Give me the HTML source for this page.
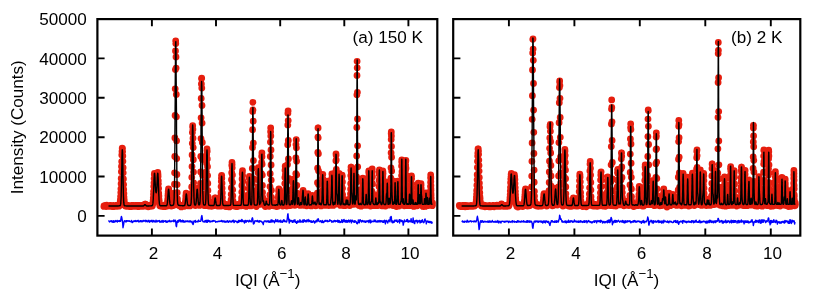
<!DOCTYPE html>
<html><head><meta charset="utf-8"><title>Diffraction</title>
<style>
html,body{margin:0;padding:0;background:#fff;}
body{width:818px;height:301px;overflow:hidden;font-family:"Liberation Sans",sans-serif;}
svg{display:block;position:absolute;left:0;top:0;will-change:transform;}
</style></head><body>
<svg width="818" height="301" viewBox="0 0 818 301">
<rect width="818" height="301" fill="#fff"/>
<g font-family="'Liberation Sans', sans-serif" font-size="17.1" fill="#000">
<path d="M103.9 206.4h0M104 205.8h0M104.2 206.4h0M104.3 205.9h0M104.5 206.4h0M104.7 205.9h0M104.8 205.6h0M105 206.1h0M105.1 205.4h0M105.3 206.2h0M105.4 206h0M105.6 206.1h0M105.7 206h0M105.9 205.7h0M106.1 206.5h0M106.2 206.4h0M106.4 206.4h0M106.5 206.2h0M106.7 205.2h0M106.8 205.8h0M107 206.1h0M107.2 206.1h0M107.3 206h0M107.5 205.9h0M107.6 205.5h0M107.8 205.8h0M107.9 205.8h0M108.1 205.8h0M108.3 205.7h0M108.4 206h0M108.6 205.8h0M108.7 205.6h0M108.9 205.9h0M109 206h0M109.2 206h0M109.3 206.3h0M109.5 205.9h0M109.7 205.8h0M109.8 205.8h0M110 206h0M110.1 205.5h0M110.3 206.2h0M110.4 206h0M110.6 205.8h0M110.8 205.4h0M110.9 206h0M111.1 206h0M111.2 206.1h0M111.4 205.7h0M111.5 206h0M111.7 206.2h0M111.8 205.7h0M112 206.5h0M112.2 205.9h0M112.3 205.6h0M112.5 206h0M112.6 206.1h0M112.8 205.8h0M112.9 205.7h0M113.1 206.1h0M113.3 205.3h0M113.4 206h0M113.6 206h0M113.7 206.2h0M113.9 205.8h0M114 205.8h0M114.2 206.5h0M114.3 206.2h0M114.5 205.8h0M114.7 205.8h0M114.8 206.1h0M115 205.9h0M115.1 206.1h0M115.3 206.4h0M115.4 205.6h0M115.6 206.1h0M115.8 205.9h0M115.9 205.3h0M116.1 206.2h0M116.2 205.5h0M116.4 206.4h0M116.5 206.4h0M116.7 205.6h0M116.8 206h0M117 206h0M117.2 205.7h0M117.3 206.2h0M117.5 205.4h0M117.6 206.3h0M117.8 205.6h0M117.9 206.1h0M118.1 206.2h0M118.3 205.5h0M118.4 205.2h0M118.6 205.8h0M118.7 205.8h0M118.9 206.2h0M119 205.2h0M119.2 205.2h0M119.3 205.6h0M119.5 205.3h0M119.7 205.4h0M119.8 204.4h0M120 203.8h0M120.1 202.5h0M120.3 200.8h0M120.4 199.5h0M120.6 196.4h0M120.8 192.6h0M120.9 188.8h0M121.1 183.7h0M121.2 178.5h0M121.4 171.7h0M121.5 166.5h0M121.7 161.6h0M121.8 155h0M122 151.4h0M122.2 148.2h0M122.3 148.8h0M122.5 148.4h0M122.6 151.6h0M122.8 155.9h0M122.9 161.3h0M123.1 167.7h0M123.2 172.8h0M123.4 178.9h0M123.6 184.6h0M123.7 189.4h0M123.9 193.4h0M124 197.1h0M124.2 199.7h0M124.3 201.2h0M124.5 202.9h0M124.7 204h0M124.8 204.1h0M125 205h0M125.1 205.3h0M125.3 205.6h0M125.4 206h0M125.6 206.1h0M125.7 205.6h0M125.9 205.3h0M126.1 205.6h0M126.2 206.3h0M126.4 206.1h0M126.5 205.5h0M126.7 205.5h0M126.8 206h0M127 206h0M127.1 206.2h0M127.3 205.7h0M127.5 205.1h0M127.6 206.4h0M127.8 206.2h0M127.9 205.8h0M128.1 205.7h0M128.2 206.4h0M128.4 206h0M128.5 205.9h0M128.7 205.9h0M128.9 206.2h0M129 205.9h0M129.2 206.5h0M129.3 205.7h0M129.5 205.6h0M129.6 205.9h0M129.8 205.9h0M129.9 206.1h0M130.1 206.2h0M130.3 205.8h0M130.4 206.1h0M130.6 205.6h0M130.7 205.8h0M130.9 205.6h0M131 206.2h0M131.2 206.4h0M131.3 206.1h0M131.5 205.6h0M131.7 206.5h0M131.8 206.3h0M132 206h0M132.1 206.3h0M132.3 205.3h0M132.4 206.1h0M132.6 205.8h0M132.7 205.7h0M132.9 206.3h0M133.1 205.9h0M133.2 205.9h0M133.4 206h0M133.5 205.9h0M133.7 206.1h0M133.8 206.3h0M134 205.6h0M134.1 205.7h0M134.3 206h0M134.5 206.4h0M134.6 206.3h0M134.8 206.2h0M134.9 205.9h0M135.1 206.3h0M135.2 205.8h0M135.4 205.9h0M135.5 206.1h0M135.7 205.8h0M135.9 206.3h0M136 205.8h0M136.2 205.9h0M136.3 206h0M136.5 206h0M136.6 205.9h0M136.8 206h0M136.9 206.4h0M137.1 205.8h0M137.3 206.3h0M137.4 205.9h0M137.6 206.6h0M137.7 206.5h0M137.9 206h0M138 206h0M138.2 206.4h0M138.3 206.2h0M138.5 205.9h0M138.6 205.5h0M138.8 205.9h0M139 205.3h0M139.1 206.6h0M139.3 206.2h0M139.4 206.4h0M139.6 206.1h0M139.7 206.2h0M139.9 205.9h0M140 206h0M140.2 206h0M140.4 206.1h0M140.5 205.6h0M140.7 206.2h0M140.8 206.3h0M141 206.3h0M141.1 205.4h0M141.3 206.1h0M141.4 206h0M141.6 205.9h0M141.7 205.5h0M141.9 206.2h0M142.1 206h0M142.2 206h0M142.4 206.2h0M142.5 205.7h0M142.7 206.3h0M142.8 205.9h0M143 206.1h0M143.1 206.2h0M143.3 206.3h0M143.5 205.4h0M143.6 206h0M143.8 205.7h0M143.9 206h0M144.1 205.5h0M144.2 205.1h0M144.4 205.2h0M144.5 204.9h0M144.7 205.2h0M144.8 204.3h0M145 204.2h0M145.2 204.6h0M145.3 205.2h0M145.5 204.2h0M145.6 204.9h0M145.8 205.1h0M145.9 205.5h0M146.1 205.3h0M146.2 206.2h0M146.4 206h0M146.5 206.1h0M146.7 206h0M146.9 206h0M147 206h0M147.2 205.7h0M147.3 206.5h0M147.5 206h0M147.6 205.2h0M147.8 205.3h0M147.9 206.3h0M148.1 205.7h0M148.2 206.8h0M148.4 206h0M148.6 205.3h0M148.7 206.1h0M148.9 206.2h0M149 205.9h0M149.2 206.1h0M149.3 206.4h0M149.5 206.2h0M149.6 206.2h0M149.8 205.9h0M149.9 205.1h0M150.1 205.9h0M150.3 205.4h0M150.4 205.8h0M150.6 206.1h0M150.7 206.1h0M150.9 206.3h0M151 205.9h0M151.2 205.8h0M151.3 205.2h0M151.5 205.7h0M151.6 205.8h0M151.8 205.9h0M152 205.8h0M152.1 205.2h0M152.3 206h0M152.4 205.6h0M152.6 204.8h0M152.7 204.4h0M152.9 203.3h0M153 201.9h0M153.2 200.1h0M153.3 197.8h0M153.5 194.3h0M153.6 191.5h0M153.8 186.4h0M154 182.8h0M154.1 178.6h0M154.3 174.5h0M154.4 173.5h0M154.6 173.8h0M154.7 174.7h0M154.9 176.6h0M155 178.8h0M155.2 182.1h0M155.3 185.9h0M155.5 188h0M155.6 190.2h0M155.8 191.5h0M156 192.6h0M156.1 192.1h0M156.3 192.3h0M156.4 192.1h0M156.6 191.1h0M156.7 188.9h0M156.9 187.1h0M157 184.5h0M157.2 181.4h0M157.3 177.6h0M157.5 175.7h0M157.6 173.9h0M157.8 172.5h0M158 174.3h0M158.1 176.2h0M158.3 180.7h0M158.4 183.8h0M158.6 188.5h0M158.7 193.2h0M158.9 195.9h0M159 199.2h0M159.2 200.7h0M159.3 202.4h0M159.5 204.1h0M159.6 204.5h0M159.8 205.7h0M160 205.6h0M160.1 205h0M160.3 206.1h0M160.4 205.8h0M160.6 205.4h0M160.7 205.5h0M160.9 205.4h0M161 205.4h0M161.2 205.3h0M161.3 206.3h0M161.5 205.7h0M161.6 206h0M161.8 205.9h0M161.9 206h0M162.1 205.7h0M162.3 206.1h0M162.4 205.5h0M162.6 205.4h0M162.7 205.8h0M162.9 205.4h0M163 206.5h0M163.2 205.6h0M163.3 205.7h0M163.5 205.8h0M163.6 206h0M163.8 205.7h0M163.9 205.5h0M164.1 206h0M164.2 205.6h0M164.4 205.9h0M164.5 205.5h0M164.7 206.7h0M164.9 206.1h0M165 204.9h0M165.2 205.7h0M165.3 206.2h0M165.5 205.9h0M165.6 205.9h0M165.8 205.3h0M165.9 206.2h0M166.1 205.9h0M166.2 205.6h0M166.4 205.8h0M166.5 205.3h0M166.7 206.2h0M166.8 205.3h0M167 204.5h0M167.1 203.6h0M167.3 203h0M167.5 201.8h0M167.6 200.5h0M167.8 198.8h0M167.9 195.6h0M168.1 193.6h0M168.2 191.6h0M168.4 189.7h0M168.5 188.9h0M168.7 189.4h0M168.8 189.2h0M169 191.5h0M169.1 193.3h0M169.3 196.6h0M169.4 198.6h0M169.6 200h0M169.7 202.9h0M169.9 203h0M170.1 203.8h0M170.2 204.8h0M170.4 205.5h0M170.5 204.2h0M170.7 205.4h0M170.8 205.7h0M171 205.9h0M171.1 205.6h0M171.3 206h0M171.4 205.5h0M171.6 205.6h0M171.7 205h0M171.9 205.5h0M172 205.4h0M172.2 205.3h0M172.3 205.7h0M172.5 205.2h0M172.6 205.1h0M172.8 205h0M172.9 205.1h0M173.1 205.2h0M173.3 204.7h0M173.4 205.4h0M173.6 204.5h0M173.7 204.2h0M173.9 203h0M174 201.6h0M174.2 197.3h0M174.3 193.1h0M174.5 184.2h0M174.6 172.8h0M174.8 156.4h0M174.9 138h0M175.1 115.4h0M175.2 88.8h0M175.4 69.6h0M175.5 51h0M175.7 40.9h0M175.8 43.6h0M176 56.9h0M176.1 68.1h0M176.3 94.4h0M176.4 116.8h0M176.6 140.8h0M176.7 158.6h0M176.9 174.5h0M177.1 184.6h0M177.2 192.7h0M177.4 198.9h0M177.5 201.7h0M177.7 202.1h0M177.8 203.8h0M178 204h0M178.1 205h0M178.3 205h0M178.4 205h0M178.6 205.3h0M178.7 205h0M178.9 204.4h0M179 205.5h0M179.2 205.7h0M179.3 205.8h0M179.5 205.4h0M179.6 205.3h0M179.8 205.2h0M179.9 205.7h0M180.1 205.8h0M180.2 205.9h0M180.4 205.6h0M180.5 205.7h0M180.7 205.1h0M180.8 206h0M181 206h0M181.1 205.6h0M181.3 206.9h0M181.4 205.2h0M181.6 206h0M181.7 206.4h0M181.9 206.1h0M182 206.4h0M182.2 205.7h0M182.4 205.8h0M182.5 205.7h0M182.7 205.7h0M182.8 205.8h0M183 205.3h0M183.1 206.1h0M183.3 205.1h0M183.4 205.9h0M183.6 205.8h0M183.7 205.6h0M183.9 204.8h0M184 206h0M184.2 206.2h0M184.3 205.4h0M184.5 206.3h0M184.6 204.8h0M184.8 204.7h0M184.9 204.7h0M185.1 204h0M185.2 203.2h0M185.4 201.4h0M185.5 200.6h0M185.7 198.7h0M185.8 195.9h0M186 195.3h0M186.1 193.2h0M186.3 193.8h0M186.4 193.8h0M186.6 194.6h0M186.7 196.2h0M186.9 198.3h0M187 199h0M187.2 201.2h0M187.3 202.4h0M187.5 203.6h0M187.6 204.5h0M187.8 204.3h0M187.9 205.3h0M188.1 205.7h0M188.2 205.6h0M188.4 205.4h0M188.5 205.6h0M188.7 205.4h0M188.8 205.9h0M189 205.9h0M189.1 205.1h0M189.3 205.4h0M189.4 204.9h0M189.6 205.5h0M189.7 204.4h0M189.9 205.9h0M190 205.5h0M190.2 205.6h0M190.3 205.3h0M190.5 204.9h0M190.6 205h0M190.8 204.8h0M190.9 203.7h0M191.1 202.9h0M191.2 201.8h0M191.4 198.6h0M191.5 193.4h0M191.7 186.9h0M191.8 177.3h0M192 166.6h0M192.1 155h0M192.3 143.3h0M192.4 132.4h0M192.6 126.8h0M192.7 125.7h0M192.9 129.2h0M193 138.2h0M193.2 147.6h0M193.3 159.7h0M193.5 172.1h0M193.6 182.8h0M193.8 190.9h0M193.9 195.6h0M194.1 199.2h0M194.2 202.5h0M194.4 203.6h0M194.5 203.5h0M194.7 205.3h0M194.8 204.9h0M195 204.9h0M195.1 204.8h0M195.3 205.5h0M195.4 205.1h0M195.6 204.2h0M195.7 204.4h0M195.9 203.6h0M196 202.7h0M196.2 201.2h0M196.3 200h0M196.5 197.4h0M196.6 195.7h0M196.8 192.3h0M196.9 191h0M197.1 188.7h0M197.2 188.5h0M197.4 189.6h0M197.5 191.2h0M197.7 191.9h0M197.8 196h0M198 198.2h0M198.1 200.7h0M198.3 203h0M198.4 203.5h0M198.6 203.5h0M198.7 204.1h0M198.9 204.9h0M199 205.2h0M199.2 204.5h0M199.3 204.5h0M199.5 205.4h0M199.6 205h0M199.8 203.8h0M199.9 202.7h0M200.1 200.9h0M200.2 197.6h0M200.4 192.4h0M200.5 183.3h0M200.7 172h0M200.8 156.4h0M201 138.6h0M201.1 117.8h0M201.2 98.4h0M201.4 84h0M201.5 78.6h0M201.7 78.2h0M201.8 88.1h0M202 105.4h0M202.1 123.1h0M202.3 142.4h0M202.4 159.4h0M202.6 175.2h0M202.7 186.5h0M202.9 194.1h0M203 198.5h0M203.2 201.7h0M203.3 203.4h0M203.5 204.3h0M203.6 204.6h0M203.8 204.9h0M203.9 204.7h0M204.1 205.1h0M204.2 205.4h0M204.4 204.8h0M204.5 205.1h0M204.7 205h0M204.8 204.4h0M205 205.7h0M205.1 204.5h0M205.3 205.1h0M205.4 204h0M205.5 203.8h0M205.7 201.3h0M205.8 198.8h0M206 194.7h0M206.1 187.8h0M206.3 180.7h0M206.4 171.8h0M206.6 163.2h0M206.7 154.5h0M206.9 150.2h0M207 149h0M207.2 151.2h0M207.3 159h0M207.5 166.7h0M207.6 175.6h0M207.8 183.4h0M207.9 190.4h0M208.1 196.8h0M208.2 200.1h0M208.4 201.9h0M208.5 203.3h0M208.7 204.5h0M208.8 204.7h0M208.9 206h0M209.1 205.6h0M209.2 204.6h0M209.4 205.8h0M209.5 205.8h0M209.7 205.5h0M209.8 205.1h0M210 205.3h0M210.1 205.1h0M210.3 205.6h0M210.4 205.2h0M210.6 205.4h0M210.7 205.6h0M210.9 204.9h0M211 205.8h0M211.2 206.2h0M211.3 206.1h0M211.5 206.3h0M211.6 205.1h0M211.7 206.1h0M211.9 205.8h0M212 205.8h0M212.2 204.7h0M212.3 205.2h0M212.5 206.1h0M212.6 205.8h0M212.8 205.5h0M212.9 205.5h0M213.1 205.7h0M213.2 205.8h0M213.4 205.3h0M213.5 204.9h0M213.7 205h0M213.8 205.2h0M214 204.6h0M214.1 204.6h0M214.2 204h0M214.4 203.1h0M214.5 202.1h0M214.7 200.9h0M214.8 199.7h0M215 198h0M215.1 198.2h0M215.3 198h0M215.4 198.1h0M215.6 199h0M215.7 200.9h0M215.9 201.9h0M216 204.1h0M216.1 203.8h0M216.3 204.8h0M216.4 205.3h0M216.6 204h0M216.7 204.7h0M216.9 205.4h0M217 205.7h0M217.2 205.3h0M217.3 205.6h0M217.5 206h0M217.6 205.8h0M217.8 205.3h0M217.9 205.6h0M218 206.1h0M218.2 205.1h0M218.3 205.7h0M218.5 205.4h0M218.6 205.4h0M218.8 205.2h0M218.9 205.7h0M219.1 205.5h0M219.2 205.7h0M219.4 205.7h0M219.5 205.4h0M219.7 205.6h0M219.8 205.2h0M219.9 204.9h0M220.1 204.8h0M220.2 206.2h0M220.4 203.4h0M220.5 202.8h0M220.7 199.8h0M220.8 195.9h0M221 192.5h0M221.1 186.6h0M221.3 181.3h0M221.4 178.2h0M221.5 175.6h0M221.7 175.4h0M221.8 178.3h0M222 183.2h0M222.1 188.2h0M222.3 193h0M222.4 197.4h0M222.6 201.5h0M222.7 202.6h0M222.9 204.7h0M223 204.4h0M223.1 204.9h0M223.3 204.8h0M223.4 205.5h0M223.6 205.3h0M223.7 205.7h0M223.9 205.8h0M224 205.9h0M224.2 205.9h0M224.3 205.7h0M224.5 205.1h0M224.6 205.1h0M224.7 205.5h0M224.9 205.5h0M225 205.6h0M225.2 205.3h0M225.3 205.8h0M225.5 204.9h0M225.6 205.8h0M225.8 206.6h0M225.9 205.2h0M226 205.8h0M226.2 204.4h0M226.3 206.6h0M226.5 205.4h0M226.6 205.6h0M226.8 205.6h0M226.9 205.1h0M227.1 205.3h0M227.2 205.2h0M227.3 205.8h0M227.5 205.7h0M227.6 206.2h0M227.8 205.1h0M227.9 206.1h0M228.1 204.8h0M228.2 205.7h0M228.4 205.7h0M228.5 205.7h0M228.6 206h0M228.8 205.6h0M228.9 205.8h0M229.1 206h0M229.2 205.2h0M229.4 206.9h0M229.5 205.4h0M229.7 205.5h0M229.8 206.2h0M229.9 204.3h0M230.1 205.7h0M230.2 204.9h0M230.4 204.4h0M230.5 204.8h0M230.7 204.4h0M230.8 203.2h0M230.9 202h0M231.1 199.6h0M231.2 194.3h0M231.4 188h0M231.5 179.7h0M231.7 172.7h0M231.8 165.2h0M232 162.5h0M232.1 164.4h0M232.2 167.8h0M232.4 174.9h0M232.5 182.4h0M232.7 189.8h0M232.8 195.8h0M233 200.8h0M233.1 203.4h0M233.2 202.7h0M233.4 204.5h0M233.5 204.5h0M233.7 205h0M233.8 205.4h0M234 205.5h0M234.1 205.6h0M234.2 206h0M234.4 205.3h0M234.5 205.6h0M234.7 205.2h0M234.8 204.8h0M235 205.6h0M235.1 204.7h0M235.2 205.5h0M235.4 205.6h0M235.5 205h0M235.7 206.2h0M235.8 205.9h0M236 206.6h0M236.1 205.9h0M236.2 205.4h0M236.4 205.6h0M236.5 205.7h0M236.7 205.7h0M236.8 205h0M237 205.5h0M237.1 205.6h0M237.2 205.8h0M237.4 206.6h0M237.5 205.6h0M237.7 205.6h0M237.8 205.7h0M238 205.1h0M238.1 205.8h0M238.2 205h0M238.4 206h0M238.5 204.6h0M238.7 205h0M238.8 206h0M238.9 205.6h0M239.1 204.5h0M239.2 204.7h0M239.4 205.9h0M239.5 205.8h0M239.7 205.7h0M239.8 204h0M239.9 204.9h0M240.1 205h0M240.2 205.9h0M240.4 204.8h0M240.5 205.9h0M240.7 205h0M240.8 205.1h0M240.9 204.8h0M241.1 204.9h0M241.2 203.9h0M241.4 203.8h0M241.5 201h0M241.6 197.9h0M241.8 192.1h0M241.9 185.4h0M242.1 178.9h0M242.2 173.7h0M242.4 171.9h0M242.5 170.7h0M242.6 175.6h0M242.8 181.2h0M242.9 188.3h0M243.1 194.8h0M243.2 198.9h0M243.3 202h0M243.5 203.5h0M243.6 205h0M243.8 204.8h0M243.9 205h0M244 204.6h0M244.2 205.8h0M244.3 204.4h0M244.5 205.4h0M244.6 204.8h0M244.8 205.4h0M244.9 205h0M245 205.1h0M245.2 205.7h0M245.3 206h0M245.5 204.8h0M245.6 205h0M245.7 204.5h0M245.9 205.6h0M246 206h0M246.2 204.7h0M246.3 206.4h0M246.4 205.7h0M246.6 205.4h0M246.7 205.7h0M246.9 205.8h0M247 205.8h0M247.1 204.4h0M247.3 204.7h0M247.4 205.8h0M247.6 205.2h0M247.7 205.5h0M247.8 205.5h0M248 205.1h0M248.1 204.4h0M248.3 204.3h0M248.4 204.5h0M248.5 202h0M248.7 198.7h0M248.8 194.7h0M249 188.6h0M249.1 183.7h0M249.2 178.1h0M249.4 176.3h0M249.5 177.9h0M249.7 181.7h0M249.8 187.3h0M249.9 191.6h0M250.1 197.5h0M250.2 201.3h0M250.4 202.9h0M250.5 203.2h0M250.6 203.9h0M250.8 205.9h0M250.9 204.9h0M251.1 204.1h0M251.2 204.9h0M251.3 204.8h0M251.5 205.1h0M251.6 203.7h0M251.8 202.4h0M251.9 199.5h0M252 194h0M252.2 182.9h0M252.3 168.4h0M252.5 147.5h0M252.6 129.7h0M252.7 111.4h0M252.9 102.3h0M253 110h0M253.2 121.2h0M253.3 143.1h0M253.4 160.6h0M253.6 178.8h0M253.7 190.9h0M253.8 198.5h0M254 202.4h0M254.1 204.2h0M254.3 203.6h0M254.4 204.3h0M254.5 204.7h0M254.7 204.7h0M254.8 205.5h0M255 205.5h0M255.1 204.8h0M255.2 205.6h0M255.4 204.6h0M255.5 205.2h0M255.7 205.2h0M255.8 205.5h0M255.9 204.2h0M256.1 205.7h0M256.2 205.8h0M256.3 206.5h0M256.5 204.6h0M256.6 205.5h0M256.8 205.1h0M256.9 205.3h0M257 204h0M257.2 205.1h0M257.3 203.8h0M257.5 201.1h0M257.6 198.7h0M257.7 193.8h0M257.9 186.7h0M258 179.7h0M258.1 172.8h0M258.3 167.7h0M258.4 168.6h0M258.6 171.6h0M258.7 179h0M258.8 187.1h0M259 193.6h0M259.1 199h0M259.2 201.8h0M259.4 203h0M259.5 204.2h0M259.7 204.4h0M259.8 204h0M259.9 203.2h0M260.1 204h0M260.2 203.2h0M260.3 203.7h0M260.5 202.9h0M260.6 201.7h0M260.8 203.1h0M260.9 201.1h0M261 198.8h0M261.2 192.3h0M261.3 185.3h0M261.4 173.6h0M261.6 162.4h0M261.7 156.2h0M261.9 153h0M262 156.7h0M262.1 164.2h0M262.3 175.1h0M262.4 185.4h0M262.5 192.4h0M262.7 197.3h0M262.8 200.2h0M262.9 201.7h0M263.1 201.7h0M263.2 201.4h0M263.4 201.1h0M263.5 201.2h0M263.6 201.8h0M263.8 203.2h0M263.9 202.7h0M264 203.8h0M264.2 205h0M264.3 203.6h0M264.5 203.9h0M264.6 204.4h0M264.7 204.6h0M264.9 205.9h0M265 205.8h0M265.1 205h0M265.3 206.5h0M265.4 204.7h0M265.5 203.7h0M265.7 203.9h0M265.8 203h0M266 203.2h0M266.1 201.8h0M266.2 201.1h0M266.4 201h0M266.5 201.5h0M266.6 202.7h0M266.8 202.2h0M266.9 203.8h0M267 204.6h0M267.2 204.5h0M267.3 204h0M267.4 204h0M267.6 204.2h0M267.7 204.3h0M267.9 204.5h0M268 204.8h0M268.1 204.9h0M268.3 204.8h0M268.4 205.2h0M268.5 205.2h0M268.7 204.9h0M268.8 204.2h0M268.9 205h0M269.1 206.3h0M269.2 205.2h0M269.3 203.2h0M269.5 204.3h0M269.6 202.6h0M269.7 200.4h0M269.9 194.9h0M270 186.6h0M270.2 173.7h0M270.3 156.5h0M270.4 142.1h0M270.6 131.7h0M270.7 127.9h0M270.8 136h0M271 150h0M271.1 165h0M271.2 180.1h0M271.4 190.3h0M271.5 197.3h0M271.6 201.1h0M271.8 203.8h0M271.9 204.5h0M272 204.4h0M272.2 205h0M272.3 205.1h0M272.4 204.5h0M272.6 205.7h0M272.7 205h0M272.8 204.9h0M273 205.1h0M273.1 205.5h0M273.2 204.6h0M273.4 204.9h0M273.5 205.5h0M273.7 204.7h0M273.8 205.8h0M273.9 204.7h0M274.1 204.5h0M274.2 204.9h0M274.3 205h0M274.5 204.7h0M274.6 204.7h0M274.7 205.1h0M274.9 205h0M275 206h0M275.1 205.5h0M275.3 204.7h0M275.4 204.8h0M275.5 205.6h0M275.7 205.9h0M275.8 205.3h0M275.9 204.4h0M276.1 205.5h0M276.2 205.3h0M276.3 204.4h0M276.5 203.7h0M276.6 204.5h0M276.7 206.5h0M276.9 205h0M277 205.1h0M277.1 205.4h0M277.3 204.7h0M277.4 204.4h0M277.5 205.5h0M277.7 206.2h0M277.8 205.3h0M277.9 203.4h0M278.1 203h0M278.2 201.4h0M278.3 197.5h0M278.5 195.5h0M278.6 191h0M278.7 189.5h0M278.9 189h0M279 190.5h0M279.1 193.5h0M279.3 197.8h0M279.4 201.5h0M279.5 202.9h0M279.6 203.8h0M279.8 204.7h0M279.9 204.3h0M280 204.1h0M280.2 203.5h0M280.3 205.2h0M280.4 205.2h0M280.6 204.9h0M280.7 204.8h0M280.8 204.9h0M281 204.1h0M281.1 204.9h0M281.2 204.6h0M281.4 202h0M281.5 200.9h0M281.6 199.5h0M281.8 200.2h0M281.9 200.3h0M282 201.4h0M282.2 202.6h0M282.3 203.3h0M282.4 203.4h0M282.6 204.4h0M282.7 206.1h0M282.8 205.4h0M282.9 205.5h0M283.1 204.7h0M283.2 205h0M283.3 205.6h0M283.5 205.3h0M283.6 205.2h0M283.7 204.6h0M283.9 205.4h0M284 205.3h0M284.1 203.9h0M284.3 202.5h0M284.4 200.4h0M284.5 197.9h0M284.7 192.8h0M284.8 183.6h0M284.9 177.4h0M285 170.3h0M285.2 166.2h0M285.3 168.3h0M285.4 174.3h0M285.6 182.7h0M285.7 189.5h0M285.8 196.8h0M286 200.3h0M286.1 202.5h0M286.2 204.6h0M286.4 204.3h0M286.5 205.4h0M286.6 204.1h0M286.7 206.1h0M286.9 204h0M287 202h0M287.1 198.1h0M287.3 191.8h0M287.4 180.7h0M287.5 164.4h0M287.7 144.7h0M287.8 124.9h0M287.9 113.3h0M288.1 111h0M288.2 120.6h0M288.3 140.4h0M288.4 159h0M288.6 178.3h0M288.7 190.4h0M288.8 197.9h0M289 200.6h0M289.1 203.3h0M289.2 204.3h0M289.3 204h0M289.5 204.9h0M289.6 203.7h0M289.7 205.5h0M289.9 205.4h0M290 204.4h0M290.1 204.5h0M290.3 205.3h0M290.4 205.6h0M290.5 204.6h0M290.6 204.7h0M290.8 204.7h0M290.9 204.4h0M291 203.7h0M291.2 202.7h0M291.3 202.2h0M291.4 200.5h0M291.5 201.5h0M291.7 200.1h0M291.8 202.5h0M291.9 202.8h0M292.1 203.8h0M292.2 204.6h0M292.3 205h0M292.5 203.7h0M292.6 204.5h0M292.7 201.3h0M292.8 196.9h0M293 192.9h0M293.1 187.9h0M293.2 183.8h0M293.4 179.2h0M293.5 179.8h0M293.6 183.9h0M293.7 189.6h0M293.9 194.8h0M294 198.8h0M294.1 201.5h0M294.2 204h0M294.4 203.9h0M294.5 204.5h0M294.6 204.9h0M294.8 204.8h0M294.9 205.3h0M295 203.9h0M295.1 203.1h0M295.3 202.6h0M295.4 199.7h0M295.5 194.4h0M295.7 186.5h0M295.8 173.7h0M295.9 157.8h0M296 144.6h0M296.2 139.7h0M296.3 139.9h0M296.4 147.8h0M296.6 161.2h0M296.7 174.8h0M296.8 185.3h0M296.9 193.1h0M297.1 199h0M297.2 201.8h0M297.3 203.2h0M297.4 204.2h0M297.6 204.4h0M297.7 203.6h0M297.8 203.1h0M298 202.5h0M298.1 200.6h0M298.2 199.8h0M298.3 199.1h0M298.5 198.5h0M298.6 197.8h0M298.7 199.3h0M298.8 200h0M299 202.8h0M299.1 204.7h0M299.2 203.6h0M299.3 204.5h0M299.5 205.1h0M299.6 204.1h0M299.7 204.9h0M299.9 204.9h0M300 204.1h0M300.1 203.8h0M300.2 205.4h0M300.4 204h0M300.5 204.7h0M300.6 204.1h0M300.7 202.4h0M300.9 201.5h0M301 202.4h0M301.1 203.5h0M301.2 203.8h0M301.4 204.2h0M301.5 204.7h0M301.6 204.5h0M301.7 204.2h0M301.9 203.9h0M302 202.5h0M302.1 200.6h0M302.2 199.7h0M302.4 196.6h0M302.5 196.2h0M302.6 194.1h0M302.8 192.5h0M302.9 191.4h0M303 190.7h0M303.1 190.5h0M303.3 192.3h0M303.4 195.1h0M303.5 198h0M303.6 200.9h0M303.8 202h0M303.9 204.3h0M304 204.6h0M304.1 205.4h0M304.3 203.5h0M304.4 203.7h0M304.5 203.9h0M304.6 202.9h0M304.8 203h0M304.9 200.4h0M305 198.8h0M305.1 197.6h0M305.3 196.6h0M305.4 197.6h0M305.5 200h0M305.6 201.2h0M305.8 202.7h0M305.9 203h0M306 203.5h0M306.1 204.5h0M306.2 205.4h0M306.4 205.8h0M306.5 204.6h0M306.6 205.3h0M306.7 204.1h0M306.9 205.8h0M307 205.2h0M307.1 205.2h0M307.2 204.3h0M307.4 204.2h0M307.5 202.2h0M307.6 201.5h0M307.7 199.3h0M307.9 198.7h0M308 195.2h0M308.1 193.6h0M308.2 194.5h0M308.4 195h0M308.5 198h0M308.6 199.5h0M308.7 201.8h0M308.9 204.7h0M309 203.9h0M309.1 203.7h0M309.2 204.4h0M309.3 204.9h0M309.5 204.4h0M309.6 204.1h0M309.7 205.4h0M309.8 205.1h0M310 204.2h0M310.1 205.4h0M310.2 204.6h0M310.3 204h0M310.5 204.7h0M310.6 205.7h0M310.7 204.3h0M310.8 205.7h0M310.9 205.2h0M311.1 204.5h0M311.2 203.8h0M311.3 204.5h0M311.4 205.9h0M311.6 205.2h0M311.7 203.9h0M311.8 201.8h0M311.9 201.2h0M312 199.3h0M312.2 197.2h0M312.3 195.9h0M312.4 195.3h0M312.5 196.3h0M312.7 197.7h0M312.8 200h0M312.9 201.6h0M313 203h0M313.1 204.5h0M313.3 203.6h0M313.4 204.5h0M313.5 203.7h0M313.6 203.4h0M313.8 202.7h0M313.9 202h0M314 203.4h0M314.1 202.9h0M314.2 204.2h0M314.4 204.4h0M314.5 203.5h0M314.6 203.3h0M314.7 202.8h0M314.9 202.8h0M315 201.7h0M315.1 201.6h0M315.2 201.3h0M315.3 203.4h0M315.5 204.4h0M315.6 203h0M315.7 205.8h0M315.8 203.6h0M315.9 205.7h0M316.1 204.4h0M316.2 205h0M316.3 204.6h0M316.4 204.8h0M316.5 204.6h0M316.7 203.7h0M316.8 202.6h0M316.9 203.4h0M317 203h0M317.2 201.4h0M317.3 199.4h0M317.4 193.1h0M317.5 182.7h0M317.6 168.2h0M317.8 152.5h0M317.9 137.1h0M318 127.9h0M318.1 128h0M318.2 137.8h0M318.4 153.7h0M318.5 170.8h0M318.6 184.6h0M318.7 194h0M318.8 199.3h0M319 202.4h0M319.1 204.1h0M319.2 204.4h0M319.3 205.1h0M319.4 204h0M319.6 203.3h0M319.7 203.3h0M319.8 204.6h0M319.9 203.3h0M320 203.1h0M320.2 203.2h0M320.3 203.4h0M320.4 204.3h0M320.5 205.3h0M320.6 204.7h0M320.7 205.2h0M320.9 204.2h0M321 205.9h0M321.1 205.5h0M321.2 204.8h0M321.3 204.8h0M321.5 203.3h0M321.6 203.6h0M321.7 203.7h0M321.8 201.8h0M321.9 201.7h0M322.1 197.5h0M322.2 195h0M322.3 190.8h0M322.4 184.1h0M322.5 178h0M322.7 174.6h0M322.8 174.3h0M322.9 178.8h0M323 185.3h0M323.1 191.1h0M323.2 198h0M323.4 201.3h0M323.5 203.8h0M323.6 204h0M323.7 203.9h0M323.8 204.4h0M324 204h0M324.1 203.9h0M324.2 204.6h0M324.3 204.9h0M324.4 204.2h0M324.5 204h0M324.7 204.6h0M324.8 205.1h0M324.9 203.8h0M325 204.7h0M325.1 205.4h0M325.2 205.3h0M325.4 204.6h0M325.5 203.5h0M325.6 204h0M325.7 205.3h0M325.8 203.9h0M326 204.1h0M326.1 204.3h0M326.2 203.5h0M326.3 204.5h0M326.4 204.3h0M326.5 203.4h0M326.7 201.8h0M326.8 198.9h0M326.9 194.4h0M327 188.5h0M327.1 183.9h0M327.2 181.6h0M327.4 181.1h0M327.5 183.2h0M327.6 187.9h0M327.7 194.8h0M327.8 198.4h0M327.9 200.2h0M328.1 203.9h0M328.2 204.5h0M328.3 205.1h0M328.4 205h0M328.5 204.1h0M328.6 205.4h0M328.8 205.5h0M328.9 204.8h0M329 203.9h0M329.1 204.4h0M329.2 205.1h0M329.3 204.3h0M329.5 204.7h0M329.6 204.9h0M329.7 204.6h0M329.8 205.3h0M329.9 204.7h0M330 205.3h0M330.1 204.8h0M330.3 205.4h0M330.4 204.6h0M330.5 203.7h0M330.6 203h0M330.7 201.3h0M330.8 201.3h0M331 198.8h0M331.1 199.3h0M331.2 198.1h0M331.3 195.1h0M331.4 191.8h0M331.5 187.5h0M331.6 182.6h0M331.8 178.1h0M331.9 173.9h0M332 174.2h0M332.1 178.8h0M332.2 184.8h0M332.3 189.9h0M332.5 195.5h0M332.6 199.8h0M332.7 201.8h0M332.8 202.8h0M332.9 203.6h0M333 204h0M333.1 204.1h0M333.3 205.4h0M333.4 205.2h0M333.5 204.6h0M333.6 203.9h0M333.7 203.4h0M333.8 202.7h0M333.9 202.8h0M334.1 202.7h0M334.2 202.7h0M334.3 202.6h0M334.4 202.8h0M334.5 202.9h0M334.6 203h0M334.7 204.6h0M334.8 202.1h0M335 203.9h0M335.1 203.3h0M335.2 202.8h0M335.3 201.5h0M335.4 197.5h0M335.5 191.4h0M335.6 182.1h0M335.8 171.4h0M335.9 160.7h0M336 153.8h0M336.1 155h0M336.2 159.9h0M336.3 169.5h0M336.4 179.7h0M336.5 187h0M336.7 191.7h0M336.8 192.6h0M336.9 194.1h0M337 193.9h0M337.1 194.8h0M337.2 197.2h0M337.3 200.3h0M337.5 201.1h0M337.6 202.8h0M337.7 203.7h0M337.8 203h0M337.9 203.9h0M338 203.6h0M338.1 202.6h0M338.2 201.4h0M338.4 199.7h0M338.5 197.3h0M338.6 193.1h0M338.7 188.1h0M338.8 184.3h0M338.9 176.9h0M339 173.3h0M339.1 173.7h0M339.2 177.2h0M339.4 183.1h0M339.5 189.3h0M339.6 195.3h0M339.7 199.4h0M339.8 202.5h0M339.9 202.9h0M340 204.2h0M340.1 204.5h0M340.3 204.9h0M340.4 204.5h0M340.5 205.4h0M340.6 205.4h0M340.7 204.7h0M340.8 205h0M340.9 205.3h0M341 204.6h0M341.1 204.4h0M341.3 203.6h0M341.4 202.6h0M341.5 199.8h0M341.6 197.5h0M341.7 191.6h0M341.8 186.3h0M341.9 181.2h0M342 176.8h0M342.1 175.1h0M342.3 176.1h0M342.4 181.9h0M342.5 188.3h0M342.6 194.6h0M342.7 198h0M342.8 201.3h0M342.9 204.3h0M343 203.3h0M343.1 205.5h0M343.2 204h0M343.4 203.7h0M343.5 205.3h0M343.6 204.4h0M343.7 203.1h0M343.8 203.6h0M343.9 203.3h0M344 202.6h0M344.1 203.8h0M344.2 203.4h0M344.3 203.6h0M344.5 204.8h0M344.6 203.5h0M344.7 204.2h0M344.8 204.9h0M344.9 204.3h0M345 205.5h0M345.1 205.7h0M345.2 203.4h0M345.3 203.7h0M345.4 204.6h0M345.5 205.5h0M345.7 204.7h0M345.8 203h0M345.9 202.4h0M346 201.3h0M346.1 200.6h0M346.2 200h0M346.3 199.9h0M346.4 200.6h0M346.5 199.8h0M346.6 202.8h0M346.7 203.5h0M346.9 204.6h0M347 205.2h0M347.1 204.4h0M347.2 202.3h0M347.3 202.5h0M347.4 200h0M347.5 199.7h0M347.6 199.7h0M347.7 200.7h0M347.8 201.4h0M347.9 201.9h0M348 202h0M348.2 205.2h0M348.3 203.5h0M348.4 205h0M348.5 204.9h0M348.6 204.9h0M348.7 203.9h0M348.8 204.5h0M348.9 204.5h0M349 205.1h0M349.1 204.7h0M349.2 205.2h0M349.3 204.7h0M349.4 205.6h0M349.6 203.8h0M349.7 203.3h0M349.8 205.5h0M349.9 205h0M350 204.4h0M350.1 203.8h0M350.2 203.3h0M350.3 201.4h0M350.4 197.7h0M350.5 193.8h0M350.6 189.1h0M350.7 183.6h0M350.8 175.6h0M350.9 170.1h0M351 167.1h0M351.2 167.2h0M351.3 172.5h0M351.4 178.5h0M351.5 185h0M351.6 189.2h0M351.7 193h0M351.8 193.5h0M351.9 194h0M352 195.3h0M352.1 196.3h0M352.2 200.3h0M352.3 202.2h0M352.4 202.4h0M352.5 203.6h0M352.6 204.4h0M352.7 204.2h0M352.9 204.4h0M353 203.8h0M353.1 203.3h0M353.2 201.8h0M353.3 201.3h0M353.4 197.9h0M353.5 194.4h0M353.6 189.5h0M353.7 181.3h0M353.8 175.5h0M353.9 173.8h0M354 171.4h0M354.1 178.1h0M354.2 183.4h0M354.3 189.9h0M354.4 196.4h0M354.5 200.5h0M354.6 202.9h0M354.7 201.9h0M354.9 202.9h0M355 204.2h0M355.1 203.4h0M355.2 203.5h0M355.3 202.7h0M355.4 202.1h0M355.5 199h0M355.6 196.9h0M355.7 196.4h0M355.8 195.9h0M355.9 195.9h0M356 198.5h0M356.1 198.7h0M356.2 200h0M356.3 200.2h0M356.4 198h0M356.5 191.1h0M356.6 177h0M356.7 156h0M356.8 127.5h0M356.9 94.8h0M357 75.4h0M357.1 61.3h0M357.2 67.8h0M357.4 92.3h0M357.5 118.9h0M357.6 145.8h0M357.7 166.8h0M357.8 181.5h0M357.9 190.1h0M358 194.9h0M358.1 198.5h0M358.2 199.7h0M358.3 202.1h0M358.4 203.5h0M358.5 204.4h0M358.6 204.3h0M358.7 203.3h0M358.8 203.1h0M358.9 204.7h0M359 205.5h0M359.1 204h0M359.2 203.1h0M359.3 204.7h0M359.4 204.8h0M359.5 205.4h0M359.6 204.6h0M359.7 204.5h0M359.8 205.2h0M359.9 203.9h0M360 203.5h0M360.1 203.3h0M360.2 204.2h0M360.3 203.9h0M360.4 203.9h0M360.5 203.7h0M360.6 204.4h0M360.7 203.5h0M360.8 204.7h0M360.9 203.4h0M361 203.8h0M361.1 206.2h0M361.2 204.1h0M361.4 204.2h0M361.5 204.2h0M361.6 203.4h0M361.7 205h0M361.8 203.4h0M361.9 203.7h0M362 204.4h0M362.1 202.5h0M362.2 201.3h0M362.3 198.9h0M362.4 194.5h0M362.5 191.9h0M362.6 187.1h0M362.7 180.5h0M362.8 178.1h0M362.9 178.7h0M363 182.4h0M363.1 186.8h0M363.2 194h0M363.3 196.1h0M363.4 199.3h0M363.5 202.4h0M363.6 202.4h0M363.7 203.1h0M363.8 203.7h0M363.9 203.7h0M364 203.9h0M364.1 204.1h0M364.2 204.2h0M364.3 204.9h0M364.4 204.4h0M364.5 205h0M364.6 204.9h0M364.7 204.5h0M364.8 205h0M364.9 204.2h0M365 204.1h0M365.1 204.4h0M365.2 204.2h0M365.3 205.2h0M365.4 204h0M365.5 205.4h0M365.6 202.7h0M365.7 202.6h0M365.8 201.7h0M365.9 198.5h0M366 196.8h0M366.1 193.8h0M366.2 194.2h0M366.3 194h0M366.4 196.3h0M366.5 197.6h0M366.6 200.7h0M366.7 202.5h0M366.8 203.4h0M366.9 204.8h0M367 205.4h0M367.1 205h0M367.2 205h0M367.2 204.4h0M367.3 204.9h0M367.4 203.4h0M367.5 203.6h0M367.6 204.4h0M367.7 203.1h0M367.8 203.2h0M367.9 205.4h0M368 204.1h0M368.1 202.5h0M368.2 200.3h0M368.3 196.8h0M368.4 190.2h0M368.5 182.2h0M368.6 177.1h0M368.7 172.1h0M368.8 170.8h0M368.9 173.3h0M369 178.9h0M369.1 184.8h0M369.2 191h0M369.3 197.5h0M369.4 201.5h0M369.5 202.1h0M369.6 203.3h0M369.7 204.3h0M369.8 204.3h0M369.9 204.9h0M370 205.1h0M370.1 205.1h0M370.2 205h0M370.3 205.6h0M370.4 204.2h0M370.5 206.1h0M370.6 205h0M370.7 204h0M370.8 204.1h0M370.9 203.2h0M371 201.7h0M371 201.1h0M371.1 200.6h0M371.2 201.8h0M371.3 200.7h0M371.4 201.9h0M371.5 200.9h0M371.6 199.4h0M371.7 196.5h0M371.8 191.2h0M371.9 182.8h0M372 177.5h0M372.1 171h0M372.2 168.9h0M372.3 171.8h0M372.4 176.7h0M372.5 184h0M372.6 193.1h0M372.7 194.7h0M372.8 197.8h0M372.9 201.3h0M373 203.5h0M373.1 203h0M373.2 204.8h0M373.2 202.7h0M373.3 204.4h0M373.4 203.4h0M373.5 204.6h0M373.6 204.6h0M373.7 205.7h0M373.8 203.4h0M373.9 205.1h0M374 204.3h0M374.1 205.3h0M374.2 205.1h0M374.3 205.2h0M374.4 204.3h0M374.5 204.4h0M374.6 205.3h0M374.7 204.6h0M374.8 205.6h0M374.9 204.7h0M375 204.7h0M375 205.2h0M375.1 205.1h0M375.2 204.8h0M375.3 202.2h0M375.4 200.4h0M375.5 200.8h0M375.6 199.5h0M375.7 198.1h0M375.8 199.4h0M375.9 197.6h0M376 198.6h0M376.1 200.4h0M376.2 200.4h0M376.3 202.1h0M376.4 202.6h0M376.4 204h0M376.5 204.7h0M376.6 203.8h0M376.7 204.3h0M376.8 204.4h0M376.9 204.9h0M377 204.6h0M377.1 205.7h0M377.2 204.4h0M377.3 205.6h0M377.4 203.8h0M377.5 203.6h0M377.6 204.6h0M377.7 202.9h0M377.7 203.2h0M377.8 202.1h0M377.9 202.4h0M378 202.4h0M378.1 201.8h0M378.2 201.7h0M378.3 204h0M378.4 203.9h0M378.5 203.5h0M378.6 203.4h0M378.7 202h0M378.8 200.5h0M378.9 198.1h0M378.9 194.4h0M379 186.4h0M379.1 180.5h0M379.2 174.2h0M379.3 171.5h0M379.4 169.8h0M379.5 173h0M379.6 178.7h0M379.7 184h0M379.8 191.8h0M379.9 196.5h0M380 200.2h0M380 202.3h0M380.1 202.7h0M380.2 202.3h0M380.3 201.5h0M380.4 201.9h0M380.5 201h0M380.6 202h0M380.7 202.6h0M380.8 202.8h0M380.9 201.8h0M381 203.1h0M381 202.9h0M381.1 204.4h0M381.2 204.4h0M381.3 204.3h0M381.4 204.5h0M381.5 205.8h0M381.6 205.2h0M381.7 204.4h0M381.8 204.1h0M381.9 205.1h0M381.9 205h0M382 204.6h0M382.1 203.2h0M382.2 201.3h0M382.3 200.5h0M382.4 198.6h0M382.5 193.6h0M382.6 188.2h0M382.7 182.1h0M382.8 175.9h0M382.8 170.8h0M382.9 171.7h0M383 173.4h0M383.1 179.5h0M383.2 186.4h0M383.3 191.6h0M383.4 196.9h0M383.5 200.4h0M383.6 202.1h0M383.6 202.5h0M383.7 204.3h0M383.8 203.9h0M383.9 204.2h0M384 203.8h0M384.1 202.7h0M384.2 204.3h0M384.3 202.9h0M384.4 203.9h0M384.4 203.5h0M384.5 203.9h0M384.6 204.1h0M384.7 203.9h0M384.8 205.9h0M384.9 204.8h0M385 204.2h0M385.1 203.6h0M385.1 205.6h0M385.2 206.1h0M385.3 204.7h0M385.4 204.2h0M385.5 204.8h0M385.6 206.1h0M385.7 204.6h0M385.8 203.6h0M385.8 203.7h0M385.9 204.6h0M386 203.2h0M386.1 202.1h0M386.2 200.1h0M386.3 197.2h0M386.4 195.5h0M386.5 195.6h0M386.5 194.9h0M386.6 194.8h0M386.7 194.4h0M386.8 195h0M386.9 193h0M387 191.6h0M387.1 188.5h0M387.1 185.7h0M387.2 183.3h0M387.3 182.2h0M387.4 183.2h0M387.5 188.3h0M387.6 193.6h0M387.7 195.1h0M387.8 198.3h0M387.8 200.7h0M387.9 203.1h0M388 204.1h0M388.1 204.2h0M388.2 204.3h0M388.3 205.1h0M388.4 203.8h0M388.4 203.6h0M388.5 203.9h0M388.6 205.2h0M388.7 203.6h0M388.8 202.7h0M388.9 201.2h0M389 200.8h0M389 198.4h0M389.1 198.6h0M389.2 199.3h0M389.3 199h0M389.4 199.4h0M389.5 201.2h0M389.6 202.2h0M389.6 202.1h0M389.7 203.6h0M389.8 202.9h0M389.9 203.7h0M390 204.6h0M390.1 203.6h0M390.1 204.2h0M390.2 201.6h0M390.3 203.5h0M390.4 201.2h0M390.5 201.5h0M390.6 198.3h0M390.7 194.7h0M390.7 195.5h0M390.8 189h0M390.9 178.1h0M391 167.8h0M391.1 152.8h0M391.2 139.5h0M391.2 133.5h0M391.3 131.9h0M391.4 135.9h0M391.5 146.5h0M391.6 157.2h0M391.7 170.9h0M391.7 180.1h0M391.8 187.6h0M391.9 192.2h0M392 194.4h0M392.1 195.7h0M392.2 196.5h0M392.2 199.2h0M392.3 199.5h0M392.4 201.6h0M392.5 205h0M392.6 204.4h0M392.7 203.7h0M392.7 204.7h0M392.8 204.3h0M392.9 204.9h0M393 205.5h0M393.1 203.8h0M393.2 204.5h0M393.2 205.2h0M393.3 204.8h0M393.4 204.6h0M393.5 203.2h0M393.6 202.8h0M393.6 201.5h0M393.7 201.7h0M393.8 201h0M393.9 201.5h0M394 202.5h0M394.1 202.5h0M394.1 202.8h0M394.2 204h0M394.3 203.4h0M394.4 204.1h0M394.5 201.9h0M394.5 202.9h0M394.6 199.8h0M394.7 195.6h0M394.8 193.3h0M394.9 187.9h0M395 184.3h0M395 183.7h0M395.1 181.3h0M395.2 183.5h0M395.3 185.6h0M395.4 189.9h0M395.4 194.3h0M395.5 197.2h0M395.6 200.7h0M395.7 202.2h0M395.8 203h0M395.8 203.7h0M395.9 203.5h0M396 204.3h0M396.1 203h0M396.2 202.7h0M396.2 204.7h0M396.3 204.5h0M396.4 203.8h0M396.5 206.5h0M396.6 205.1h0M396.6 205.1h0M396.7 205.6h0M396.8 203.8h0M396.9 202.4h0M397 200.9h0M397 202.1h0M397.1 200.1h0M397.2 197.1h0M397.3 195.7h0M397.4 193.1h0M397.4 192.1h0M397.5 190h0M397.6 185.6h0M397.7 185h0M397.8 182.4h0M397.8 181.1h0M397.9 181.4h0M398 183.2h0M398.1 186.7h0M398.2 189.3h0M398.2 195.1h0M398.3 196.7h0M398.4 200.9h0M398.5 202h0M398.5 203.9h0M398.6 204.8h0M398.7 204.3h0M398.8 204.3h0M398.9 204h0M398.9 204.5h0M399 206.1h0M399.1 203.1h0M399.2 204.8h0M399.3 204.7h0M399.3 204.3h0M399.4 204.9h0M399.5 203.2h0M399.6 205.1h0M399.6 204.5h0M399.7 203.2h0M399.8 204.5h0M399.9 203.7h0M400 204.3h0M400 204.1h0M400.1 205.5h0M400.2 202.6h0M400.3 204.8h0M400.3 203.7h0M400.4 202.5h0M400.5 201.7h0M400.6 203.2h0M400.6 202.2h0M400.7 201.8h0M400.8 202.1h0M400.9 201.3h0M401 202.1h0M401 201.2h0M401.1 201.1h0M401.2 198.5h0M401.3 197.5h0M401.3 194.8h0M401.4 188.9h0M401.5 182.3h0M401.6 175.6h0M401.6 165.9h0M401.7 161.7h0M401.8 159.8h0M401.9 160.9h0M401.9 165.9h0M402 171.7h0M402.1 180.9h0M402.2 188.2h0M402.2 193.6h0M402.3 197.4h0M402.4 200.2h0M402.5 202.4h0M402.6 202.4h0M402.6 203.3h0M402.7 204.6h0M402.8 201.8h0M402.9 202.2h0M402.9 199.8h0M403 199.8h0M403.1 197.6h0M403.2 197.7h0M403.2 198.6h0M403.3 199.8h0M403.4 201.3h0M403.5 202h0M403.5 202.3h0M403.6 202.1h0M403.7 202.2h0M403.7 203.6h0M403.8 203.1h0M403.9 203.5h0M404 204.8h0M404 203.8h0M404.1 203.5h0M404.2 204.9h0M404.3 202.9h0M404.3 205.8h0M404.4 205.1h0M404.5 204.2h0M404.6 204.4h0M404.6 203.9h0M404.7 203.3h0M404.8 204.1h0M404.9 203.6h0M404.9 202.7h0M405 203.8h0M405.1 203.2h0M405.2 202.1h0M405.2 199.8h0M405.3 195h0M405.4 190.4h0M405.4 185.1h0M405.5 177.9h0M405.6 169.9h0M405.7 164.9h0M405.7 160.6h0M405.8 161.2h0M405.9 160.5h0M406 168.2h0M406 175h0M406.1 180h0M406.2 189.5h0M406.2 194.8h0M406.3 197.7h0M406.4 200.5h0M406.5 201.7h0M406.5 203.1h0M406.6 202.9h0M406.7 205.5h0M406.8 203.9h0M406.8 203.6h0M406.9 205.3h0M407 204.4h0M407 203.1h0M407.1 203.8h0M407.2 205h0M407.3 202.7h0M407.3 203.9h0M407.4 203.4h0M407.5 204.3h0M407.5 203.5h0M407.6 204.4h0M407.7 203.1h0M407.8 203.2h0M407.8 205.5h0M407.9 202.6h0M408 204.1h0M408 204.8h0M408.1 204.1h0M408.2 203.4h0M408.3 204h0M408.3 204.1h0M408.4 204.2h0M408.5 204.6h0M408.5 204.1h0M408.6 204.5h0M408.7 203.8h0M408.7 205h0M408.8 204.1h0M408.9 205.3h0M409 204.9h0M409 202.3h0M409.1 203.1h0M409.2 201.8h0M409.2 197.8h0M409.3 197.1h0M409.4 195.2h0M409.4 194.5h0M409.5 194.3h0M409.6 194.1h0M409.7 195.1h0M409.7 195.1h0M409.8 198.2h0M409.9 200h0M409.9 201.5h0M410 202.4h0M410.1 204.3h0M410.1 203.1h0M410.2 204.3h0M410.3 204.3h0M410.3 204.2h0M410.4 205.6h0M410.5 205.6h0M410.6 205.3h0M410.6 204.2h0M410.7 204.1h0M410.8 204.4h0M410.8 203.5h0M410.9 202.1h0M411 200.5h0M411 198.9h0M411.1 195.4h0M411.2 191.8h0M411.2 187.2h0M411.3 184.6h0M411.4 178.8h0M411.4 176.4h0M411.5 175.9h0M411.6 176.3h0M411.6 178.6h0M411.7 183.8h0M411.8 187.7h0M411.8 192.3h0M411.9 196.5h0M412 198.2h0M412 201.5h0M412.1 200.6h0M412.2 203.8h0M412.3 202.8h0M412.3 205.5h0M412.4 202.4h0M412.5 203.5h0M412.5 203.6h0M412.6 202.3h0M412.7 202h0M412.7 201.7h0M412.8 200.3h0M412.9 200.2h0M412.9 200.9h0M413 198.6h0M413.1 201.2h0M413.1 200.2h0M413.2 201.3h0M413.3 202h0M413.3 201.2h0M413.4 203.5h0M413.5 203.7h0M413.5 204.1h0M413.6 205.1h0M413.6 203.7h0M413.7 205.6h0M413.8 206.4h0M413.8 204.4h0M413.9 202.9h0M414 204.9h0M414 203.8h0M414.1 203.3h0M414.2 203.7h0M414.2 204.1h0M414.3 205.2h0M414.4 205h0M414.4 204.1h0M414.5 203.5h0M414.6 204.6h0M414.6 202.7h0M414.7 204.1h0M414.8 204.7h0M414.8 204h0M414.9 204.2h0M415 205.6h0M415 204.6h0M415.1 202.8h0M415.1 203h0M415.2 202.7h0M415.3 201.2h0M415.3 201.3h0M415.4 202.7h0M415.5 203.7h0M415.5 201.8h0M415.6 203.9h0M415.7 202.9h0M415.7 205h0M415.8 204.7h0M415.9 204.1h0M415.9 204.8h0M416 205.3h0M416 205.8h0M416.1 203.7h0M416.2 204h0M416.2 204.4h0M416.3 204.2h0M416.4 202.7h0M416.4 203.6h0M416.5 203.3h0M416.5 203.3h0M416.6 203.3h0M416.7 203.6h0M416.7 202.1h0M416.8 202.8h0M416.9 203.1h0M416.9 203.6h0M417 202.8h0M417.1 203h0M417.1 205.5h0M417.2 203.9h0M417.2 205.8h0M417.3 203.2h0M417.4 204.7h0M417.4 203.5h0M417.5 203.8h0M417.6 204.3h0M417.6 203.1h0M417.7 202.1h0M417.7 202.1h0M417.8 200.4h0M417.9 196.2h0M417.9 193.7h0M418 191h0M418 187.9h0M418.1 186.5h0M418.2 184.5h0M418.2 183.1h0M418.3 185.9h0M418.4 188.4h0M418.4 190.5h0M418.5 193.2h0M418.5 196.1h0M418.6 201.3h0M418.7 200.6h0M418.7 202.2h0M418.8 203.2h0M418.8 203.8h0M418.9 203.5h0M419 204.4h0M419 203.8h0M419.1 202.1h0M419.1 201.3h0M419.2 202h0M419.3 201.3h0M419.3 199.4h0M419.4 197h0M419.4 197h0M419.5 196.5h0M419.6 193.6h0M419.6 194.8h0M419.7 195.3h0M419.7 197.4h0M419.8 197h0M419.9 199.7h0M419.9 199.9h0M420 199.7h0M420 201.7h0M420.1 202.7h0M420.2 202.6h0M420.2 203.6h0M420.3 204.1h0M420.3 203.4h0M420.4 203.1h0M420.5 202.4h0M420.5 201.9h0M420.6 199.9h0M420.6 196.5h0M420.7 197h0M420.8 192.5h0M420.8 190.7h0M420.9 187h0M420.9 183.8h0M421 184h0M421 183.7h0M421.1 185.1h0M421.2 188.2h0M421.2 188.3h0M421.3 191.1h0M421.3 193.1h0M421.4 195.1h0M421.5 194.6h0M421.5 196.1h0M421.6 195.6h0M421.6 196h0M421.7 196.6h0M421.7 198.1h0M421.8 198.9h0M421.9 199.9h0M421.9 200.3h0M422 201.7h0M422 202.3h0M422.1 203.2h0M422.1 202.9h0M422.2 205.1h0M422.3 203.8h0M422.3 204.3h0M422.4 204.2h0M422.4 203.5h0M422.5 205.1h0M422.5 205.5h0M422.6 205.2h0M422.7 203.8h0M422.7 204.2h0M422.8 204.6h0M422.8 205.6h0M422.9 203.2h0M422.9 205.3h0M423 206.4h0M423 205.5h0M423.1 204.9h0M423.2 203.9h0M423.2 205.5h0M423.3 204.3h0M423.3 204.8h0M423.4 203.5h0M423.4 206.4h0M423.5 204.1h0M423.6 204.8h0M423.6 204.6h0M423.7 205.1h0M423.7 206.6h0M423.8 204.9h0M423.8 203.8h0M423.9 205.2h0M423.9 205.1h0M424 204.7h0M424.1 203.2h0M424.1 203.9h0M424.2 204.9h0M424.2 201.8h0M424.3 203.3h0M424.3 200.7h0M424.4 200.7h0M424.4 200.7h0M424.5 198.8h0M424.5 198.7h0M424.6 199.3h0M424.7 199.8h0M424.7 200.8h0M424.8 200.4h0M424.8 200.6h0M424.9 201.4h0M424.9 202h0M425 204.5h0M425 202.4h0M425.1 204.4h0M425.1 204h0M425.2 205.5h0M425.2 206.4h0M425.3 203.9h0M425.4 204.8h0M425.4 202.7h0M425.5 202.9h0M425.5 203.6h0M425.6 202.6h0M425.6 202h0M425.7 201.8h0M425.7 198.3h0M425.8 198.2h0M425.8 195.9h0M425.9 194.9h0M425.9 193.6h0M426 192.8h0M426 193h0M426.1 193.1h0M426.1 196h0M426.2 197.2h0M426.3 198.6h0M426.3 199.9h0M426.4 200.9h0M426.4 201.7h0M426.5 202.1h0M426.5 203.8h0M426.6 204.6h0M426.6 205h0M426.7 205.2h0M426.7 204.4h0M426.8 203.6h0M426.8 204.1h0M426.9 202.7h0M426.9 203.3h0M427 201.8h0M427 202.5h0M427.1 200.2h0M427.1 199.6h0M427.2 199.2h0M427.2 196.6h0M427.3 198.5h0M427.3 197.1h0M427.4 196.5h0M427.4 197.2h0M427.5 199.8h0M427.5 201.4h0M427.6 200.3h0M427.6 201.1h0M427.7 202h0M427.7 203.8h0M427.8 204.1h0M427.8 204.8h0M427.9 203.7h0M427.9 205.2h0M428 204.4h0M428 203.8h0M428.1 203.8h0M428.1 205.1h0M428.2 203.9h0M428.2 204.7h0M428.3 204.7h0M428.3 204.8h0M428.4 205.6h0M428.4 203.2h0M428.5 203.7h0M428.5 204.8h0M428.6 203.4h0M428.6 204.1h0M428.7 205.2h0M428.7 203.7h0M428.8 203.3h0M428.8 205h0M428.9 204.1h0M428.9 202h0M429 202.3h0M429 202h0M429.1 201.9h0M429.1 201.2h0M429.2 200.4h0M429.2 198.9h0M429.3 198.5h0M429.3 198.2h0M429.4 199.3h0M429.4 198.9h0M429.5 199.6h0M429.5 200.5h0M429.6 201.3h0M429.6 202.9h0M429.7 204.4h0M429.7 203.2h0M429.8 203.1h0M429.8 204h0M429.9 205h0M429.9 203.8h0M430 205h0M430 203.9h0M430 203.1h0M430.1 204.2h0M430.1 203.2h0M430.2 202.8h0M430.2 202.3h0M430.3 200.6h0M430.3 199h0M430.4 196.8h0M430.4 192.8h0M430.5 190.8h0M430.5 186.3h0M430.6 182.3h0M430.6 177.7h0M430.7 176.8h0M430.7 175h0M430.8 177.1h0M430.8 178.3h0M430.8 181.5h0M430.9 185.4h0M430.9 188.5h0M431 190.3h0M431 193.4h0M431.1 195.1h0M431.1 198.4h0M431.2 197.9h0M431.2 200.7h0M431.3 201.5h0M431.3 202.2h0M431.4 201.5h0M431.4 201.6h0M431.4 201.7h0M431.5 203.8h0M431.5 204.5h0M431.6 204.1h0M431.6 203.9h0M431.7 202.6h0M431.7 204.5h0M431.8 204.8h0M431.8 204.9h0M431.8 205.5h0M431.9 203.9h0M431.9 205.3h0M432 203.7h0M432 203.1h0M432.1 205h0M432.1 203.3h0M432.2 205.7h0M432.2 205.1h0M432.3 204.7h0M432.3 204.4h0M432.3 204.6h0M432.4 204.6h0M432.4 204.3h0M432.5 205.1h0M432.5 203h0" fill="none" stroke="#e61e0e" stroke-width="6.8" stroke-linecap="round"/>
<polyline points="108.5,206 108.6,206 108.7,206 108.7,206 108.8,206 108.9,206 109,206 109,206 109.1,206 109.2,206 109.3,206 109.4,206 109.4,206 109.5,206 109.6,206 109.7,206 109.7,206 109.8,206 109.9,206 110,206 110.1,206 110.1,206 110.2,206 110.3,206 110.4,206 110.5,206 110.5,206 110.6,206 110.7,206 110.8,206 110.8,206 110.9,206 111,206 111.1,206 111.2,206 111.2,206 111.3,206 111.4,206 111.5,206 111.5,206 111.6,206 111.7,206 111.8,206 111.9,206 111.9,206 112,206 112.1,206 112.2,206 112.2,206 112.3,206 112.4,206 112.5,206 112.6,206 112.6,206 112.7,206 112.8,206 112.9,206 113,206 113,206 113.1,206 113.2,206 113.3,206 113.3,206 113.4,206 113.5,206 113.6,206 113.7,206 113.7,206 113.8,206 113.9,206 114,206 114,206 114.1,206 114.2,206 114.3,206 114.4,206 114.4,206 114.5,206 114.6,206 114.7,206 114.7,206 114.8,206 114.9,206 115,206 115.1,206 115.1,206 115.2,206 115.3,206 115.4,206 115.5,206 115.5,206 115.6,206 115.7,206 115.8,206 115.8,206 115.9,206 116,206 116.1,206 116.2,206 116.2,206 116.3,206 116.4,206 116.5,206 116.5,206 116.6,206 116.7,206 116.8,206 116.9,206 116.9,206 117,206 117.1,206 117.2,206 117.2,206 117.3,206 117.4,206 117.5,206 117.6,206 117.6,206 117.7,206 117.8,206 117.9,206 118,206 118,206 118.1,206 118.2,206 118.3,205.9 118.3,205.9 118.4,205.9 118.5,205.9 118.6,205.9 118.7,205.9 118.7,205.9 118.8,205.9 118.9,205.9 119,205.9 119,205.9 119.1,205.9 119.2,205.9 119.3,205.9 119.4,205.9 119.4,205.8 119.5,205.8 119.6,205.8 119.7,205.8 119.7,205.8 119.8,205.8 119.9,205.7 120,205.7 120.1,205.7 120.1,205.6 120.2,205.5 120.3,205.4 120.4,205.2 120.4,205 120.5,204.7 120.6,204.3 120.7,203.8 120.8,203.1 120.8,202.2 120.9,201.1 121,199.7 121.1,197.9 121.2,195.9 121.2,193.4 121.3,190.5 121.4,187.3 121.5,183.6 121.5,179.7 121.6,175.6 121.7,171.3 121.8,167.1 121.9,163 121.9,159.2 122,155.8 122.1,153.1 122.2,151.1 122.2,150 122.3,149.8 122.4,150.5 122.5,152.1 122.6,154.5 122.6,157.6 122.7,161.2 122.8,165.2 122.9,169.4 122.9,173.6 123,177.9 123.1,181.9 123.2,185.6 123.3,189.1 123.3,192.1 123.4,194.8 123.5,197 123.6,198.9 123.6,200.5 123.7,201.7 123.8,202.7 123.9,203.5 124,204.1 124,204.6 124.1,204.9 124.2,205.2 124.3,205.3 124.3,205.5 124.4,205.6 124.5,205.6 124.6,205.7 124.7,205.7 124.7,205.8 124.8,205.8 124.9,205.8 125,205.8 125,205.8 125.1,205.8 125.2,205.9 125.3,205.9 125.4,205.9 125.4,205.9 125.5,205.9 125.6,205.9 125.7,205.9 125.8,205.9 125.8,205.9 125.9,205.9 126,205.9 126.1,205.9 126.1,205.9 126.2,205.9 126.3,205.9 126.4,205.9 126.5,205.9 126.5,206 126.6,206 126.7,206 126.8,206 126.8,206 126.9,206 127,206 127.1,206 127.2,206 127.2,206 127.3,206 127.4,206 127.5,206 127.5,206 127.6,206 127.7,206 127.8,206 127.9,206 127.9,206 128,206 128.1,206 128.2,206 128.2,206 128.3,206 128.4,206 128.5,206 128.6,206 128.6,206 128.7,206 128.8,206 128.9,206 128.9,206 129,206 129.1,206 129.2,206 129.3,206 129.3,206 129.4,206 129.5,206 129.6,206 129.6,206 129.7,206 129.8,206 129.9,206 130,206 130,206 130.1,206 130.2,206 130.3,206 130.3,206 130.4,206 130.5,206 130.6,206 130.7,206 130.7,206 130.8,206 130.9,206 131,206 131,206 131.1,206 131.2,206 131.3,206 131.4,206 131.4,206 131.5,206 131.6,206 131.7,206 131.7,206 131.8,206 131.9,206 132,206 132.1,206 132.1,206 132.2,206 132.3,206 132.4,206 132.4,206 132.5,206 132.6,206 132.7,206 132.8,206 132.8,206 132.9,206 133,206 133.1,206 133.1,206 133.2,206 133.3,206 133.4,206 133.5,206 133.5,206 133.6,206 133.7,206 133.8,206 133.8,206 133.9,206 134,206 134.1,206 134.2,206 134.2,206 134.3,206 134.4,206 134.5,206 134.5,206 134.6,206 134.7,206 134.8,206 134.9,206 134.9,206 135,206 135.1,206 135.2,206 135.2,206 135.3,206 135.4,206 135.5,206 135.6,206 135.6,206 135.7,206 135.8,206 135.9,206 135.9,206 136,206 136.1,206 136.2,206 136.3,206 136.3,206 136.4,206 136.5,206 136.6,206 136.6,206 136.7,206 136.8,206 136.9,206 136.9,206 137,206 137.1,206 137.2,206 137.3,206 137.3,206 137.4,206 137.5,206 137.6,206 137.6,206 137.7,206 137.8,206 137.9,206 138,206 138,206 138.1,206 138.2,206 138.3,206 138.3,206 138.4,206 138.5,206 138.6,206 138.7,206 138.7,206 138.8,206 138.9,206 139,206 139,206 139.1,206 139.2,206 139.3,206 139.4,206 139.4,206 139.5,206 139.6,206 139.7,206 139.7,206 139.8,206 139.9,206 140,206 140.1,206 140.1,206 140.2,206 140.3,206 140.4,206 140.4,206 140.5,206 140.6,206 140.7,206 140.8,206 140.8,206 140.9,206 141,206 141.1,206 141.1,206 141.2,206 141.3,206 141.4,206 141.4,206 141.5,206 141.6,206 141.7,206 141.8,206 141.8,206 141.9,206 142,206 142.1,206 142.1,206 142.2,206 142.3,206 142.4,206 142.5,206 142.5,206 142.6,206 142.7,206 142.8,206 142.8,206 142.9,206 143,206 143.1,206 143.2,206 143.2,206 143.3,206 143.4,205.9 143.5,205.9 143.5,205.9 143.6,205.8 143.7,205.8 143.8,205.7 143.8,205.7 143.9,205.6 144,205.6 144.1,205.5 144.2,205.4 144.2,205.3 144.3,205.2 144.4,205.1 144.5,205 144.5,204.9 144.6,204.9 144.7,204.8 144.8,204.8 144.9,204.7 144.9,204.7 145,204.7 145.1,204.7 145.2,204.7 145.2,204.8 145.3,204.8 145.4,204.9 145.5,205 145.5,205 145.6,205.1 145.7,205.2 145.8,205.3 145.9,205.4 145.9,205.5 146,205.6 146.1,205.6 146.2,205.7 146.2,205.7 146.3,205.8 146.4,205.8 146.5,205.9 146.6,205.9 146.6,205.9 146.7,205.9 146.8,205.9 146.9,206 146.9,206 147,206 147.1,206 147.2,206 147.3,206 147.3,206 147.4,206 147.5,206 147.6,206 147.6,206 147.7,206 147.8,206 147.9,206 147.9,206 148,206 148.1,206 148.2,206 148.3,206 148.3,206 148.4,206 148.5,206 148.6,206 148.6,206 148.7,206 148.8,206 148.9,206 148.9,206 149,206 149.1,205.9 149.2,205.9 149.3,205.9 149.3,205.9 149.4,205.9 149.5,205.9 149.6,205.9 149.6,205.9 149.7,205.9 149.8,205.9 149.9,205.9 150,205.9 150,205.9 150.1,205.9 150.2,205.9 150.3,205.9 150.3,205.9 150.4,205.9 150.5,205.9 150.6,205.9 150.6,205.9 150.7,205.9 150.8,205.9 150.9,205.9 151,205.9 151,205.9 151.1,205.9 151.2,205.8 151.3,205.8 151.3,205.8 151.4,205.8 151.5,205.8 151.6,205.8 151.7,205.8 151.7,205.8 151.8,205.8 151.9,205.7 152,205.7 152,205.7 152.1,205.6 152.2,205.6 152.3,205.5 152.3,205.4 152.4,205.3 152.5,205.1 152.6,204.9 152.7,204.6 152.7,204.3 152.8,203.9 152.9,203.4 153,202.7 153,202 153.1,201.1 153.2,200 153.3,198.8 153.3,197.4 153.4,195.8 153.5,194.1 153.6,192.3 153.7,190.3 153.7,188.3 153.8,186.2 153.9,184.1 154,182 154,180 154.1,178.2 154.2,176.7 154.3,175.3 154.3,174.3 154.4,173.6 154.5,173.3 154.6,173.3 154.7,173.7 154.7,174.4 154.8,175.4 154.9,176.6 155,178 155,179.5 155.1,181.1 155.2,182.7 155.3,184.2 155.3,185.7 155.4,187 155.5,188.2 155.6,189.3 155.7,190.2 155.7,190.9 155.8,191.5 155.9,192 156,192.3 156,192.5 156.1,192.7 156.2,192.7 156.3,192.6 156.3,192.4 156.4,192.1 156.5,191.6 156.6,191 156.7,190.3 156.7,189.4 156.8,188.3 156.9,187.1 157,185.7 157,184.3 157.1,182.7 157.2,181.1 157.3,179.5 157.3,178 157.4,176.6 157.5,175.3 157.6,174.4 157.7,173.7 157.7,173.3 157.8,173.3 157.9,173.7 158,174.4 158,175.5 158.1,176.9 158.2,178.5 158.3,180.4 158.3,182.4 158.4,184.5 158.5,186.6 158.6,188.7 158.7,190.8 158.7,192.7 158.8,194.6 158.9,196.2 159,197.8 159,199.1 159.1,200.3 159.2,201.3 159.3,202.2 159.3,202.9 159.4,203.5 159.5,204 159.6,204.4 159.7,204.7 159.7,204.9 159.8,205.1 159.9,205.3 160,205.4 160,205.5 160.1,205.5 160.2,205.6 160.3,205.6 160.3,205.7 160.4,205.7 160.5,205.7 160.6,205.7 160.6,205.7 160.7,205.7 160.8,205.7 160.9,205.7 161,205.8 161,205.8 161.1,205.8 161.2,205.8 161.3,205.8 161.3,205.8 161.4,205.8 161.5,205.8 161.6,205.8 161.6,205.8 161.7,205.8 161.8,205.8 161.9,205.8 162,205.8 162,205.8 162.1,205.8 162.2,205.8 162.3,205.8 162.3,205.8 162.4,205.8 162.5,205.8 162.6,205.8 162.6,205.8 162.7,205.8 162.8,205.8 162.9,205.8 162.9,205.8 163,205.8 163.1,205.8 163.2,205.8 163.3,205.8 163.3,205.8 163.4,205.8 163.5,205.8 163.6,205.8 163.6,205.8 163.7,205.8 163.8,205.8 163.9,205.8 163.9,205.8 164,205.8 164.1,205.8 164.2,205.8 164.3,205.8 164.3,205.8 164.4,205.8 164.5,205.8 164.6,205.8 164.6,205.8 164.7,205.8 164.8,205.8 164.9,205.8 164.9,205.8 165,205.8 165.1,205.8 165.2,205.8 165.2,205.8 165.3,205.8 165.4,205.8 165.5,205.8 165.6,205.8 165.6,205.8 165.7,205.8 165.8,205.8 165.9,205.8 165.9,205.8 166,205.8 166.1,205.7 166.2,205.7 166.2,205.7 166.3,205.7 166.4,205.7 166.5,205.6 166.5,205.6 166.6,205.5 166.7,205.5 166.8,205.4 166.9,205.2 166.9,205.1 167,204.9 167.1,204.6 167.2,204.3 167.2,203.8 167.3,203.4 167.4,202.8 167.5,202.1 167.5,201.3 167.6,200.5 167.7,199.5 167.8,198.5 167.8,197.4 167.9,196.2 168,195.1 168.1,193.9 168.2,192.8 168.2,191.8 168.3,190.9 168.4,190.2 168.5,189.7 168.5,189.4 168.6,189.3 168.7,189.4 168.8,189.8 168.8,190.4 168.9,191.1 169,192 169.1,193 169.1,194.1 169.2,195.3 169.3,196.4 169.4,197.6 169.4,198.7 169.5,199.7 169.6,200.6 169.7,201.4 169.8,202.2 169.8,202.8 169.9,203.4 170,203.9 170.1,204.2 170.1,204.5 170.2,204.8 170.3,205 170.4,205.1 170.4,205.3 170.5,205.3 170.6,205.4 170.7,205.5 170.7,205.5 170.8,205.5 170.9,205.5 171,205.5 171.1,205.5 171.1,205.5 171.2,205.5 171.3,205.5 171.4,205.5 171.4,205.5 171.5,205.5 171.6,205.5 171.7,205.5 171.7,205.5 171.8,205.5 171.9,205.5 172,205.5 172,205.5 172.1,205.4 172.2,205.4 172.3,205.4 172.3,205.4 172.4,205.4 172.5,205.4 172.6,205.3 172.6,205.3 172.7,205.3 172.8,205.3 172.9,205.2 173,205.2 173,205.2 173.1,205.1 173.2,205.1 173.3,205 173.3,204.9 173.4,204.8 173.5,204.7 173.6,204.5 173.6,204.2 173.7,203.9 173.8,203.5 173.9,202.9 173.9,202 174,201 174.1,199.5 174.2,197.7 174.2,195.3 174.3,192.3 174.4,188.5 174.5,183.9 174.6,178.4 174.6,171.9 174.7,164.4 174.8,155.8 174.9,146.2 174.9,135.7 175,124.5 175.1,112.7 175.2,100.8 175.2,89 175.3,77.6 175.4,67.2 175.5,58.1 175.5,50.7 175.6,45.3 175.7,42.2 175.8,41.6 175.8,43.4 175.9,47.6 176,53.9 176.1,62.2 176.1,72 176.2,82.8 176.3,94.4 176.4,106.4 176.5,118.2 176.5,129.7 176.6,140.6 176.7,150.7 176.8,159.9 176.8,168 176.9,175 177,181.1 177.1,186.1 177.1,190.3 177.2,193.7 177.3,196.4 177.4,198.5 177.4,200.2 177.5,201.5 177.6,202.4 177.7,203.1 177.7,203.7 177.8,204.1 177.9,204.3 178,204.6 178,204.7 178.1,204.8 178.2,204.9 178.3,205 178.3,205.1 178.4,205.1 178.5,205.2 178.6,205.2 178.7,205.2 178.7,205.2 178.8,205.3 178.9,205.3 179,205.3 179,205.3 179.1,205.4 179.2,205.4 179.3,205.4 179.3,205.4 179.4,205.4 179.5,205.4 179.6,205.5 179.6,205.5 179.7,205.5 179.8,205.5 179.9,205.5 179.9,205.5 180,205.5 180.1,205.5 180.2,205.5 180.2,205.5 180.3,205.6 180.4,205.6 180.5,205.6 180.5,205.6 180.6,205.6 180.7,205.6 180.8,205.6 180.8,205.6 180.9,205.6 181,205.6 181.1,205.6 181.2,205.6 181.2,205.6 181.3,205.6 181.4,205.6 181.5,205.6 181.5,205.6 181.6,205.6 181.7,205.6 181.8,205.6 181.8,205.6 181.9,205.6 182,205.6 182.1,205.6 182.1,205.6 182.2,205.6 182.3,205.6 182.4,205.7 182.4,205.7 182.5,205.7 182.6,205.7 182.7,205.7 182.7,205.7 182.8,205.7 182.9,205.7 183,205.7 183,205.7 183.1,205.7 183.2,205.7 183.3,205.7 183.3,205.7 183.4,205.7 183.5,205.6 183.6,205.6 183.6,205.6 183.7,205.6 183.8,205.6 183.9,205.6 183.9,205.6 184,205.6 184.1,205.6 184.2,205.6 184.2,205.6 184.3,205.6 184.4,205.5 184.5,205.5 184.6,205.4 184.6,205.3 184.7,205.2 184.8,205.1 184.9,204.9 184.9,204.7 185,204.4 185.1,204.1 185.2,203.6 185.2,203.2 185.3,202.6 185.4,201.9 185.5,201.2 185.5,200.4 185.6,199.6 185.7,198.7 185.8,197.8 185.8,197 185.9,196.2 186,195.5 186.1,194.8 186.1,194.4 186.2,194.1 186.3,193.9 186.4,194 186.4,194.2 186.5,194.6 186.6,195.2 186.7,195.9 186.7,196.6 186.8,197.5 186.9,198.3 187,199.2 187,200.1 187.1,200.9 187.2,201.6 187.3,202.3 187.3,202.9 187.4,203.4 187.5,203.9 187.6,204.2 187.6,204.5 187.7,204.8 187.8,205 187.9,205.1 187.9,205.2 188,205.3 188.1,205.4 188.2,205.4 188.2,205.5 188.3,205.5 188.4,205.5 188.5,205.5 188.5,205.5 188.6,205.5 188.7,205.5 188.8,205.5 188.8,205.5 188.9,205.5 189,205.5 189.1,205.5 189.1,205.5 189.2,205.5 189.3,205.5 189.4,205.5 189.4,205.5 189.5,205.5 189.6,205.5 189.7,205.5 189.7,205.4 189.8,205.4 189.9,205.4 190,205.4 190,205.4 190.1,205.4 190.2,205.3 190.3,205.3 190.3,205.3 190.4,205.2 190.5,205.2 190.6,205.1 190.6,205 190.7,204.9 190.8,204.7 190.9,204.4 190.9,204.1 191,203.6 191.1,202.9 191.2,202.1 191.2,201 191.3,199.6 191.4,197.8 191.5,195.5 191.5,192.8 191.6,189.6 191.7,185.9 191.8,181.5 191.8,176.7 191.9,171.3 192,165.6 192.1,159.6 192.1,153.5 192.2,147.5 192.3,141.8 192.4,136.6 192.4,132.1 192.5,128.6 192.6,126.2 192.7,125 192.7,125.2 192.8,126.7 192.9,129.4 193,133.1 193,137.8 193.1,143.1 193.2,148.9 193.3,155 193.3,161.1 193.4,167 193.5,172.6 193.6,177.9 193.6,182.6 193.7,186.8 193.8,190.4 193.9,193.5 193.9,196 194,198.2 194.1,199.8 194.2,201.2 194.2,202.2 194.3,203 194.4,203.6 194.5,204.1 194.5,204.4 194.6,204.6 194.7,204.8 194.8,204.9 194.8,205 194.9,205.1 195,205.1 195.1,205.1 195.1,205.1 195.2,205.1 195.3,205.1 195.4,205.1 195.4,205 195.5,205 195.6,204.9 195.7,204.7 195.7,204.5 195.8,204.3 195.9,203.9 196,203.5 196,203 196.1,202.4 196.2,201.7 196.3,200.8 196.3,199.9 196.4,198.8 196.5,197.7 196.6,196.5 196.6,195.2 196.7,194 196.8,192.8 196.9,191.7 196.9,190.8 197,190 197.1,189.5 197.2,189.2 197.2,189.2 197.3,189.4 197.4,189.9 197.5,190.6 197.5,191.6 197.6,192.6 197.7,193.8 197.8,195 197.8,196.3 197.9,197.5 198,198.6 198.1,199.7 198.1,200.7 198.2,201.5 198.3,202.2 198.4,202.9 198.4,203.4 198.5,203.8 198.6,204.1 198.7,204.4 198.7,204.6 198.8,204.7 198.9,204.8 198.9,204.9 199,204.9 199.1,204.9 199.2,204.9 199.2,204.9 199.3,204.9 199.4,204.8 199.5,204.8 199.5,204.6 199.6,204.5 199.7,204.3 199.8,204 199.8,203.5 199.9,203 200,202.2 200.1,201.1 200.1,199.7 200.2,197.8 200.3,195.4 200.4,192.4 200.4,188.7 200.5,184.1 200.6,178.7 200.7,172.4 200.7,165.2 200.8,157.2 200.9,148.4 201,139.1 201,129.5 201.1,119.9 201.2,110.6 201.3,102 201.3,94.5 201.4,88.4 201.5,84.1 201.6,81.7 201.6,81.4 201.7,83.2 201.8,87.1 201.9,92.7 201.9,99.9 202,108.2 202.1,117.4 202.1,126.9 202.2,136.5 202.3,145.9 202.4,154.8 202.4,163.1 202.5,170.5 202.6,177 202.7,182.7 202.7,187.5 202.8,191.4 202.9,194.6 203,197.2 203,199.2 203.1,200.7 203.2,201.9 203.3,202.7 203.3,203.4 203.4,203.8 203.5,204.2 203.6,204.4 203.6,204.6 203.7,204.7 203.8,204.8 203.9,204.9 203.9,204.9 204,205 204.1,205 204.2,205 204.2,205 204.3,205 204.4,205.1 204.4,205.1 204.5,205.1 204.6,205.1 204.7,205.1 204.7,205.1 204.8,205.1 204.9,205 205,205 205,205 205.1,204.9 205.2,204.8 205.3,204.6 205.3,204.4 205.4,204.1 205.5,203.7 205.6,203.1 205.6,202.4 205.7,201.4 205.8,200.1 205.9,198.5 205.9,196.5 206,194.2 206.1,191.3 206.2,188.1 206.2,184.5 206.3,180.5 206.4,176.2 206.4,171.8 206.5,167.3 206.6,163 206.7,159.1 206.7,155.6 206.8,152.8 206.9,150.9 207,149.9 207,149.9 207.1,150.9 207.2,152.9 207.3,155.7 207.3,159.1 207.4,163.1 207.5,167.4 207.6,171.9 207.6,176.3 207.7,180.6 207.8,184.5 207.8,188.2 207.9,191.4 208,194.2 208.1,196.6 208.1,198.6 208.2,200.2 208.3,201.5 208.4,202.5 208.4,203.2 208.5,203.8 208.6,204.2 208.7,204.6 208.7,204.8 208.8,205 208.9,205.1 209,205.2 209,205.2 209.1,205.3 209.2,205.3 209.3,205.3 209.3,205.3 209.4,205.4 209.5,205.4 209.5,205.4 209.6,205.4 209.7,205.4 209.8,205.4 209.8,205.4 209.9,205.4 210,205.4 210.1,205.5 210.1,205.5 210.2,205.5 210.3,205.5 210.4,205.5 210.4,205.5 210.5,205.5 210.6,205.5 210.7,205.5 210.7,205.5 210.8,205.5 210.9,205.5 210.9,205.5 211,205.5 211.1,205.5 211.2,205.5 211.2,205.5 211.3,205.5 211.4,205.5 211.5,205.5 211.5,205.5 211.6,205.5 211.7,205.5 211.8,205.5 211.8,205.5 211.9,205.5 212,205.5 212,205.5 212.1,205.5 212.2,205.5 212.3,205.5 212.3,205.5 212.4,205.5 212.5,205.5 212.6,205.5 212.6,205.5 212.7,205.5 212.8,205.5 212.9,205.5 212.9,205.5 213,205.5 213.1,205.5 213.2,205.5 213.2,205.5 213.3,205.5 213.4,205.5 213.4,205.5 213.5,205.5 213.6,205.4 213.7,205.4 213.7,205.4 213.8,205.3 213.9,205.2 214,205.1 214,204.9 214.1,204.7 214.2,204.4 214.3,204 214.3,203.6 214.4,203.2 214.5,202.6 214.5,202.1 214.6,201.4 214.7,200.8 214.8,200.2 214.8,199.6 214.9,199 215,198.5 215.1,198.2 215.1,198 215.2,197.9 215.3,198 215.4,198.2 215.4,198.6 215.5,199.1 215.6,199.6 215.6,200.2 215.7,200.9 215.8,201.5 215.9,202.1 215.9,202.7 216,203.2 216.1,203.7 216.2,204.1 216.2,204.4 216.3,204.7 216.4,204.9 216.4,205.1 216.5,205.2 216.6,205.3 216.7,205.4 216.7,205.4 216.8,205.4 216.9,205.5 217,205.5 217,205.5 217.1,205.5 217.2,205.5 217.3,205.5 217.3,205.5 217.4,205.5 217.5,205.5 217.5,205.5 217.6,205.5 217.7,205.5 217.8,205.5 217.8,205.5 217.9,205.5 218,205.5 218.1,205.5 218.1,205.5 218.2,205.5 218.3,205.5 218.3,205.5 218.4,205.5 218.5,205.5 218.6,205.5 218.6,205.5 218.7,205.5 218.8,205.5 218.9,205.5 218.9,205.5 219,205.5 219.1,205.5 219.2,205.5 219.2,205.5 219.3,205.5 219.4,205.5 219.4,205.4 219.5,205.4 219.6,205.4 219.7,205.4 219.7,205.4 219.8,205.4 219.9,205.3 220,205.3 220,205.2 220.1,205 220.2,204.9 220.2,204.6 220.3,204.2 220.4,203.8 220.5,203.1 220.5,202.3 220.6,201.2 220.7,199.9 220.8,198.4 220.8,196.5 220.9,194.4 221,192.1 221,189.7 221.1,187.1 221.2,184.5 221.3,182.1 221.3,180 221.4,178.2 221.5,176.9 221.6,176.2 221.6,176.1 221.7,176.7 221.8,177.8 221.8,179.5 221.9,181.6 222,183.9 222.1,186.5 222.1,189 222.2,191.5 222.3,193.9 222.4,196 222.4,197.9 222.5,199.6 222.6,200.9 222.6,202 222.7,202.9 222.8,203.6 222.9,204.1 222.9,204.5 223,204.8 223.1,205 223.2,205.1 223.2,205.2 223.3,205.3 223.4,205.3 223.4,205.4 223.5,205.4 223.6,205.4 223.7,205.4 223.7,205.4 223.8,205.4 223.9,205.4 224,205.5 224,205.5 224.1,205.5 224.2,205.5 224.2,205.5 224.3,205.5 224.4,205.5 224.5,205.5 224.5,205.5 224.6,205.5 224.7,205.5 224.7,205.5 224.8,205.5 224.9,205.5 225,205.5 225,205.5 225.1,205.5 225.2,205.5 225.3,205.5 225.3,205.5 225.4,205.5 225.5,205.5 225.5,205.5 225.6,205.5 225.7,205.5 225.8,205.5 225.8,205.5 225.9,205.5 226,205.5 226.1,205.5 226.1,205.5 226.2,205.5 226.3,205.5 226.3,205.5 226.4,205.5 226.5,205.5 226.6,205.5 226.6,205.5 226.7,205.5 226.8,205.5 226.8,205.5 226.9,205.5 227,205.5 227.1,205.5 227.1,205.5 227.2,205.5 227.3,205.5 227.4,205.5 227.4,205.5 227.5,205.5 227.6,205.5 227.6,205.5 227.7,205.5 227.8,205.5 227.9,205.5 227.9,205.5 228,205.5 228.1,205.5 228.1,205.5 228.2,205.5 228.3,205.5 228.4,205.5 228.4,205.5 228.5,205.5 228.6,205.5 228.6,205.5 228.7,205.5 228.8,205.5 228.9,205.5 228.9,205.5 229,205.5 229.1,205.4 229.2,205.4 229.2,205.4 229.3,205.4 229.4,205.4 229.4,205.4 229.5,205.4 229.6,205.4 229.7,205.4 229.7,205.4 229.8,205.4 229.9,205.4 229.9,205.4 230,205.3 230.1,205.3 230.2,205.3 230.2,205.3 230.3,205.2 230.4,205.2 230.4,205.1 230.5,205 230.6,204.8 230.7,204.6 230.7,204.2 230.8,203.7 230.9,203 231,202 231,200.7 231.1,199.1 231.2,197 231.2,194.5 231.3,191.6 231.4,188.3 231.5,184.6 231.5,180.7 231.6,176.8 231.7,173 231.7,169.6 231.8,166.8 231.9,164.8 232,163.6 232,163.5 232.1,164.5 232.2,166.4 232.2,169.1 232.3,172.4 232.4,176.1 232.5,180 232.5,183.9 232.6,187.6 232.7,191 232.7,194 232.8,196.6 232.9,198.7 233,200.4 233,201.8 233.1,202.8 233.2,203.6 233.2,204.1 233.3,204.5 233.4,204.8 233.5,204.9 233.5,205.1 233.6,205.2 233.7,205.2 233.7,205.3 233.8,205.3 233.9,205.3 234,205.3 234,205.3 234.1,205.3 234.2,205.4 234.3,205.4 234.3,205.4 234.4,205.4 234.5,205.4 234.5,205.4 234.6,205.4 234.7,205.4 234.8,205.4 234.8,205.4 234.9,205.4 235,205.4 235,205.4 235.1,205.4 235.2,205.4 235.3,205.4 235.3,205.4 235.4,205.4 235.5,205.4 235.5,205.4 235.6,205.4 235.7,205.4 235.8,205.4 235.8,205.4 235.9,205.4 236,205.4 236,205.4 236.1,205.4 236.2,205.4 236.3,205.4 236.3,205.4 236.4,205.4 236.5,205.4 236.5,205.4 236.6,205.4 236.7,205.4 236.8,205.4 236.8,205.4 236.9,205.4 237,205.4 237,205.4 237.1,205.4 237.2,205.4 237.2,205.4 237.3,205.4 237.4,205.4 237.5,205.4 237.5,205.4 237.6,205.4 237.7,205.4 237.7,205.4 237.8,205.4 237.9,205.4 238,205.4 238,205.4 238.1,205.4 238.2,205.4 238.2,205.4 238.3,205.4 238.4,205.4 238.5,205.4 238.5,205.4 238.6,205.4 238.7,205.4 238.7,205.4 238.8,205.4 238.9,205.4 239,205.4 239,205.4 239.1,205.4 239.2,205.4 239.2,205.4 239.3,205.4 239.4,205.4 239.5,205.4 239.5,205.4 239.6,205.4 239.7,205.4 239.7,205.4 239.8,205.4 239.9,205.4 240,205.4 240,205.4 240.1,205.4 240.2,205.4 240.2,205.4 240.3,205.3 240.4,205.3 240.4,205.3 240.5,205.3 240.6,205.3 240.7,205.3 240.7,205.3 240.8,205.2 240.9,205.2 240.9,205.1 241,205 241.1,204.9 241.2,204.6 241.2,204.3 241.3,203.8 241.4,203.2 241.4,202.3 241.5,201.1 241.6,199.5 241.7,197.6 241.7,195.4 241.8,192.7 241.9,189.8 241.9,186.6 242,183.3 242.1,180.2 242.1,177.3 242.2,174.8 242.3,173.1 242.4,172.1 242.4,172.1 242.5,172.9 242.6,174.6 242.6,176.9 242.7,179.8 242.8,182.9 242.9,186.2 242.9,189.3 243,192.3 243.1,195 243.1,197.3 243.2,199.3 243.3,200.9 243.3,202.1 243.4,203 243.5,203.7 243.6,204.2 243.6,204.6 243.7,204.8 243.8,205 243.8,205.1 243.9,205.1 244,205.2 244.1,205.2 244.1,205.3 244.2,205.3 244.3,205.3 244.3,205.3 244.4,205.3 244.5,205.3 244.5,205.3 244.6,205.3 244.7,205.3 244.8,205.3 244.8,205.3 244.9,205.3 245,205.3 245,205.3 245.1,205.3 245.2,205.3 245.3,205.3 245.3,205.3 245.4,205.3 245.5,205.3 245.5,205.3 245.6,205.3 245.7,205.3 245.7,205.3 245.8,205.3 245.9,205.3 246,205.3 246,205.3 246.1,205.3 246.2,205.3 246.2,205.3 246.3,205.3 246.4,205.3 246.4,205.3 246.5,205.3 246.6,205.3 246.7,205.3 246.7,205.3 246.8,205.3 246.9,205.3 246.9,205.3 247,205.3 247.1,205.3 247.2,205.3 247.2,205.3 247.3,205.3 247.4,205.3 247.4,205.3 247.5,205.3 247.6,205.3 247.6,205.2 247.7,205.2 247.8,205.2 247.9,205.2 247.9,205.1 248,205.1 248.1,205 248.1,204.9 248.2,204.7 248.3,204.4 248.3,204 248.4,203.4 248.5,202.6 248.6,201.5 248.6,200.2 248.7,198.5 248.8,196.5 248.8,194.1 248.9,191.5 249,188.7 249,185.9 249.1,183.2 249.2,180.9 249.3,179 249.3,177.8 249.4,177.3 249.5,177.7 249.5,178.8 249.6,180.5 249.7,182.8 249.7,185.5 249.8,188.3 249.9,191 250,193.7 250,196 250.1,198.1 250.2,199.8 250.2,201.2 250.3,202.3 250.4,203.1 250.4,203.7 250.5,204.2 250.6,204.4 250.7,204.6 250.7,204.8 250.8,204.8 250.9,204.9 250.9,204.9 251,204.9 251.1,204.9 251.1,204.9 251.2,204.8 251.3,204.8 251.4,204.7 251.4,204.6 251.5,204.5 251.6,204.2 251.6,203.9 251.7,203.3 251.8,202.4 251.8,201.2 251.9,199.4 252,196.9 252,193.5 252.1,189 252.2,183.4 252.3,176.6 252.3,168.5 252.4,159.5 252.5,149.7 252.5,139.8 252.6,130.1 252.7,121.4 252.7,114.4 252.8,109.6 252.9,107.5 253,108.3 253,111.9 253.1,118 253.2,125.9 253.2,135.2 253.3,145.1 253.4,155 253.4,164.4 253.5,172.9 253.6,180.3 253.6,186.5 253.7,191.5 253.8,195.4 253.9,198.3 253.9,200.4 254,201.9 254.1,202.9 254.1,203.6 254.2,204.1 254.3,204.4 254.3,204.6 254.4,204.7 254.5,204.8 254.6,204.9 254.6,204.9 254.7,204.9 254.8,205 254.8,205 254.9,205 255,205 255,205 255.1,205.1 255.2,205.1 255.2,205.1 255.3,205.1 255.4,205.1 255.5,205.1 255.5,205.1 255.6,205.1 255.7,205.1 255.7,205.1 255.8,205.1 255.9,205.1 255.9,205.1 256,205.1 256.1,205.1 256.1,205.1 256.2,205.1 256.3,205.1 256.4,205.1 256.4,205.1 256.5,205.1 256.6,205.1 256.6,205.1 256.7,205.1 256.8,205.1 256.8,205 256.9,205 257,204.9 257,204.8 257.1,204.7 257.2,204.5 257.3,204.1 257.3,203.6 257.4,202.9 257.5,201.9 257.5,200.5 257.6,198.8 257.7,196.5 257.7,193.8 257.8,190.7 257.9,187.2 257.9,183.5 258,179.7 258.1,176.2 258.1,173.1 258.2,170.6 258.3,169.1 258.4,168.7 258.4,169.3 258.5,171 258.6,173.6 258.6,176.8 258.7,180.4 258.8,184.1 258.8,187.8 258.9,191.3 259,194.3 259,196.9 259.1,199 259.2,200.7 259.3,202 259.3,202.9 259.4,203.6 259.5,204 259.5,204.2 259.6,204.3 259.7,204.4 259.7,204.3 259.8,204.2 259.9,204 259.9,203.8 260,203.6 260.1,203.4 260.1,203.3 260.2,203.1 260.3,203 260.4,203 260.4,202.9 260.5,203 260.6,203 260.6,202.9 260.7,202.8 260.8,202.5 260.8,202 260.9,201.2 261,199.9 261,198.2 261.1,195.8 261.2,192.7 261.2,189 261.3,184.6 261.4,179.7 261.5,174.5 261.5,169.3 261.6,164.3 261.7,160 261.7,156.6 261.8,154.6 261.9,154.1 261.9,155.2 262,157.7 262.1,161.4 262.1,166 262.2,171.1 262.3,176.3 262.3,181.4 262.4,186.1 262.5,190.3 262.5,193.7 262.6,196.4 262.7,198.5 262.8,199.9 262.8,200.8 262.9,201.3 263,201.5 263,201.5 263.1,201.3 263.2,201.1 263.2,200.9 263.3,200.8 263.4,200.7 263.4,200.8 263.5,201 263.6,201.3 263.6,201.6 263.7,202.1 263.8,202.5 263.8,203 263.9,203.4 264,203.8 264.1,204.1 264.1,204.4 264.2,204.6 264.3,204.8 264.3,204.9 264.4,205 264.5,205.1 264.5,205.1 264.6,205.2 264.7,205.2 264.7,205.2 264.8,205.2 264.9,205.2 264.9,205.2 265,205.2 265.1,205.2 265.1,205.2 265.2,205.1 265.3,205.1 265.3,205 265.4,204.9 265.5,204.8 265.6,204.6 265.6,204.3 265.7,204 265.8,203.7 265.8,203.3 265.9,202.9 266,202.4 266,202.1 266.1,201.7 266.2,201.5 266.2,201.3 266.3,201.3 266.4,201.3 266.4,201.5 266.5,201.8 266.6,202.1 266.6,202.5 266.7,202.9 266.8,203.2 266.8,203.5 266.9,203.8 267,204 267,204.1 267.1,204.2 267.2,204.2 267.2,204.2 267.3,204.2 267.4,204.2 267.5,204.2 267.5,204.2 267.6,204.2 267.7,204.3 267.7,204.4 267.8,204.5 267.9,204.6 267.9,204.7 268,204.8 268.1,204.8 268.1,204.9 268.2,205 268.3,205 268.3,205 268.4,205.1 268.5,205.1 268.5,205.1 268.6,205.1 268.7,205.1 268.7,205.1 268.8,205 268.9,205 268.9,205 269,205 269.1,204.9 269.1,204.9 269.2,204.8 269.3,204.7 269.3,204.6 269.4,204.4 269.5,204 269.6,203.5 269.6,202.7 269.7,201.6 269.8,199.9 269.8,197.6 269.9,194.5 270,190.5 270,185.5 270.1,179.6 270.2,172.8 270.2,165.3 270.3,157.6 270.4,149.9 270.4,143 270.5,137.3 270.6,133.3 270.6,131.4 270.7,131.8 270.8,134.5 270.8,139.1 270.9,145.3 271,152.5 271,160.2 271.1,167.9 271.2,175.1 271.2,181.6 271.3,187.2 271.4,191.8 271.4,195.5 271.5,198.3 271.6,200.4 271.6,201.9 271.7,203 271.8,203.7 271.8,204.1 271.9,204.4 272,204.6 272,204.8 272.1,204.8 272.2,204.9 272.2,204.9 272.3,205 272.4,205 272.5,205 272.5,205 272.6,205.1 272.7,205.1 272.7,205.1 272.8,205.1 272.9,205.1 272.9,205.1 273,205.1 273.1,205.1 273.1,205.1 273.2,205.1 273.3,205.1 273.3,205.1 273.4,205.1 273.5,205.1 273.5,205.1 273.6,205.1 273.7,205.1 273.7,205.1 273.8,205.1 273.9,205 273.9,205 274,205 274.1,205 274.1,205 274.2,205 274.3,205 274.3,205 274.4,205 274.5,205.1 274.5,205.1 274.6,205.1 274.7,205.1 274.7,205.1 274.8,205.2 274.9,205.2 274.9,205.2 275,205.2 275.1,205.2 275.1,205.2 275.2,205.2 275.3,205.2 275.3,205.2 275.4,205.2 275.5,205.2 275.5,205.2 275.6,205.2 275.7,205.1 275.7,205.1 275.8,205.1 275.9,205 275.9,205 276,204.9 276.1,204.9 276.1,204.8 276.2,204.8 276.3,204.7 276.3,204.7 276.4,204.7 276.5,204.7 276.5,204.7 276.6,204.8 276.7,204.8 276.7,204.8 276.8,204.9 276.9,205 276.9,205 277,205 277.1,205.1 277.1,205.1 277.2,205.1 277.3,205.1 277.3,205.1 277.4,205.1 277.5,205.1 277.5,205.1 277.6,205 277.7,205 277.7,204.9 277.8,204.7 277.9,204.5 277.9,204.1 278,203.6 278.1,202.9 278.1,202 278.2,201 278.3,199.6 278.3,198.1 278.4,196.5 278.5,194.8 278.5,193.1 278.6,191.6 278.7,190.4 278.7,189.6 278.8,189.3 278.9,189.5 278.9,190.1 279,191.2 279.1,192.7 279.1,194.3 279.2,195.9 279.3,197.6 279.3,199.1 279.4,200.4 279.5,201.6 279.5,202.5 279.6,203.1 279.7,203.6 279.7,204 279.8,204.2 279.9,204.4 279.9,204.5 280,204.6 280.1,204.6 280.1,204.7 280.2,204.7 280.3,204.8 280.3,204.8 280.4,204.9 280.5,204.9 280.5,205 280.6,205 280.6,205 280.7,205 280.8,205 280.8,204.9 280.9,204.9 281,204.7 281,204.5 281.1,204.3 281.2,204 281.2,203.6 281.3,203.2 281.4,202.7 281.4,202.2 281.5,201.7 281.6,201.2 281.6,200.9 281.7,200.6 281.8,200.5 281.8,200.5 281.9,200.7 282,201 282,201.4 282.1,201.9 282.2,202.4 282.2,202.9 282.3,203.4 282.4,203.8 282.4,204.1 282.5,204.4 282.6,204.6 282.6,204.8 282.7,204.9 282.8,205 282.8,205 282.9,205.1 283,205.1 283,205.1 283.1,205.1 283.2,205.1 283.2,205.1 283.3,205.1 283.4,205.1 283.4,205 283.5,205 283.5,205 283.6,205 283.7,205 283.7,205 283.8,204.9 283.9,204.9 283.9,204.8 284,204.7 284.1,204.5 284.1,204.2 284.2,203.8 284.3,203.3 284.3,202.4 284.4,201.3 284.5,199.7 284.5,197.7 284.6,195.2 284.7,192.2 284.7,188.7 284.8,184.9 284.9,181 284.9,177.1 285,173.6 285.1,170.8 285.1,168.9 285.2,168 285.3,168.4 285.3,170 285.4,172.5 285.4,175.8 285.5,179.6 285.6,183.6 285.6,187.4 285.7,191 285.8,194.2 285.8,196.9 285.9,199 286,200.7 286,202 286.1,202.9 286.2,203.5 286.2,203.9 286.3,204.2 286.4,204.4 286.4,204.5 286.5,204.5 286.6,204.5 286.6,204.5 286.7,204.4 286.8,204.2 286.8,204 286.9,203.6 287,203 287,202.1 287.1,200.7 287.1,198.7 287.2,195.9 287.3,192.1 287.3,187.1 287.4,181 287.5,173.5 287.5,165 287.6,155.7 287.7,146 287.7,136.6 287.8,128.1 287.9,121.3 287.9,116.7 288,114.9 288.1,116.1 288.1,120.1 288.2,126.5 288.3,134.7 288.3,144 288.4,153.7 288.4,163.1 288.5,171.8 288.6,179.5 288.6,185.9 288.7,191.1 288.8,195.2 288.8,198.2 288.9,200.4 289,201.9 289,202.9 289.1,203.6 289.2,204 289.2,204.3 289.3,204.5 289.4,204.6 289.4,204.7 289.5,204.7 289.6,204.7 289.6,204.8 289.7,204.8 289.7,204.8 289.8,204.8 289.9,204.8 289.9,204.8 290,204.7 290.1,204.7 290.1,204.7 290.2,204.7 290.3,204.7 290.3,204.7 290.4,204.7 290.5,204.6 290.5,204.6 290.6,204.6 290.7,204.5 290.7,204.5 290.8,204.3 290.8,204.2 290.9,203.9 291,203.6 291,203.2 291.1,202.8 291.2,202.4 291.2,201.9 291.3,201.5 291.4,201.1 291.4,200.9 291.5,200.7 291.6,200.7 291.6,200.9 291.7,201.1 291.7,201.5 291.8,201.9 291.9,202.3 291.9,202.8 292,203.2 292.1,203.6 292.1,203.9 292.2,204.1 292.3,204.2 292.3,204.3 292.4,204.2 292.5,203.9 292.5,203.5 292.6,202.9 292.7,202 292.7,200.8 292.8,199.3 292.8,197.5 292.9,195.3 293,192.9 293,190.3 293.1,187.7 293.2,185.3 293.2,183.2 293.3,181.7 293.4,180.8 293.4,180.7 293.5,181.5 293.6,182.9 293.6,184.9 293.7,187.3 293.7,189.9 293.8,192.5 293.9,194.9 293.9,197.1 294,199 294.1,200.6 294.1,201.8 294.2,202.7 294.3,203.4 294.3,203.9 294.4,204.2 294.4,204.4 294.5,204.6 294.6,204.6 294.6,204.7 294.7,204.7 294.8,204.7 294.8,204.7 294.9,204.6 295,204.5 295,204.4 295.1,204.1 295.2,203.8 295.2,203.2 295.3,202.3 295.3,201 295.4,199.2 295.5,196.8 295.5,193.5 295.6,189.3 295.7,184.2 295.7,178.3 295.8,171.6 295.9,164.6 295.9,157.5 296,150.9 296,145.3 296.1,141.2 296.2,138.9 296.2,138.7 296.3,140.5 296.4,144.2 296.4,149.4 296.5,155.6 296.6,162.2 296.6,169 296.7,175.4 296.7,181.3 296.8,186.4 296.9,190.8 296.9,194.3 297,197.1 297.1,199.3 297.1,200.9 297.2,202.1 297.3,202.9 297.3,203.5 297.4,203.9 297.5,204.2 297.5,204.3 297.6,204.3 297.6,204.2 297.7,204 297.8,203.8 297.8,203.4 297.9,202.8 298,202.2 298,201.5 298.1,200.7 298.1,200 298.2,199.2 298.3,198.6 298.3,198.1 298.4,197.8 298.5,197.7 298.5,197.9 298.6,198.3 298.7,198.9 298.7,199.6 298.8,200.3 298.8,201.1 298.9,201.9 299,202.6 299,203.2 299.1,203.7 299.2,204.1 299.2,204.4 299.3,204.6 299.4,204.8 299.4,204.9 299.5,204.9 299.5,205 299.6,205 299.7,205 299.7,205 299.8,205 299.9,205 299.9,205 300,205 300,204.9 300.1,204.8 300.2,204.7 300.2,204.6 300.3,204.4 300.4,204.2 300.4,203.9 300.5,203.6 300.6,203.4 300.6,203.1 300.7,202.8 300.7,202.7 300.8,202.5 300.9,202.5 300.9,202.5 301,202.6 301.1,202.8 301.1,203.1 301.2,203.3 301.2,203.6 301.3,203.9 301.4,204.1 301.4,204.3 301.5,204.4 301.6,204.5 301.6,204.5 301.7,204.4 301.8,204.2 301.8,203.9 301.9,203.5 301.9,203 302,202.4 302.1,201.7 302.1,200.9 302.2,200 302.3,199.1 302.3,198.1 302.4,197.2 302.4,196.3 302.5,195.5 302.6,194.6 302.6,193.8 302.7,193 302.8,192.2 302.8,191.5 302.9,190.9 302.9,190.5 303,190.3 303.1,190.5 303.1,190.9 303.2,191.7 303.3,192.8 303.3,194.1 303.4,195.6 303.4,197.1 303.5,198.5 303.6,199.9 303.6,201 303.7,202.1 303.8,202.9 303.8,203.5 303.9,204 303.9,204.3 304,204.6 304.1,204.7 304.1,204.8 304.2,204.8 304.3,204.8 304.3,204.8 304.4,204.7 304.4,204.5 304.5,204.3 304.6,204 304.6,203.6 304.7,203 304.8,202.3 304.8,201.6 304.9,200.7 304.9,199.9 305,199 305.1,198.2 305.1,197.6 305.2,197.2 305.3,197 305.3,197.1 305.4,197.4 305.4,198 305.5,198.7 305.6,199.6 305.6,200.4 305.7,201.3 305.8,202.1 305.8,202.8 305.9,203.4 305.9,203.9 306,204.2 306.1,204.5 306.1,204.7 306.2,204.8 306.3,204.9 306.3,205 306.4,205 306.4,205 306.5,205 306.6,205 306.6,205 306.7,205 306.8,205 306.8,205 306.9,205 306.9,205 307,205 307.1,204.9 307.1,204.9 307.2,204.8 307.3,204.7 307.3,204.5 307.4,204.2 307.4,203.8 307.5,203.3 307.6,202.6 307.6,201.8 307.7,200.8 307.7,199.7 307.8,198.5 307.9,197.3 307.9,196.2 308,195.2 308.1,194.5 308.1,194 308.2,193.9 308.2,194.2 308.3,194.7 308.4,195.6 308.4,196.6 308.5,197.7 308.6,198.8 308.6,199.9 308.7,200.9 308.7,201.8 308.8,202.6 308.9,203.2 308.9,203.7 309,204.1 309,204.3 309.1,204.5 309.2,204.7 309.2,204.8 309.3,204.9 309.4,204.9 309.4,205 309.5,205 309.5,205 309.6,205 309.7,205 309.7,205 309.8,205 309.8,205 309.9,204.9 310,204.9 310,204.9 310.1,204.8 310.2,204.8 310.2,204.7 310.3,204.7 310.3,204.6 310.4,204.6 310.5,204.6 310.5,204.6 310.6,204.6 310.6,204.6 310.7,204.6 310.8,204.7 310.8,204.7 310.9,204.7 311,204.8 311,204.8 311.1,204.9 311.1,204.9 311.2,204.9 311.3,204.9 311.3,204.9 311.4,204.8 311.4,204.8 311.5,204.6 311.6,204.5 311.6,204.2 311.7,203.9 311.7,203.5 311.8,202.9 311.9,202.2 311.9,201.4 312,200.5 312.1,199.5 312.1,198.6 312.2,197.7 312.2,196.9 312.3,196.3 312.4,196 312.4,196 312.5,196.2 312.5,196.8 312.6,197.6 312.7,198.5 312.7,199.4 312.8,200.4 312.9,201.3 312.9,202.1 313,202.8 313,203.3 313.1,203.7 313.2,204 313.2,204.1 313.3,204.1 313.3,204 313.4,203.9 313.5,203.7 313.5,203.5 313.6,203.2 313.6,203 313.7,202.8 313.8,202.7 313.8,202.6 313.9,202.6 313.9,202.7 314,202.8 314.1,203 314.1,203.2 314.2,203.4 314.3,203.5 314.3,203.7 314.4,203.7 314.4,203.7 314.5,203.6 314.6,203.4 314.6,203.2 314.7,202.9 314.7,202.7 314.8,202.4 314.9,202.2 314.9,202.1 315,202 315,202.1 315.1,202.2 315.2,202.4 315.2,202.7 315.3,203 315.3,203.3 315.4,203.6 315.5,203.9 315.5,204.1 315.6,204.3 315.6,204.5 315.7,204.6 315.8,204.7 315.8,204.8 315.9,204.8 316,204.8 316,204.8 316.1,204.8 316.1,204.8 316.2,204.7 316.3,204.7 316.3,204.6 316.4,204.5 316.4,204.4 316.5,204.3 316.6,204.2 316.6,204.1 316.7,203.9 316.7,203.8 316.8,203.7 316.9,203.5 316.9,203.4 317,203.2 317,202.9 317.1,202.4 317.2,201.6 317.2,200.5 317.3,198.8 317.3,196.4 317.4,193.1 317.5,188.8 317.5,183.3 317.6,176.8 317.6,169.4 317.7,161.3 317.8,153 317.8,145.1 317.9,138.1 317.9,132.7 318,129.5 318.1,128.7 318.1,130.4 318.2,134.6 318.2,140.6 318.3,148.1 318.4,156.2 318.4,164.5 318.5,172.4 318.5,179.5 318.6,185.7 318.7,190.7 318.7,194.8 318.8,197.8 318.8,200 318.9,201.6 319,202.7 319,203.4 319.1,203.8 319.1,204.1 319.2,204.3 319.3,204.3 319.3,204.4 319.4,204.3 319.4,204.3 319.5,204.1 319.6,204 319.6,203.8 319.7,203.7 319.7,203.5 319.8,203.3 319.9,203.2 319.9,203.1 320,203 320,203.1 320.1,203.1 320.2,203.2 320.2,203.4 320.3,203.6 320.3,203.8 320.4,204 320.5,204.1 320.5,204.3 320.6,204.4 320.6,204.6 320.7,204.6 320.8,204.7 320.8,204.7 320.9,204.8 320.9,204.8 321,204.8 321.1,204.8 321.1,204.7 321.2,204.7 321.2,204.6 321.3,204.5 321.4,204.3 321.4,204.2 321.5,204 321.5,203.8 321.6,203.5 321.6,203.2 321.7,202.9 321.8,202.5 321.8,202.1 321.9,201.6 321.9,200.9 322,199.9 322.1,198.7 322.1,197 322.2,195 322.2,192.6 322.3,189.8 322.4,186.7 322.4,183.6 322.5,180.6 322.5,178 322.6,176 322.7,174.9 322.7,174.7 322.8,175.5 322.8,177.3 322.9,179.8 323,182.7 323,186 323.1,189.3 323.1,192.4 323.2,195.1 323.3,197.5 323.3,199.5 323.4,201 323.4,202.2 323.5,203.1 323.5,203.7 323.6,204.1 323.7,204.3 323.7,204.5 323.8,204.6 323.8,204.7 323.9,204.7 324,204.8 324,204.8 324.1,204.8 324.1,204.8 324.2,204.8 324.3,204.8 324.3,204.8 324.4,204.8 324.4,204.7 324.5,204.7 324.5,204.7 324.6,204.7 324.7,204.7 324.7,204.7 324.8,204.7 324.8,204.7 324.9,204.7 325,204.8 325,204.8 325.1,204.8 325.1,204.8 325.2,204.8 325.3,204.8 325.3,204.9 325.4,204.9 325.4,204.9 325.5,204.9 325.5,204.9 325.6,204.9 325.7,204.9 325.7,204.9 325.8,204.9 325.8,204.8 325.9,204.8 326,204.8 326,204.8 326.1,204.8 326.1,204.8 326.2,204.7 326.3,204.7 326.3,204.6 326.4,204.4 326.4,204.2 326.5,203.8 326.5,203.2 326.6,202.5 326.7,201.5 326.7,200.1 326.8,198.5 326.8,196.5 326.9,194.2 327,191.7 327,189.1 327.1,186.6 327.1,184.4 327.2,182.7 327.2,181.6 327.3,181.3 327.4,181.8 327.4,183 327.5,184.8 327.5,187.1 327.6,189.6 327.7,192.1 327.7,194.6 327.8,196.8 327.8,198.8 327.9,200.3 327.9,201.6 328,202.6 328.1,203.3 328.1,203.8 328.2,204.1 328.2,204.4 328.3,204.5 328.4,204.6 328.4,204.7 328.5,204.7 328.5,204.8 328.6,204.8 328.6,204.8 328.7,204.8 328.8,204.8 328.8,204.8 328.9,204.8 328.9,204.8 329,204.8 329.1,204.9 329.1,204.9 329.2,204.9 329.2,204.9 329.3,204.9 329.3,204.9 329.4,204.9 329.5,204.9 329.5,204.9 329.6,204.9 329.6,204.9 329.7,204.9 329.7,204.9 329.8,204.9 329.9,204.9 329.9,204.8 330,204.8 330,204.8 330.1,204.8 330.2,204.8 330.2,204.7 330.3,204.7 330.3,204.6 330.4,204.4 330.4,204.2 330.5,203.9 330.6,203.6 330.6,203.1 330.7,202.6 330.7,202 330.8,201.4 330.8,200.7 330.9,200.1 331,199.5 331,198.9 331.1,198.4 331.1,197.9 331.2,197.3 331.2,196.6 331.3,195.6 331.4,194.4 331.4,192.8 331.5,190.8 331.5,188.5 331.6,185.9 331.7,183.2 331.7,180.6 331.8,178.3 331.8,176.6 331.9,175.5 331.9,175.3 332,175.9 332.1,177.3 332.1,179.3 332.2,181.8 332.2,184.6 332.3,187.4 332.3,190.2 332.4,192.8 332.5,195.2 332.5,197.2 332.6,199 332.6,200.4 332.7,201.5 332.7,202.4 332.8,203.1 332.9,203.6 332.9,204 333,204.3 333,204.4 333.1,204.6 333.1,204.6 333.2,204.7 333.3,204.7 333.3,204.7 333.4,204.7 333.4,204.7 333.5,204.7 333.5,204.6 333.6,204.5 333.7,204.4 333.7,204.2 333.8,204.1 333.8,203.8 333.9,203.6 333.9,203.3 334,203 334.1,202.7 334.1,202.5 334.2,202.3 334.2,202.2 334.3,202.2 334.3,202.2 334.4,202.4 334.5,202.6 334.5,202.8 334.6,203.1 334.6,203.3 334.7,203.6 334.7,203.8 334.8,204 334.9,204.1 334.9,204.2 335,204.2 335,204.1 335.1,204 335.1,203.6 335.2,203.2 335.3,202.4 335.3,201.3 335.4,199.8 335.4,197.7 335.5,194.9 335.5,191.5 335.6,187.3 335.6,182.5 335.7,177.2 335.8,171.8 335.8,166.4 335.9,161.6 335.9,157.7 336,155.1 336,154.1 336.1,154.8 336.2,157 336.2,160.6 336.3,165 336.3,170 336.4,175 336.4,179.7 336.5,183.9 336.6,187.2 336.6,189.8 336.7,191.6 336.7,192.8 336.8,193.4 336.8,193.8 336.9,194 337,194.3 337,194.7 337.1,195.2 337.1,196 337.2,196.9 337.2,197.9 337.3,199 337.3,200 337.4,201 337.5,201.9 337.5,202.6 337.6,203.1 337.6,203.6 337.7,203.9 337.7,204.1 337.8,204.2 337.9,204.2 337.9,204.1 338,203.9 338,203.6 338.1,203.2 338.1,202.8 338.2,202.2 338.2,201.4 338.3,200.6 338.4,199.5 338.4,198.3 338.5,196.8 338.5,195.1 338.6,193.1 338.6,190.9 338.7,188.4 338.8,185.6 338.8,182.8 338.9,180.1 338.9,177.7 339,175.7 339,174.5 339.1,174.1 339.1,174.7 339.2,176.1 339.3,178.3 339.3,181.2 339.4,184.3 339.4,187.6 339.5,190.8 339.5,193.7 339.6,196.3 339.6,198.5 339.7,200.2 339.8,201.6 339.8,202.6 339.9,203.3 339.9,203.8 340,204.1 340,204.3 340.1,204.5 340.1,204.6 340.2,204.6 340.3,204.6 340.3,204.7 340.4,204.7 340.4,204.7 340.5,204.7 340.5,204.7 340.6,204.7 340.6,204.7 340.7,204.7 340.8,204.7 340.8,204.7 340.9,204.7 340.9,204.7 341,204.6 341,204.5 341.1,204.4 341.1,204.3 341.2,204 341.3,203.6 341.3,203.1 341.4,202.4 341.4,201.4 341.5,200.1 341.5,198.5 341.6,196.6 341.6,194.4 341.7,191.8 341.8,189.1 341.8,186.2 341.9,183.4 341.9,180.8 342,178.6 342,176.8 342.1,175.8 342.1,175.6 342.2,176.2 342.3,177.6 342.3,179.7 342.4,182.3 342.4,185.2 342.5,188.2 342.5,191.2 342.6,193.9 342.6,196.4 342.7,198.5 342.8,200.2 342.8,201.5 342.9,202.5 342.9,203.2 343,203.7 343,204.1 343.1,204.3 343.1,204.4 343.2,204.5 343.3,204.5 343.3,204.5 343.4,204.4 343.4,204.3 343.5,204.2 343.5,204 343.6,203.9 343.6,203.8 343.7,203.6 343.7,203.5 343.8,203.4 343.9,203.4 343.9,203.4 344,203.5 344,203.6 344.1,203.7 344.1,203.8 344.2,204 344.2,204.1 344.3,204.3 344.3,204.4 344.4,204.5 344.5,204.6 344.5,204.7 344.6,204.7 344.6,204.8 344.7,204.8 344.7,204.8 344.8,204.8 344.8,204.8 344.9,204.8 345,204.8 345,204.8 345.1,204.8 345.1,204.8 345.2,204.8 345.2,204.8 345.3,204.8 345.3,204.8 345.4,204.8 345.4,204.7 345.5,204.6 345.6,204.5 345.6,204.4 345.7,204.2 345.7,203.9 345.8,203.6 345.8,203.1 345.9,202.7 345.9,202.2 346,201.6 346,201.1 346.1,200.7 346.2,200.3 346.2,200.1 346.3,200 346.3,200.1 346.4,200.3 346.4,200.7 346.5,201.1 346.5,201.6 346.6,202.2 346.6,202.7 346.7,203.1 346.8,203.5 346.8,203.8 346.9,204 346.9,204.2 347,204.2 347,204.1 347.1,204 347.1,203.7 347.2,203.4 347.2,203 347.3,202.5 347.3,202.1 347.4,201.6 347.5,201.1 347.5,200.7 347.6,200.5 347.6,200.3 347.7,200.3 347.7,200.5 347.8,200.8 347.8,201.2 347.9,201.6 347.9,202.1 348,202.6 348,203 348.1,203.5 348.2,203.8 348.2,204.1 348.3,204.3 348.3,204.5 348.4,204.6 348.4,204.7 348.5,204.7 348.5,204.7 348.6,204.8 348.6,204.8 348.7,204.8 348.8,204.8 348.8,204.8 348.9,204.8 348.9,204.8 349,204.8 349,204.8 349.1,204.8 349.1,204.8 349.2,204.8 349.2,204.7 349.3,204.7 349.3,204.7 349.4,204.7 349.4,204.7 349.5,204.7 349.6,204.7 349.6,204.7 349.7,204.7 349.7,204.7 349.8,204.6 349.8,204.6 349.9,204.5 349.9,204.4 350,204.2 350,204 350.1,203.6 350.1,203.2 350.2,202.6 350.3,201.8 350.3,200.8 350.4,199.5 350.4,198 350.5,196.2 350.5,194.1 350.6,191.7 350.6,189 350.7,186 350.7,182.7 350.8,179.4 350.8,176.2 350.9,173.2 350.9,170.7 351,168.9 351.1,168 351.1,168.1 351.2,169.2 351.2,171.2 351.3,173.9 351.3,177.1 351.4,180.3 351.4,183.4 351.5,186.2 351.5,188.5 351.6,190.3 351.6,191.5 351.7,192.3 351.7,192.9 351.8,193.2 351.9,193.5 351.9,193.9 352,194.5 352,195.2 352.1,196.2 352.1,197.2 352.2,198.3 352.2,199.4 352.3,200.4 352.3,201.4 352.4,202.2 352.4,202.8 352.5,203.3 352.5,203.7 352.6,203.9 352.6,204 352.7,204.1 352.8,204.1 352.8,204 352.9,203.9 352.9,203.7 353,203.5 353,203.3 353.1,203 353.1,202.6 353.2,202.2 353.2,201.7 353.3,200.9 353.3,199.9 353.4,198.6 353.4,196.9 353.5,194.7 353.5,192.2 353.6,189.2 353.6,186 353.7,182.7 353.8,179.6 353.8,176.9 353.9,174.8 353.9,173.6 354,173.4 354,174.3 354.1,176.1 354.1,178.6 354.2,181.7 354.2,185 354.3,188.4 354.3,191.6 354.4,194.5 354.4,197 354.5,199 354.5,200.6 354.6,201.8 354.6,202.7 354.7,203.3 354.8,203.7 354.8,204 354.9,204.1 354.9,204.2 355,204.2 355,204.2 355.1,204.1 355.1,204 355.2,203.8 355.2,203.5 355.3,203 355.3,202.5 355.4,201.8 355.4,201 355.5,200.1 355.5,199.2 355.6,198.2 355.6,197.3 355.7,196.6 355.7,196 355.8,195.7 355.9,195.7 355.9,195.9 356,196.4 356,197 356.1,197.8 356.1,198.6 356.2,199.2 356.2,199.7 356.3,199.9 356.3,199.7 356.4,198.8 356.4,197 356.5,194.2 356.5,189.9 356.6,184 356.6,176.2 356.7,166.3 356.7,154.3 356.8,140.6 356.8,125.4 356.9,109.8 356.9,94.5 357,80.8 357,69.9 357.1,62.7 357.2,60 357.2,62 357.3,68.5 357.3,78.7 357.4,91.5 357.4,105.8 357.5,120.4 357.5,134.5 357.6,147.3 357.6,158.5 357.7,167.8 357.7,175.3 357.8,181.3 357.8,185.9 357.9,189.6 357.9,192.5 358,194.8 358,196.7 358.1,198.3 358.1,199.6 358.2,200.7 358.2,201.6 358.3,202.4 358.3,202.9 358.4,203.4 358.4,203.7 358.5,203.9 358.5,204.1 358.6,204.2 358.6,204.3 358.7,204.3 358.8,204.4 358.8,204.4 358.9,204.4 358.9,204.5 359,204.5 359,204.5 359.1,204.5 359.1,204.5 359.2,204.5 359.2,204.5 359.3,204.5 359.3,204.5 359.4,204.5 359.4,204.5 359.5,204.5 359.5,204.5 359.6,204.5 359.6,204.4 359.7,204.4 359.7,204.3 359.8,204.2 359.8,204.1 359.9,203.9 359.9,203.8 360,203.6 360,203.5 360.1,203.4 360.1,203.4 360.2,203.3 360.2,203.3 360.3,203.4 360.3,203.5 360.4,203.6 360.4,203.7 360.5,203.9 360.5,204 360.6,204.2 360.6,204.3 360.7,204.4 360.7,204.4 360.8,204.5 360.8,204.6 360.9,204.6 360.9,204.6 361,204.6 361.1,204.6 361.1,204.6 361.2,204.6 361.2,204.6 361.3,204.6 361.3,204.6 361.4,204.6 361.4,204.6 361.5,204.6 361.5,204.5 361.6,204.5 361.6,204.4 361.7,204.4 361.7,204.3 361.8,204.2 361.8,204.1 361.9,203.9 361.9,203.8 362,203.5 362,203.3 362.1,202.9 362.1,202.4 362.2,201.7 362.2,200.7 362.3,199.5 362.3,197.9 362.4,196 362.4,193.7 362.5,191.2 362.5,188.5 362.6,185.9 362.6,183.4 362.7,181.2 362.7,179.7 362.8,178.8 362.8,178.8 362.9,179.5 362.9,181 363,183.1 363,185.5 363.1,188.2 363.1,190.8 363.2,193.4 363.2,195.7 363.3,197.7 363.3,199.3 363.4,200.6 363.4,201.6 363.5,202.4 363.5,203 363.6,203.4 363.6,203.7 363.7,204 363.7,204.1 363.8,204.3 363.8,204.4 363.9,204.4 363.9,204.5 364,204.5 364,204.6 364.1,204.6 364.1,204.6 364.2,204.6 364.2,204.6 364.3,204.6 364.3,204.7 364.4,204.7 364.4,204.7 364.5,204.7 364.5,204.7 364.6,204.7 364.6,204.7 364.7,204.7 364.7,204.7 364.8,204.7 364.8,204.7 364.9,204.7 364.9,204.7 365,204.7 365,204.7 365.1,204.7 365.1,204.7 365.2,204.7 365.2,204.6 365.3,204.6 365.3,204.6 365.4,204.5 365.4,204.4 365.5,204.2 365.5,203.9 365.6,203.6 365.6,203.1 365.7,202.5 365.7,201.8 365.8,200.9 365.8,199.9 365.9,198.8 365.9,197.8 366,196.7 366,195.8 366.1,195.1 366.1,194.6 366.2,194.4 366.2,194.6 366.3,195 366.3,195.7 366.4,196.6 366.4,197.6 366.5,198.7 366.5,199.7 366.6,200.7 366.6,201.6 366.7,202.4 366.7,203 366.8,203.5 366.8,203.8 366.9,204.1 366.9,204.3 367,204.4 367,204.5 367.1,204.5 367.1,204.6 367.2,204.6 367.2,204.6 367.3,204.6 367.3,204.5 367.4,204.5 367.4,204.5 367.5,204.5 367.5,204.4 367.5,204.4 367.6,204.4 367.6,204.4 367.7,204.3 367.7,204.3 367.8,204.3 367.8,204.2 367.9,204.1 367.9,204 368,203.8 368,203.4 368.1,202.9 368.1,202.2 368.2,201.1 368.2,199.7 368.3,198 368.3,195.7 368.4,193.1 368.4,190 368.5,186.7 368.5,183.2 368.6,179.7 368.6,176.6 368.7,173.9 368.7,171.9 368.8,170.9 368.8,170.8 368.9,171.8 368.9,173.7 369,176.3 369,179.5 369.1,182.9 369.1,186.4 369.2,189.8 369.2,192.8 369.3,195.5 369.3,197.8 369.4,199.6 369.4,201 369.5,202.1 369.5,202.9 369.6,203.4 369.6,203.8 369.7,204.1 369.7,204.2 369.7,204.3 369.8,204.4 369.8,204.5 369.9,204.5 369.9,204.5 370,204.5 370,204.5 370.1,204.5 370.1,204.5 370.2,204.5 370.2,204.5 370.3,204.5 370.3,204.5 370.4,204.5 370.4,204.5 370.5,204.4 370.5,204.4 370.6,204.3 370.6,204.2 370.7,204 370.7,203.8 370.8,203.6 370.8,203.3 370.9,203 370.9,202.7 371,202.4 371,202.2 371.1,201.9 371.1,201.7 371.1,201.6 371.2,201.6 371.2,201.6 371.3,201.6 371.3,201.7 371.4,201.7 371.4,201.7 371.5,201.5 371.5,201 371.6,200.3 371.6,199.3 371.7,197.8 371.7,195.8 371.8,193.4 371.8,190.6 371.9,187.5 371.9,184.1 372,180.7 372,177.5 372.1,174.7 372.1,172.5 372.2,171.1 372.2,170.7 372.3,171.3 372.3,172.8 372.3,175.2 372.4,178.1 372.4,181.4 372.5,184.8 372.5,188.2 372.6,191.3 372.6,194.1 372.7,196.5 372.7,198.5 372.8,200.1 372.8,201.2 372.9,202.1 372.9,202.7 373,203 373,203.2 373.1,203.4 373.1,203.4 373.2,203.4 373.2,203.4 373.3,203.4 373.3,203.5 373.3,203.5 373.4,203.6 373.4,203.7 373.5,203.8 373.5,203.9 373.6,204 373.6,204.1 373.7,204.2 373.7,204.3 373.8,204.4 373.8,204.4 373.9,204.5 373.9,204.5 374,204.6 374,204.6 374.1,204.6 374.1,204.6 374.2,204.6 374.2,204.6 374.2,204.6 374.3,204.6 374.3,204.6 374.4,204.6 374.4,204.6 374.5,204.6 374.5,204.6 374.6,204.6 374.6,204.6 374.7,204.6 374.7,204.6 374.8,204.6 374.8,204.6 374.9,204.6 374.9,204.6 375,204.6 375,204.6 375.1,204.5 375.1,204.4 375.1,204.3 375.2,204.1 375.2,203.9 375.3,203.6 375.3,203.2 375.4,202.8 375.4,202.2 375.5,201.6 375.5,201 375.6,200.3 375.6,199.6 375.7,199 375.7,198.5 375.8,198.2 375.8,198 375.8,197.9 375.9,198.1 375.9,198.5 376,198.9 376,199.5 376.1,200.2 376.1,200.9 376.2,201.5 376.2,202.1 376.3,202.7 376.3,203.2 376.4,203.6 376.4,203.9 376.5,204.1 376.5,204.3 376.5,204.4 376.6,204.5 376.6,204.5 376.7,204.6 376.7,204.6 376.8,204.6 376.8,204.6 376.9,204.6 376.9,204.6 377,204.6 377,204.6 377.1,204.6 377.1,204.6 377.2,204.6 377.2,204.6 377.2,204.6 377.3,204.6 377.3,204.5 377.4,204.5 377.4,204.4 377.5,204.4 377.5,204.2 377.6,204.1 377.6,204 377.7,203.8 377.7,203.6 377.8,203.4 377.8,203.1 377.8,202.9 377.9,202.8 377.9,202.6 378,202.5 378,202.4 378.1,202.5 378.1,202.5 378.2,202.6 378.2,202.8 378.3,202.9 378.3,203.1 378.4,203.3 378.4,203.5 378.4,203.6 378.5,203.6 378.5,203.6 378.6,203.4 378.6,203.1 378.7,202.6 378.7,201.9 378.8,200.9 378.8,199.5 378.9,197.8 378.9,195.7 379,193.2 379,190.3 379,187.1 379.1,183.7 379.1,180.4 379.2,177.2 379.2,174.3 379.3,172.1 379.3,170.5 379.4,169.9 379.4,170.1 379.5,171.3 379.5,173.3 379.5,175.9 379.6,179 379.6,182.3 379.7,185.7 379.7,189 379.8,192 379.8,194.6 379.9,196.8 379.9,198.6 380,200 380,201.1 380,201.8 380.1,202.2 380.1,202.4 380.2,202.5 380.2,202.5 380.3,202.3 380.3,202.2 380.4,202 380.4,201.9 380.5,201.8 380.5,201.8 380.5,201.9 380.6,202 380.6,202.1 380.7,202.4 380.7,202.6 380.8,202.9 380.8,203.1 380.9,203.4 380.9,203.6 381,203.8 381,204 381,204.1 381.1,204.3 381.1,204.3 381.2,204.4 381.2,204.4 381.3,204.5 381.3,204.5 381.4,204.5 381.4,204.5 381.5,204.5 381.5,204.5 381.5,204.5 381.6,204.5 381.6,204.5 381.7,204.5 381.7,204.5 381.8,204.5 381.8,204.4 381.9,204.4 381.9,204.4 381.9,204.3 382,204.3 382,204.1 382.1,204 382.1,203.7 382.2,203.3 382.2,202.8 382.3,202 382.3,201.1 382.4,199.8 382.4,198.1 382.4,196.1 382.5,193.7 382.5,190.9 382.6,187.9 382.6,184.7 382.7,181.5 382.7,178.4 382.8,175.7 382.8,173.5 382.8,172 382.9,171.4 382.9,171.6 383,172.7 383,174.5 383.1,177 383.1,179.9 383.2,183.1 383.2,186.2 383.2,189.3 383.3,192.1 383.3,194.6 383.4,196.8 383.4,198.5 383.5,200 383.5,201.1 383.6,201.9 383.6,202.5 383.6,202.9 383.7,203.3 383.7,203.5 383.8,203.7 383.8,203.8 383.9,204 383.9,204 384,204.1 384,204.2 384,204.3 384.1,204.3 384.1,204.4 384.2,204.4 384.2,204.4 384.3,204.5 384.3,204.5 384.4,204.5 384.4,204.5 384.4,204.5 384.5,204.5 384.5,204.5 384.6,204.5 384.6,204.5 384.7,204.5 384.7,204.5 384.8,204.5 384.8,204.5 384.8,204.5 384.9,204.5 384.9,204.5 385,204.5 385,204.5 385.1,204.6 385.1,204.6 385.1,204.6 385.2,204.6 385.2,204.6 385.3,204.6 385.3,204.5 385.4,204.5 385.4,204.5 385.5,204.5 385.5,204.5 385.5,204.5 385.6,204.5 385.6,204.5 385.7,204.5 385.7,204.4 385.8,204.3 385.8,204.2 385.8,204 385.9,203.8 385.9,203.5 386,203.1 386,202.6 386.1,202 386.1,201.2 386.2,200.4 386.2,199.5 386.2,198.5 386.3,197.5 386.3,196.5 386.4,195.6 386.4,194.9 386.5,194.3 386.5,193.9 386.5,193.8 386.6,193.8 386.6,193.9 386.7,194.2 386.7,194.4 386.8,194.5 386.8,194.4 386.9,194.1 386.9,193.5 386.9,192.6 387,191.5 387,190.1 387.1,188.6 387.1,187.1 387.2,185.6 387.2,184.5 387.2,183.7 387.3,183.3 387.3,183.5 387.4,184.1 387.4,185.2 387.5,186.8 387.5,188.5 387.5,190.5 387.6,192.5 387.6,194.5 387.7,196.3 387.7,198 387.8,199.4 387.8,200.6 387.8,201.6 387.9,202.4 387.9,203 388,203.4 388,203.7 388.1,204 388.1,204.1 388.1,204.2 388.2,204.3 388.2,204.4 388.3,204.4 388.3,204.4 388.4,204.4 388.4,204.3 388.4,204.3 388.5,204.2 388.5,204 388.6,203.9 388.6,203.6 388.7,203.3 388.7,203 388.7,202.5 388.8,202 388.8,201.5 388.9,200.9 388.9,200.2 389,199.7 389,199.1 389,198.7 389.1,198.3 389.1,198.1 389.2,198.1 389.2,198.2 389.3,198.5 389.3,198.9 389.3,199.4 389.4,199.9 389.4,200.5 389.5,201.1 389.5,201.7 389.6,202.2 389.6,202.7 389.6,203.1 389.7,203.4 389.7,203.7 389.8,203.9 389.8,204 389.9,204.1 389.9,204.1 389.9,204.1 390,204 390,203.9 390.1,203.8 390.1,203.6 390.1,203.4 390.2,203.2 390.2,203 390.3,202.7 390.3,202.4 390.4,202.1 390.4,201.8 390.4,201.4 390.5,201 390.5,200.5 390.6,199.9 390.6,199 390.7,197.9 390.7,196.3 390.7,194.2 390.8,191.5 390.8,188 390.9,183.8 390.9,178.9 390.9,173.2 391,167 391,160.4 391.1,153.8 391.1,147.5 391.2,141.9 391.2,137.3 391.2,134.1 391.3,132.6 391.3,132.8 391.4,134.7 391.4,138.2 391.5,142.9 391.5,148.5 391.5,154.6 391.6,160.9 391.6,166.9 391.7,172.5 391.7,177.5 391.7,181.7 391.8,185.1 391.8,187.9 391.9,190 391.9,191.6 392,192.8 392,193.8 392,194.6 392.1,195.4 392.1,196.1 392.2,196.9 392.2,197.7 392.2,198.5 392.3,199.3 392.3,200.1 392.4,200.9 392.4,201.5 392.5,202.1 392.5,202.7 392.5,203.1 392.6,203.4 392.6,203.7 392.7,203.9 392.7,204 392.7,204.2 392.8,204.2 392.8,204.3 392.9,204.3 392.9,204.4 392.9,204.4 393,204.4 393,204.4 393.1,204.4 393.1,204.4 393.2,204.3 393.2,204.3 393.2,204.3 393.3,204.2 393.3,204.1 393.4,204 393.4,203.8 393.4,203.7 393.5,203.5 393.5,203.2 393.6,203 393.6,202.8 393.6,202.5 393.7,202.3 393.7,202.1 393.8,202 393.8,201.9 393.9,201.9 393.9,201.9 393.9,202 394,202.1 394,202.3 394.1,202.5 394.1,202.7 394.1,202.9 394.2,203.1 394.2,203.3 394.3,203.4 394.3,203.5 394.3,203.5 394.4,203.4 394.4,203.2 394.5,202.9 394.5,202.4 394.5,201.7 394.6,200.8 394.6,199.7 394.7,198.4 394.7,196.9 394.8,195.1 394.8,193.2 394.8,191.2 394.9,189.3 394.9,187.4 395,185.7 395,184.3 395,183.2 395.1,182.7 395.1,182.7 395.2,183.2 395.2,184.1 395.2,185.5 395.3,187.2 395.3,189.1 395.4,191 395.4,193 395.4,194.9 395.5,196.7 395.5,198.2 395.6,199.6 395.6,200.7 395.6,201.6 395.7,202.4 395.7,202.9 395.8,203.4 395.8,203.7 395.8,203.9 395.9,204.1 395.9,204.2 396,204.3 396,204.3 396,204.3 396.1,204.4 396.1,204.4 396.2,204.4 396.2,204.4 396.2,204.4 396.3,204.4 396.3,204.4 396.4,204.4 396.4,204.4 396.4,204.4 396.5,204.4 396.5,204.4 396.6,204.3 396.6,204.3 396.6,204.2 396.7,204.1 396.7,204 396.8,203.8 396.8,203.6 396.8,203.3 396.9,202.9 396.9,202.4 397,201.8 397,201.2 397,200.5 397.1,199.7 397.1,198.8 397.2,197.9 397.2,197 397.2,196 397.3,195.1 397.3,194.2 397.4,193.3 397.4,192.4 397.4,191.5 397.5,190.5 397.5,189.5 397.6,188.4 397.6,187.2 397.6,186.1 397.7,184.9 397.7,183.8 397.8,182.9 397.8,182.2 397.8,181.8 397.9,181.7 397.9,182.1 398,182.8 398,184 398,185.4 398.1,187.2 398.1,189 398.2,191 398.2,192.9 398.2,194.8 398.3,196.5 398.3,198 398.4,199.4 398.4,200.5 398.4,201.5 398.5,202.2 398.5,202.8 398.6,203.3 398.6,203.6 398.6,203.8 398.7,204 398.7,204.1 398.7,204.2 398.8,204.3 398.8,204.3 398.9,204.4 398.9,204.4 398.9,204.4 399,204.4 399,204.4 399.1,204.4 399.1,204.4 399.1,204.4 399.2,204.4 399.2,204.4 399.3,204.4 399.3,204.4 399.3,204.4 399.4,204.4 399.4,204.4 399.4,204.4 399.5,204.4 399.5,204.4 399.6,204.4 399.6,204.4 399.6,204.4 399.7,204.4 399.7,204.4 399.8,204.4 399.8,204.4 399.8,204.4 399.9,204.4 399.9,204.4 400,204.4 400,204.4 400,204.4 400.1,204.4 400.1,204.4 400.1,204.3 400.2,204.3 400.2,204.2 400.3,204.2 400.3,204.1 400.3,204 400.4,203.8 400.4,203.7 400.5,203.5 400.5,203.3 400.5,203.1 400.6,202.8 400.6,202.6 400.6,202.3 400.7,202.1 400.7,201.9 400.8,201.8 400.8,201.6 400.8,201.6 400.9,201.5 400.9,201.5 401,201.5 401,201.5 401,201.4 401.1,201.3 401.1,201 401.1,200.6 401.2,199.9 401.2,198.9 401.3,197.6 401.3,196 401.3,193.8 401.4,191.3 401.4,188.4 401.5,185 401.5,181.4 401.5,177.6 401.6,173.7 401.6,169.9 401.6,166.5 401.7,163.5 401.7,161.2 401.8,159.8 401.8,159.2 401.8,159.6 401.9,160.9 401.9,163.1 401.9,165.9 402,169.3 402,173 402.1,176.9 402.1,180.8 402.1,184.5 402.2,187.9 402.2,191 402.3,193.7 402.3,196 402.3,197.9 402.4,199.5 402.4,200.7 402.4,201.6 402.5,202.2 402.5,202.6 402.6,202.9 402.6,203 402.6,203 402.7,202.9 402.7,202.7 402.7,202.4 402.8,202 402.8,201.6 402.9,201.1 402.9,200.6 402.9,200.1 403,199.7 403,199.3 403,199 403.1,198.7 403.1,198.6 403.2,198.6 403.2,198.7 403.2,198.9 403.3,199.2 403.3,199.6 403.3,200 403.4,200.5 403.4,201 403.5,201.5 403.5,202 403.5,202.4 403.6,202.8 403.6,203.1 403.6,203.4 403.7,203.7 403.7,203.8 403.8,204 403.8,204.1 403.8,204.2 403.9,204.3 403.9,204.3 403.9,204.3 404,204.4 404,204.4 404.1,204.4 404.1,204.4 404.1,204.4 404.2,204.4 404.2,204.4 404.2,204.4 404.3,204.4 404.3,204.4 404.3,204.4 404.4,204.4 404.4,204.4 404.5,204.3 404.5,204.3 404.5,204.3 404.6,204.3 404.6,204.3 404.6,204.3 404.7,204.3 404.7,204.2 404.8,204.2 404.8,204.1 404.8,204.1 404.9,204 404.9,203.9 404.9,203.7 405,203.5 405,203.2 405,202.9 405.1,202.4 405.1,201.8 405.2,201 405.2,200 405.2,198.7 405.3,197.2 405.3,195.4 405.3,193.2 405.4,190.6 405.4,187.7 405.5,184.5 405.5,181.1 405.5,177.5 405.6,173.8 405.6,170.3 405.6,167 405.7,164.1 405.7,161.7 405.7,160.1 405.8,159.3 405.8,159.3 405.9,160.2 405.9,162 405.9,164.4 406,167.4 406,170.8 406,174.5 406.1,178.2 406.1,181.9 406.1,185.4 406.2,188.7 406.2,191.6 406.3,194.1 406.3,196.3 406.3,198.1 406.4,199.6 406.4,200.8 406.4,201.7 406.5,202.4 406.5,202.9 406.5,203.3 406.6,203.6 406.6,203.8 406.6,204 406.7,204.1 406.7,204.1 406.8,204.2 406.8,204.2 406.8,204.2 406.9,204.2 406.9,204.2 406.9,204.2 407,204.2 407,204.2 407,204.2 407.1,204.2 407.1,204.1 407.2,204.1 407.2,204 407.2,204 407.3,203.9 407.3,203.9 407.3,203.8 407.4,203.8 407.4,203.7 407.4,203.7 407.5,203.7 407.5,203.7 407.5,203.7 407.6,203.7 407.6,203.8 407.7,203.8 407.7,203.8 407.7,203.9 407.8,204 407.8,204 407.8,204.1 407.9,204.1 407.9,204.2 407.9,204.2 408,204.3 408,204.3 408,204.3 408.1,204.4 408.1,204.4 408.1,204.4 408.2,204.4 408.2,204.4 408.3,204.4 408.3,204.4 408.3,204.4 408.4,204.4 408.4,204.4 408.4,204.4 408.5,204.4 408.5,204.4 408.5,204.4 408.6,204.4 408.6,204.4 408.6,204.4 408.7,204.4 408.7,204.4 408.7,204.4 408.8,204.3 408.8,204.2 408.9,204.2 408.9,204 408.9,203.9 409,203.6 409,203.4 409,203 409.1,202.6 409.1,202.1 409.1,201.5 409.2,200.8 409.2,200.1 409.2,199.3 409.3,198.4 409.3,197.6 409.3,196.8 409.4,196 409.4,195.4 409.4,194.8 409.5,194.4 409.5,194.2 409.6,194.2 409.6,194.4 409.6,194.7 409.7,195.2 409.7,195.8 409.7,196.5 409.8,197.3 409.8,198.2 409.8,199 409.9,199.8 409.9,200.5 409.9,201.2 410,201.8 410,202.4 410,202.8 410.1,203.2 410.1,203.5 410.1,203.7 410.2,203.9 410.2,204 410.2,204.1 410.3,204.2 410.3,204.3 410.4,204.3 410.4,204.3 410.4,204.3 410.5,204.3 410.5,204.3 410.5,204.3 410.6,204.3 410.6,204.3 410.6,204.2 410.7,204.2 410.7,204.1 410.7,204 410.8,203.8 410.8,203.6 410.8,203.3 410.9,203 410.9,202.5 410.9,201.9 411,201.1 411,200.1 411,199 411.1,197.6 411.1,196 411.1,194.2 411.2,192.2 411.2,190.1 411.2,187.9 411.3,185.7 411.3,183.5 411.3,181.5 411.4,179.7 411.4,178.3 411.4,177.3 411.5,176.7 411.5,176.6 411.5,177.1 411.6,178 411.6,179.3 411.6,181 411.7,182.9 411.7,185 411.7,187.2 411.8,189.4 411.8,191.6 411.9,193.6 411.9,195.4 411.9,197 412,198.5 412,199.7 412,200.7 412.1,201.6 412.1,202.2 412.1,202.8 412.2,203.2 412.2,203.5 412.2,203.7 412.3,203.8 412.3,203.9 412.3,204 412.4,204 412.4,203.9 412.4,203.8 412.5,203.7 412.5,203.6 412.5,203.4 412.6,203.1 412.6,202.9 412.6,202.6 412.7,202.3 412.7,201.9 412.7,201.6 412.8,201.2 412.8,200.9 412.8,200.5 412.9,200.3 412.9,200.1 412.9,199.9 413,199.9 413,199.9 413,199.9 413.1,200.1 413.1,200.3 413.1,200.6 413.2,200.9 413.2,201.3 413.2,201.6 413.3,202 413.3,202.3 413.3,202.7 413.4,203 413.4,203.2 413.4,203.5 413.5,203.7 413.5,203.8 413.5,204 413.6,204.1 413.6,204.2 413.6,204.3 413.7,204.3 413.7,204.3 413.7,204.4 413.8,204.4 413.8,204.4 413.8,204.4 413.8,204.4 413.9,204.4 413.9,204.4 413.9,204.4 414,204.4 414,204.4 414,204.4 414.1,204.4 414.1,204.4 414.1,204.4 414.2,204.4 414.2,204.4 414.2,204.4 414.3,204.4 414.3,204.4 414.3,204.4 414.4,204.4 414.4,204.4 414.4,204.4 414.5,204.4 414.5,204.4 414.5,204.4 414.6,204.4 414.6,204.4 414.6,204.4 414.7,204.4 414.7,204.3 414.7,204.3 414.8,204.2 414.8,204.2 414.8,204.1 414.9,204 414.9,203.9 414.9,203.8 415,203.7 415,203.5 415,203.4 415.1,203.2 415.1,203.1 415.1,202.9 415.2,202.8 415.2,202.7 415.2,202.6 415.2,202.5 415.3,202.5 415.3,202.5 415.3,202.5 415.4,202.6 415.4,202.7 415.4,202.8 415.5,202.9 415.5,203.1 415.5,203.2 415.6,203.4 415.6,203.5 415.6,203.7 415.7,203.8 415.7,203.9 415.7,204 415.8,204.1 415.8,204.2 415.8,204.2 415.9,204.3 415.9,204.3 415.9,204.3 416,204.3 416,204.3 416,204.3 416,204.3 416.1,204.3 416.1,204.3 416.1,204.2 416.2,204.1 416.2,204.1 416.2,204 416.3,203.9 416.3,203.8 416.3,203.7 416.4,203.6 416.4,203.5 416.4,203.4 416.5,203.2 416.5,203.1 416.5,203.1 416.6,203 416.6,202.9 416.6,202.9 416.6,202.9 416.7,202.9 416.7,203 416.7,203 416.8,203.1 416.8,203.2 416.8,203.3 416.9,203.4 416.9,203.6 416.9,203.7 417,203.8 417,203.9 417,203.9 417.1,204 417.1,204.1 417.1,204.1 417.1,204.2 417.2,204.2 417.2,204.2 417.2,204.3 417.3,204.3 417.3,204.3 417.3,204.3 417.4,204.2 417.4,204.2 417.4,204.2 417.5,204.1 417.5,204 417.5,203.9 417.6,203.7 417.6,203.4 417.6,203.1 417.6,202.7 417.7,202.3 417.7,201.7 417.7,200.9 417.8,200.1 417.8,199.1 417.8,198 417.9,196.7 417.9,195.4 417.9,193.9 418,192.4 418,190.9 418,189.5 418,188.1 418.1,186.9 418.1,185.9 418.1,185.2 418.2,184.7 418.2,184.6 418.2,184.8 418.3,185.3 418.3,186.1 418.3,187.1 418.4,188.3 418.4,189.6 418.4,191.1 418.4,192.6 418.5,194.1 418.5,195.5 418.5,196.8 418.6,198 418.6,199.1 418.6,200.1 418.7,200.9 418.7,201.7 418.7,202.2 418.8,202.7 418.8,203.1 418.8,203.4 418.8,203.6 418.9,203.8 418.9,203.9 418.9,203.9 419,203.9 419,203.9 419,203.8 419.1,203.7 419.1,203.6 419.1,203.3 419.1,203.1 419.2,202.7 419.2,202.3 419.2,201.9 419.3,201.3 419.3,200.7 419.3,200.1 419.4,199.4 419.4,198.7 419.4,197.9 419.4,197.2 419.5,196.6 419.5,196 419.5,195.5 419.6,195.1 419.6,194.8 419.6,194.7 419.7,194.8 419.7,195 419.7,195.3 419.7,195.7 419.8,196.3 419.8,196.9 419.8,197.6 419.9,198.3 419.9,199 419.9,199.7 420,200.4 420,201 420,201.6 420,202.1 420.1,202.5 420.1,202.8 420.1,203.1 420.2,203.4 420.2,203.6 420.2,203.7 420.3,203.8 420.3,203.8 420.3,203.8 420.3,203.7 420.4,203.6 420.4,203.4 420.4,203.1 420.5,202.7 420.5,202.3 420.5,201.7 420.5,201 420.6,200.2 420.6,199.3 420.6,198.2 420.7,197 420.7,195.7 420.7,194.4 420.8,192.9 420.8,191.5 420.8,190 420.8,188.7 420.9,187.5 420.9,186.4 420.9,185.6 421,185 421,184.6 421,184.6 421,184.9 421.1,185.3 421.1,186.1 421.1,186.9 421.2,187.9 421.2,189 421.2,190.1 421.3,191.1 421.3,192.1 421.3,193 421.3,193.7 421.4,194.4 421.4,194.8 421.4,195.2 421.5,195.5 421.5,195.6 421.5,195.8 421.5,195.9 421.6,196 421.6,196.1 421.6,196.3 421.7,196.5 421.7,196.8 421.7,197.2 421.7,197.6 421.8,198.1 421.8,198.6 421.8,199.2 421.9,199.7 421.9,200.3 421.9,200.8 421.9,201.3 422,201.8 422,202.2 422,202.6 422.1,203 422.1,203.2 422.1,203.5 422.1,203.7 422.2,203.8 422.2,204 422.2,204.1 422.3,204.2 422.3,204.2 422.3,204.3 422.3,204.3 422.4,204.3 422.4,204.3 422.4,204.3 422.5,204.4 422.5,204.4 422.5,204.4 422.5,204.4 422.6,204.4 422.6,204.4 422.6,204.4 422.7,204.4 422.7,204.4 422.7,204.4 422.7,204.4 422.8,204.4 422.8,204.4 422.8,204.4 422.9,204.4 422.9,204.4 422.9,204.4 422.9,204.4 423,204.4 423,204.4 423,204.4 423.1,204.4 423.1,204.4 423.1,204.4 423.1,204.4 423.2,204.4 423.2,204.4 423.2,204.4 423.2,204.4 423.3,204.4 423.3,204.4 423.3,204.4 423.4,204.4 423.4,204.4 423.4,204.4 423.4,204.4 423.5,204.4 423.5,204.4 423.5,204.4 423.6,204.4 423.6,204.4 423.6,204.4 423.6,204.4 423.7,204.4 423.7,204.4 423.7,204.4 423.7,204.4 423.8,204.4 423.8,204.4 423.8,204.4 423.9,204.4 423.9,204.3 423.9,204.3 423.9,204.3 424,204.3 424,204.2 424,204.2 424.1,204.1 424.1,204 424.1,203.9 424.1,203.7 424.2,203.6 424.2,203.3 424.2,203.1 424.2,202.8 424.3,202.5 424.3,202.1 424.3,201.7 424.4,201.3 424.4,200.9 424.4,200.5 424.4,200.1 424.5,199.7 424.5,199.4 424.5,199.1 424.5,198.8 424.6,198.7 424.6,198.6 424.6,198.6 424.7,198.7 424.7,198.9 424.7,199.1 424.7,199.4 424.8,199.7 424.8,200.1 424.8,200.5 424.8,200.9 424.9,201.4 424.9,201.8 424.9,202.1 425,202.5 425,202.8 425,203.1 425,203.3 425.1,203.5 425.1,203.7 425.1,203.8 425.1,203.9 425.2,204 425.2,204.1 425.2,204.1 425.2,204.2 425.3,204.2 425.3,204.2 425.3,204.2 425.4,204.1 425.4,204 425.4,204 425.4,203.8 425.5,203.7 425.5,203.5 425.5,203.2 425.5,202.9 425.6,202.6 425.6,202.1 425.6,201.7 425.6,201.1 425.7,200.5 425.7,199.8 425.7,199 425.8,198.2 425.8,197.4 425.8,196.6 425.8,195.8 425.9,195.1 425.9,194.5 425.9,193.9 425.9,193.5 426,193.2 426,193.1 426,193.1 426,193.3 426.1,193.6 426.1,194.1 426.1,194.7 426.2,195.4 426.2,196.2 426.2,196.9 426.2,197.7 426.3,198.5 426.3,199.3 426.3,200 426.3,200.7 426.4,201.3 426.4,201.8 426.4,202.3 426.4,202.7 426.5,203 426.5,203.3 426.5,203.5 426.5,203.7 426.6,203.8 426.6,204 426.6,204 426.6,204.1 426.7,204.1 426.7,204.1 426.7,204.1 426.8,204.1 426.8,204 426.8,203.9 426.8,203.8 426.9,203.7 426.9,203.5 426.9,203.3 426.9,203 427,202.7 427,202.4 427,202 427,201.6 427.1,201.1 427.1,200.6 427.1,200.1 427.1,199.6 427.2,199.2 427.2,198.7 427.2,198.3 427.2,197.9 427.3,197.7 427.3,197.5 427.3,197.4 427.3,197.4 427.4,197.4 427.4,197.6 427.4,197.9 427.4,198.2 427.5,198.6 427.5,199.1 427.5,199.5 427.5,200 427.6,200.5 427.6,201 427.6,201.5 427.6,201.9 427.7,202.3 427.7,202.6 427.7,203 427.7,203.2 427.8,203.5 427.8,203.7 427.8,203.8 427.8,203.9 427.9,204 427.9,204.1 427.9,204.2 427.9,204.2 428,204.3 428,204.3 428,204.3 428,204.3 428.1,204.3 428.1,204.3 428.1,204.4 428.1,204.4 428.2,204.4 428.2,204.4 428.2,204.4 428.2,204.4 428.3,204.4 428.3,204.4 428.3,204.4 428.3,204.4 428.4,204.4 428.4,204.4 428.4,204.4 428.4,204.4 428.5,204.4 428.5,204.4 428.5,204.4 428.5,204.4 428.6,204.3 428.6,204.3 428.6,204.3 428.6,204.3 428.7,204.3 428.7,204.3 428.7,204.3 428.7,204.2 428.8,204.2 428.8,204.1 428.8,204 428.8,203.9 428.9,203.8 428.9,203.6 428.9,203.5 428.9,203.2 429,203 429,202.7 429,202.4 429,202 429.1,201.6 429.1,201.2 429.1,200.8 429.1,200.3 429.2,199.9 429.2,199.5 429.2,199.2 429.2,198.9 429.3,198.6 429.3,198.4 429.3,198.3 429.3,198.3 429.4,198.3 429.4,198.5 429.4,198.7 429.4,198.9 429.5,199.2 429.5,199.6 429.5,200 429.5,200.4 429.5,200.8 429.6,201.2 429.6,201.6 429.6,202 429.6,202.4 429.7,202.7 429.7,202.9 429.7,203.2 429.7,203.4 429.8,203.6 429.8,203.7 429.8,203.8 429.8,203.9 429.9,204 429.9,204.1 429.9,204.1 429.9,204.1 430,204.1 430,204.1 430,204.1 430,204.1 430.1,204 430.1,203.9 430.1,203.8 430.1,203.7 430.1,203.5 430.2,203.2 430.2,202.9 430.2,202.5 430.2,202 430.3,201.4 430.3,200.7 430.3,199.8 430.3,198.8 430.4,197.6 430.4,196.2 430.4,194.7 430.4,193.1 430.5,191.3 430.5,189.5 430.5,187.6 430.5,185.7 430.5,183.8 430.6,182.1 430.6,180.5 430.6,179.1 430.6,178 430.7,177.2 430.7,176.7 430.7,176.5 430.7,176.7 430.8,177.3 430.8,178.1 430.8,179.2 430.8,180.5 430.8,182 430.9,183.6 430.9,185.2 430.9,186.9 430.9,188.5 431,190 431,191.5 431,192.8 431,194 431.1,195.1 431.1,196.1 431.1,196.9 431.1,197.7 431.1,198.4 431.2,199 431.2,199.5 431.2,200 431.2,200.5 431.3,200.9 431.3,201.3 431.3,201.6 431.3,202 431.4,202.3 431.4,202.5 431.4,202.8 431.4,203 431.4,203.2 431.5,203.4 431.5,203.6 431.5,203.7 431.5,203.8 431.6,203.9 431.6,204 431.6,204.1 431.6,204.1 431.6,204.2 431.7,204.2 431.7,204.2 431.7,204.2 431.7,204.2 431.8,204.3 431.8,204.3 431.8,204.3 431.8,204.3 431.9,204.3 431.9,204.3 431.9,204.3 431.9,204.3 431.9,204.3 432,204.3 432,204.3 432,204.3 432,204.3 432.1,204.3 432.1,204.3 432.1,204.3 432.1,204.3 432.1,204.3 432.2,204.3 432.2,204.3 432.2,204.3 432.2,204.3 432.3,204.3 432.3,204.3 432.3,204.3 432.3,204.3 432.3,204.3 432.4,204.3 432.4,204.3 432.4,204.3 432.4,204.3 432.5,204.3 432.5,204.3 432.5,204.3 432.5,204.3 432.5,204.3" fill="none" stroke="#000" stroke-width="1.4" stroke-linejoin="round"/>
<polyline points="108.5,221.3 108.8,220.9 109.2,221.4 109.5,221.9 109.8,221.1 110.1,221.1 110.5,220.9 110.8,221.1 111.1,221.6 111.5,220.7 111.8,221.7 112.1,221.2 112.5,222.2 112.8,221.3 113.1,221.8 113.4,220.7 113.8,222.3 114.1,221.2 114.4,221.1 114.8,221.9 115.1,221.3 115.4,220.6 115.8,221.5 116.1,221.4 116.4,221.2 116.7,221 117.1,220.4 117.4,222 117.7,221 118.1,221.3 118.4,220.9 118.7,220.8 119.1,221.3 119.4,220.8 119.7,221.6 120,220.4 120.4,221.3 120.7,220.9 121,218.3 121.4,216.5 121.7,217.1 122,218.8 122.4,221.2 122.7,223.7 123,227.7 123.3,226.2 123.7,224.1 124,221.9 124.3,221.1 124.7,220.7 125,220.9 125.3,221.3 125.7,221.7 126,222 126.3,220.6 126.6,220.7 127,221.2 127.3,220.7 127.6,220.8 128,221.1 128.3,220.9 128.6,220.8 129,221.3 129.3,220.8 129.6,221.1 129.9,221.3 130.3,221.5 130.6,221.3 130.9,221.7 131.3,221.3 131.6,220.5 131.9,221.9 132.3,222.6 132.6,221.6 132.9,222 133.2,221.7 133.6,221 133.9,221.5 134.2,220.8 134.6,220.9 134.9,221.5 135.2,221.2 135.6,220.9 135.9,220.5 136.2,221.6 136.5,221.2 136.9,221.3 137.2,220.7 137.5,220.8 137.9,221.2 138.2,220.3 138.5,221.8 138.9,221.2 139.2,221.7 139.5,221.7 139.8,220.9 140.2,221.4 140.5,220.6 140.8,220.7 141.2,221.9 141.5,220.9 141.8,220.8 142.2,221.4 142.5,221.2 142.8,221.7 143.1,220.5 143.5,221.1 143.8,220.6 144.1,221.2 144.5,221 144.8,220.7 145.1,220.3 145.5,220.5 145.8,221.7 146.1,221 146.4,220.6 146.8,221.3 147.1,220.6 147.4,221.7 147.8,221.6 148.1,221.2 148.4,220.9 148.8,220.3 149.1,221.4 149.4,222.2 149.7,221.3 150.1,220.9 150.4,221.6 150.7,221 151.1,220.6 151.4,221.1 151.7,221.5 152.1,220.3 152.4,221.7 152.7,222 153,221.2 153.4,220.9 153.7,220.5 154,221.5 154.4,221 154.7,221.8 155,222 155.4,221.8 155.7,221.3 156,220.2 156.3,221.9 156.7,220.9 157,220.9 157.3,221.7 157.7,221.4 158,220.6 158.3,221 158.7,221 159,221.1 159.3,220.6 159.6,222 160,221.1 160.3,221.5 160.6,221.7 161,222.3 161.3,221.6 161.6,220.8 162,221 162.3,221.6 162.6,222 162.9,220.4 163.3,222.2 163.6,220.9 163.9,221.1 164.3,221 164.6,221.5 164.9,221.1 165.3,221.2 165.6,220.7 165.9,222 166.2,221.4 166.6,221.2 166.9,222.3 167.2,221.5 167.6,221.9 167.9,221 168.2,221.3 168.6,221.1 168.9,221.6 169.2,221.3 169.5,220.3 169.9,221.5 170.2,221.1 170.5,221.3 170.9,221.7 171.2,221 171.5,221.5 171.9,221.2 172.2,221.1 172.5,220.9 172.8,221.1 173.2,221 173.5,221.6 173.8,220 174.2,221.5 174.5,221.1 174.8,220.4 175.2,220.8 175.5,220.3 175.8,222.3 176.1,226 176.5,226.7 176.8,223.9 177.1,221.6 177.5,221.4 177.8,220.6 178.1,222.3 178.5,221.1 178.8,220.2 179.1,220 179.4,220.9 179.8,219.9 180.1,221.5 180.4,220 180.8,221.7 181.1,220.9 181.4,221.8 181.8,220.6 182.1,220.9 182.4,221.8 182.7,220.3 183.1,221.6 183.4,222 183.7,220.7 184.1,221.1 184.4,222.1 184.7,222 185.1,222.1 185.4,221.1 185.7,221 186,221.1 186.4,221 186.7,221.6 187,221.7 187.4,221.5 187.7,220.8 188,221.6 188.4,221.5 188.7,221.3 189,221.9 189.3,221 189.7,221.3 190,221.8 190.3,220.8 190.7,221.7 191,221.6 191.3,222 191.7,221.9 192,221.1 192.3,223.2 192.6,223.7 193,224.5 193.3,224.1 193.6,222.3 194,221 194.3,221.8 194.6,221.5 195,221.5 195.3,220.4 195.6,222.2 195.9,221.5 196.3,221.8 196.6,221.4 196.9,221.4 197.3,221.6 197.6,221.3 197.9,222 198.3,220.9 198.6,220.1 198.9,221 199.2,221.2 199.6,221.4 199.9,221.3 200.2,221.4 200.6,221.3 200.9,220.2 201.2,218.5 201.6,216.1 201.9,215.6 202.2,217.5 202.5,220.6 202.9,221.4 203.2,221.8 203.5,221.8 203.9,221.4 204.2,221.9 204.5,220.9 204.9,220.9 205.2,222 205.5,220.5 205.8,221.2 206.2,220.6 206.5,220.5 206.8,222.4 207.2,220.2 207.5,222.2 207.8,221 208.2,220.8 208.5,220.3 208.8,221.3 209.1,221.6 209.5,221.5 209.8,220.7 210.1,222.1 210.5,221.3 210.8,221.5 211.1,221.5 211.5,221.5 211.8,221 212.1,221.4 212.4,220.8 212.8,221.4 213.1,220.7 213.4,220.4 213.8,220.9 214.1,221.1 214.4,220.8 214.8,221 215.1,220.9 215.4,221.2 215.7,222.2 216.1,221.5 216.4,221.7 216.7,221.8 217.1,221.7 217.4,221.4 217.7,221.7 218.1,221.8 218.4,221.1 218.7,221.1 219,221.2 219.4,221.2 219.7,221.5 220,221 220.4,221 220.7,221.3 221,221.5 221.4,221.1 221.7,220.4 222,221.1 222.3,221.7 222.7,221.1 223,221.9 223.3,220.9 223.7,221.1 224,221.7 224.3,221.9 224.7,221 225,222.1 225.3,221.3 225.6,221.4 226,222.3 226.3,221.7 226.6,221.1 227,221.2 227.3,220.7 227.6,221.9 228,221.4 228.3,222.3 228.6,221.9 228.9,221.2 229.3,220.9 229.6,221 229.9,221.9 230.3,221.1 230.6,221.9 230.9,221.9 231.3,222.1 231.6,221.4 231.9,221.6 232.2,220.5 232.6,221.4 232.9,221.2 233.2,221.8 233.6,220.2 233.9,221 234.2,222.6 234.6,221.3 234.9,220.9 235.2,221.3 235.5,221.1 235.9,221 236.2,221.6 236.5,221.4 236.9,221.9 237.2,222.7 237.5,221.6 237.9,221.4 238.2,222.1 238.5,220.4 238.8,222.3 239.2,220.5 239.5,220.9 239.8,221.3 240.2,220.4 240.5,220.8 240.8,221.3 241.2,221.5 241.5,220.4 241.8,219.4 242.1,221.6 242.5,220.2 242.8,221.4 243.1,221.5 243.5,221.7 243.8,220.9 244.1,220.9 244.5,223 244.8,221.2 245.1,220.6 245.4,220.4 245.8,221.1 246.1,222.2 246.4,221.6 246.8,220.7 247.1,220.4 247.4,220.8 247.8,221.2 248.1,221.4 248.4,221.5 248.7,221.9 249.1,220.4 249.4,220.3 249.7,221.2 250.1,221.6 250.4,220.9 250.7,221.4 251.1,221.1 251.4,221.8 251.7,220.4 252,218.7 252.4,217.8 252.7,218.8 253,220.9 253.4,224 253.7,223.8 254,222.1 254.4,223.1 254.7,220.9 255,221 255.3,221 255.7,220.7 256,221.1 256.3,221.2 256.7,221.4 257,220.9 257.3,220.4 257.7,221.1 258,221.6 258.3,222 258.6,221.2 259,221 259.3,220.8 259.6,222.1 260,220.8 260.3,220.9 260.6,221.2 261,221.1 261.3,221.3 261.6,221.5 261.9,222.4 262.3,222.1 262.6,223.1 262.9,222.8 263.3,224.6 263.6,222.4 263.9,222 264.3,221 264.6,221.2 264.9,221 265.2,221.1 265.6,221 265.9,221.7 266.2,221.9 266.6,221.2 266.9,221 267.2,221.7 267.6,221.1 267.9,221.6 268.2,220.8 268.5,222.1 268.9,220.9 269.2,221.6 269.5,222.3 269.9,221.5 270.2,221.1 270.5,221.7 270.9,222.2 271.2,219.8 271.5,221 271.8,221.1 272.2,221.8 272.5,220.3 272.8,221.7 273.2,221.3 273.5,221.6 273.8,220.6 274.2,222 274.5,222.8 274.8,221.3 275.1,221.6 275.5,220.6 275.8,219.4 276.1,221.2 276.5,221.1 276.8,221.6 277.1,221.3 277.5,220.4 277.8,219.8 278.1,221.9 278.4,221.8 278.8,221.1 279.1,221.1 279.4,221.7 279.8,220.9 280.1,220.4 280.4,222 280.8,220.3 281.1,221 281.4,222 281.7,221.5 282.1,221.9 282.4,222.2 282.7,221.3 283.1,220.3 283.4,220.1 283.7,219.8 284.1,221.7 284.4,220.3 284.7,221.1 285,221.3 285.4,221.4 285.7,221.2 286,222 286.4,221.4 286.7,221.8 287,220.3 287.4,217.8 287.7,214.3 288,213.8 288.3,217.2 288.7,219.4 289,221.4 289.3,223 289.7,219.5 290,221.6 290.3,221.1 290.7,221.1 291,220.8 291.3,220.5 291.6,221.4 292,220.7 292.3,222.3 292.6,221.4 293,222.4 293.3,221.3 293.6,220.3 294,221.5 294.3,221.4 294.6,221.8 294.9,219.6 295.3,221.3 295.6,222.4 295.9,222.1 296.3,221.6 296.6,223.4 296.9,222.7 297.3,222.5 297.6,221.7 297.9,220.6 298.2,222 298.6,221.7 298.9,222 299.2,221.1 299.6,221.9 299.9,219.8 300.2,220.3 300.6,221.6 300.9,222.3 301.2,221.6 301.5,221.3 301.9,221.1 302.2,220.9 302.5,222 302.9,220 303.2,221.4 303.5,222.2 303.9,220.1 304.2,219.7 304.5,220.6 304.8,221.2 305.2,221.6 305.5,220.8 305.8,221.7 306.2,220.9 306.5,220.1 306.8,221.9 307.2,221.2 307.5,220.8 307.8,220.1 308.1,219.5 308.5,220.5 308.8,221.7 309.1,220.6 309.5,220.3 309.8,220.7 310.1,221.6 310.5,221.6 310.8,222 311.1,220.6 311.4,222.2 311.8,222.3 312.1,221.5 312.4,221.9 312.8,222.3 313.1,221.5 313.4,220.6 313.8,221.6 314.1,221.5 314.4,221.7 314.7,223 315.1,221.3 315.4,221.1 315.7,222.1 316.1,221.2 316.4,220.4 316.7,221.4 317.1,221.7 317.4,219.3 317.7,220.4 318,220.1 318.4,218.8 318.7,220.8 319,221.4 319.4,221.6 319.7,221.4 320,221.7 320.4,220.7 320.7,221.1 321,221.2 321.3,221.5 321.7,222.6 322,221.8 322.3,220.5 322.7,221.5 323,222.5 323.3,222.6 323.7,222.4 324,221.3 324.3,221.7 324.6,221.4 325,220.4 325.3,221.3 325.6,220.9 326,220.3 326.3,221.1 326.6,221 327,221.1 327.3,221.7 327.6,220.5 327.9,221.3 328.3,221.5 328.6,221.4 328.9,221.4 329.3,221.3 329.6,220.1 329.9,219.8 330.3,220.8 330.6,220.9 330.9,220.6 331.2,220.7 331.6,220.9 331.9,222.4 332.2,221.2 332.6,221.8 332.9,221.7 333.2,221.3 333.6,221.9 333.9,220.8 334.2,221.1 334.5,220.4 334.9,221.1 335.2,221.8 335.5,220.6 335.9,221.2 336.2,221 336.5,221.2 336.9,220.9 337.2,221.4 337.5,220.3 337.8,221.3 338.2,222.4 338.5,220.4 338.8,221.8 339.2,220.7 339.5,220.8 339.8,222.5 340.2,221.7 340.5,221.7 340.8,222.4 341.1,221.7 341.5,221.2 341.8,219.6 342.1,221.7 342.5,222.4 342.8,220.9 343.1,220.4 343.5,220 343.8,221.6 344.1,219.5 344.4,221.5 344.8,221.8 345.1,220.9 345.4,220.5 345.8,221 346.1,222.3 346.4,220.4 346.8,220.6 347.1,221.6 347.4,220.8 347.7,222.2 348.1,220.7 348.4,220.3 348.7,220.1 349.1,221.1 349.4,222 349.7,221.2 350.1,220.8 350.4,220.1 350.7,221.4 351,220.7 351.4,222.9 351.7,220.4 352,220.2 352.4,220.3 352.7,221.4 353,221.6 353.4,221.4 353.7,222.1 354,221.7 354.3,220.8 354.7,222.4 355,220.7 355.3,221.4 355.7,221.3 356,222.1 356.3,221.7 356.7,223.2 357,222.7 357.3,223.8 357.6,222.6 358,222.7 358.3,220 358.6,220.3 359,221.8 359.3,222.9 359.6,221.3 360,219.7 360.3,219.9 360.6,220.9 360.9,220.6 361.3,221.6 361.6,222 361.9,221.8 362.3,220.5 362.6,220.7 362.9,221.1 363.3,221.5 363.6,221.6 363.9,220.9 364.2,222 364.6,221.7 364.9,221 365.2,221.4 365.6,222.4 365.9,221.7 366.2,221 366.6,221 366.9,221.9 367.2,221.5 367.5,221.3 367.9,220.7 368.2,221 368.5,221.3 368.9,222.5 369.2,220.3 369.5,221.3 369.9,220.5 370.2,220.2 370.5,222.9 370.8,220.3 371.2,222.1 371.5,222 371.8,221.6 372.2,221.3 372.5,221.2 372.8,221.6 373.2,221.5 373.5,221.6 373.8,221.7 374.1,220 374.5,220.3 374.8,221.2 375.1,221.2 375.5,220.2 375.8,221.9 376.1,221.6 376.5,221.4 376.8,222 377.1,221.7 377.4,221.1 377.8,220.8 378.1,222.1 378.4,220.9 378.8,220.7 379.1,220.5 379.4,221.7 379.8,221.4 380.1,221.1 380.4,221.9 380.7,220.6 381.1,221.8 381.4,220.8 381.7,221.1 382.1,221.1 382.4,221.4 382.7,222.3 383.1,220.7 383.4,222.1 383.7,222.3 384,221.1 384.4,220.6 384.7,220.2 385,221.2 385.4,223.8 385.7,221.1 386,221.3 386.4,220.4 386.7,221.6 387,221.5 387.3,222.1 387.7,223.1 388,222.1 388.3,220.5 388.7,221.1 389,220 389.3,220.8 389.7,219.9 390,221.8 390.3,217.3 390.6,217.6 391,216.4 391.3,216.7 391.6,220.9 392,222.2 392.3,222.8 392.6,221 393,221.9 393.3,221.4 393.6,222.5 393.9,221.2 394.3,222.2 394.6,220.3 394.9,220.6 395.3,220.2 395.6,221.1 395.9,220.1 396.3,221.4 396.6,220.7 396.9,219.9 397.2,221.4 397.6,222.3 397.9,221.7 398.2,221.5 398.6,221 398.9,221.1 399.2,219.8 399.6,223 399.9,219.7 400.2,220.4 400.5,220.3 400.9,220.2 401.2,221.4 401.5,220.5 401.9,220.7 402.2,221.7 402.5,220.8 402.9,222.3 403.2,225.2 403.5,224 403.8,221.1 404.2,222.2 404.5,219.9 404.8,221.2 405.2,221.2 405.5,221.5 405.8,221.5 406.2,220.8 406.5,221.2 406.8,219.7 407.1,221.5 407.5,219.5 407.8,221.9 408.1,220.5 408.5,222 408.8,221.2 409.1,221.7 409.5,220.8 409.8,221 410.1,221.7 410.4,221.8 410.8,220.8 411.1,218.7 411.4,221.3 411.8,221.9 412.1,222.4 412.4,221 412.8,222.2 413.1,217.9 413.4,220.8 413.7,220.6 414.1,223.1 414.4,221 414.7,223.6 415.1,221.2 415.4,220.8 415.7,220.7 416.1,220.4 416.4,221.3 416.7,221.3 417,220.3 417.4,222.9 417.7,222.2 418,220.9 418.4,221.7 418.7,221 419,220.7 419.4,220.4 419.7,220.6 420,222.9 420.3,222.8 420.7,221.1 421,220.9 421.3,222.3 421.7,220.4 422,221.9 422.3,219.8 422.7,221.6 423,221.9 423.3,222 423.6,222.7 424,222.4 424.3,220.8 424.6,219.9 425,219 425.3,220.2 425.6,221.1 426,220.7 426.3,223.9 426.6,221.6 426.9,221.6 427.3,221.3 427.6,221 427.9,221.6 428.3,222.3 428.6,221.3 428.9,222.1 429.3,222.6 429.6,221.4 429.9,221.9 430.2,221.6 430.6,222.4 430.9,222.7 431.2,221.6 431.6,223.2 431.9,223.3 432.2,221.6" fill="none" stroke="#0000ff" stroke-width="1.4" stroke-linejoin="round"/>
<path d="M459.3 205.5h0M459.5 206h0M459.7 206.3h0M459.8 206.2h0M460 205.9h0M460.1 206h0M460.3 205.9h0M460.5 206.1h0M460.6 206.5h0M460.8 206.1h0M460.9 206h0M461.1 206.2h0M461.2 205.8h0M461.4 206h0M461.6 206.4h0M461.7 206.1h0M461.9 206.5h0M462 206.3h0M462.2 206.1h0M462.4 205.9h0M462.5 206h0M462.7 205.9h0M462.8 205.8h0M463 206.5h0M463.2 206.2h0M463.3 206.1h0M463.5 206h0M463.6 206h0M463.8 205.9h0M464 205.9h0M464.1 206.6h0M464.3 206.6h0M464.4 205.7h0M464.6 205.8h0M464.8 205.5h0M464.9 206.3h0M465.1 205.8h0M465.2 206.8h0M465.4 206h0M465.6 205.8h0M465.7 206h0M465.9 206.2h0M466 205.4h0M466.2 206h0M466.4 206.2h0M466.5 206.5h0M466.7 206h0M466.8 205.8h0M467 206.3h0M467.2 205.8h0M467.3 206.1h0M467.5 206.2h0M467.6 206.1h0M467.8 206.1h0M468 206h0M468.1 206.5h0M468.3 205.7h0M468.4 206.2h0M468.6 205.9h0M468.8 205.9h0M468.9 206.3h0M469.1 206h0M469.2 206.3h0M469.4 206h0M469.6 206.4h0M469.7 205.6h0M469.9 205.9h0M470 205.9h0M470.2 206.1h0M470.4 206.1h0M470.5 206.1h0M470.7 206.3h0M470.8 206.2h0M471 205.5h0M471.2 205.8h0M471.3 205.9h0M471.5 206.2h0M471.6 206.1h0M471.8 206.2h0M471.9 206.1h0M472.1 206.4h0M472.3 206.3h0M472.4 205.9h0M472.6 205.8h0M472.7 206h0M472.9 206.1h0M473.1 206h0M473.2 206.2h0M473.4 205.7h0M473.5 205.7h0M473.7 205.5h0M473.9 205.3h0M474 205.9h0M474.2 205.5h0M474.3 205.4h0M474.5 206.1h0M474.7 205.8h0M474.8 205.3h0M475 205.2h0M475.1 205.3h0M475.3 204.9h0M475.5 204.7h0M475.6 205h0M475.8 204.4h0M475.9 202.8h0M476.1 201.8h0M476.3 199.6h0M476.4 197.1h0M476.6 194.1h0M476.7 190.4h0M476.9 185.2h0M477.1 179.8h0M477.2 174.7h0M477.4 167.4h0M477.5 161.3h0M477.7 156.1h0M477.8 153.2h0M478 149h0M478.2 149.2h0M478.3 148.9h0M478.5 150.9h0M478.6 154.3h0M478.8 160.1h0M479 165.4h0M479.1 171.1h0M479.3 177.5h0M479.4 183.1h0M479.6 187.7h0M479.8 192.7h0M479.9 196.6h0M480.1 198.3h0M480.2 200.9h0M480.4 202.3h0M480.6 203.6h0M480.7 204h0M480.9 204.4h0M481 205.3h0M481.2 205.4h0M481.4 205.6h0M481.5 206h0M481.7 205.9h0M481.8 205.4h0M482 205.5h0M482.1 206h0M482.3 205.8h0M482.5 206h0M482.6 206.3h0M482.8 205.9h0M482.9 206.3h0M483.1 205.8h0M483.3 205.8h0M483.4 205.8h0M483.6 205.8h0M483.7 206.2h0M483.9 206h0M484.1 205.2h0M484.2 205.5h0M484.4 205.8h0M484.5 205.8h0M484.7 205.5h0M484.9 206.2h0M485 206.8h0M485.2 206.3h0M485.3 205.8h0M485.5 206h0M485.6 205.9h0M485.8 206h0M486 206.1h0M486.1 206h0M486.3 205.8h0M486.4 206.4h0M486.6 205.9h0M486.8 205.6h0M486.9 206.2h0M487.1 206.7h0M487.2 206.5h0M487.4 205.8h0M487.6 206.2h0M487.7 205.9h0M487.9 205.8h0M488 205.9h0M488.2 206.7h0M488.3 206.3h0M488.5 206.6h0M488.7 206.4h0M488.8 206.6h0M489 205.8h0M489.1 206.1h0M489.3 205.8h0M489.5 205.3h0M489.6 205.8h0M489.8 206.1h0M489.9 206.9h0M490.1 206h0M490.3 206h0M490.4 205.8h0M490.6 205.8h0M490.7 206h0M490.9 206.8h0M491 205.9h0M491.2 205.8h0M491.4 206.4h0M491.5 206.1h0M491.7 205.8h0M491.8 206h0M492 206h0M492.2 205.7h0M492.3 206.6h0M492.5 206.4h0M492.6 206.4h0M492.8 205.7h0M492.9 206h0M493.1 205.7h0M493.3 206.1h0M493.4 206.1h0M493.6 206.6h0M493.7 205.6h0M493.9 205.9h0M494.1 206.1h0M494.2 206.8h0M494.4 206.3h0M494.5 206.6h0M494.7 206.5h0M494.9 206.3h0M495 206.1h0M495.2 205.7h0M495.3 206.1h0M495.5 206.3h0M495.6 205.5h0M495.8 206.3h0M496 206h0M496.1 206.2h0M496.3 205.7h0M496.4 205.8h0M496.6 205.6h0M496.8 206.1h0M496.9 205.2h0M497.1 206.4h0M497.2 205.8h0M497.4 206.1h0M497.5 206.1h0M497.7 206.4h0M497.9 206h0M498 206.2h0M498.2 206h0M498.3 205.9h0M498.5 205.8h0M498.7 205.8h0M498.8 205.6h0M499 206.2h0M499.1 206h0M499.3 206.1h0M499.4 205.7h0M499.6 205.6h0M499.8 206.1h0M499.9 205.9h0M500.1 206h0M500.2 205.7h0M500.4 205.9h0M500.5 206.3h0M500.7 205.1h0M500.9 205.7h0M501 204.9h0M501.2 205.1h0M501.3 204.6h0M501.5 204h0M501.7 205.2h0M501.8 204.6h0M502 204.9h0M502.1 205.1h0M502.3 204.9h0M502.4 205h0M502.6 204.9h0M502.8 204.8h0M502.9 205.3h0M503.1 205.7h0M503.2 206h0M503.4 205.8h0M503.5 205.8h0M503.7 205.9h0M503.9 206.2h0M504 206h0M504.2 206.4h0M504.3 205.6h0M504.5 206.2h0M504.7 206.1h0M504.8 205.8h0M505 205.9h0M505.1 205.8h0M505.3 205.7h0M505.4 205.9h0M505.6 205.7h0M505.8 206.4h0M505.9 205.9h0M506.1 205.5h0M506.2 205.5h0M506.4 206.4h0M506.5 205.6h0M506.7 206.1h0M506.9 205.3h0M507 205.5h0M507.2 206.2h0M507.3 205.5h0M507.5 206h0M507.6 205.7h0M507.8 205.9h0M508 205.4h0M508.1 206h0M508.3 205.8h0M508.4 205.7h0M508.6 205.5h0M508.8 206.1h0M508.9 205.3h0M509.1 205h0M509.2 204.9h0M509.4 204.3h0M509.5 203.6h0M509.7 202.2h0M509.9 199.7h0M510 197.7h0M510.2 194.6h0M510.3 191h0M510.5 187.4h0M510.6 182.7h0M510.8 179h0M511 176.3h0M511.1 174.2h0M511.3 173.3h0M511.4 174.2h0M511.6 176.7h0M511.7 180h0M511.9 182.5h0M512.1 186.3h0M512.2 188.7h0M512.4 190.4h0M512.5 191.8h0M512.7 192.7h0M512.8 193.3h0M513 193.6h0M513.2 192h0M513.3 191.6h0M513.5 189.5h0M513.6 187.7h0M513.8 184.5h0M513.9 182h0M514.1 178.6h0M514.3 176.3h0M514.4 174.7h0M514.6 175.8h0M514.7 176.7h0M514.9 179.4h0M515 183.4h0M515.2 187.6h0M515.4 191.3h0M515.5 194.7h0M515.7 198h0M515.8 200.5h0M516 202.1h0M516.1 203.6h0M516.3 204.8h0M516.5 205.1h0M516.6 205.6h0M516.8 205.4h0M516.9 206.5h0M517.1 205.6h0M517.2 205.3h0M517.4 205.2h0M517.5 205.5h0M517.7 205.8h0M517.9 207h0M518 205.8h0M518.2 205.4h0M518.3 205.7h0M518.5 206.2h0M518.6 205.8h0M518.8 205.6h0M519 205.9h0M519.1 205.4h0M519.3 205.6h0M519.4 205.3h0M519.6 205.9h0M519.7 204.7h0M519.9 205.8h0M520.1 205.8h0M520.2 205.9h0M520.4 205.3h0M520.5 206.1h0M520.7 205.8h0M520.8 205.9h0M521 205.7h0M521.2 206.4h0M521.3 205.5h0M521.5 206.4h0M521.6 205.5h0M521.8 205.4h0M521.9 206.2h0M522.1 205.8h0M522.2 205.8h0M522.4 206.2h0M522.6 206.6h0M522.7 205.8h0M522.9 206h0M523 206h0M523.2 205.4h0M523.3 205.5h0M523.5 205.9h0M523.7 205.3h0M523.8 205.5h0M524 204.7h0M524.1 204h0M524.3 203h0M524.4 200.7h0M524.6 199.4h0M524.7 197.1h0M524.9 194.8h0M525.1 191.9h0M525.2 190.2h0M525.4 189.2h0M525.5 189h0M525.7 189.2h0M525.8 190.8h0M526 193.5h0M526.1 195.1h0M526.3 198.2h0M526.5 199.9h0M526.6 200.9h0M526.8 202.6h0M526.9 203.6h0M527.1 204.5h0M527.2 204.9h0M527.4 204.8h0M527.5 206h0M527.7 205.9h0M527.9 205.3h0M528 205.4h0M528.2 205.5h0M528.3 205.6h0M528.5 205.9h0M528.6 205.1h0M528.8 205.6h0M529 205.8h0M529.1 204.6h0M529.3 205.2h0M529.4 205.7h0M529.6 205.4h0M529.7 205.3h0M529.9 205.4h0M530 205h0M530.2 205.1h0M530.4 204.7h0M530.5 204.7h0M530.7 204.3h0M530.8 204h0M531 203.5h0M531.1 201.6h0M531.3 198.6h0M531.4 194.2h0M531.6 186.8h0M531.7 176.1h0M531.9 161.3h0M532.1 142.9h0M532.2 119.3h0M532.4 95.7h0M532.5 69.9h0M532.7 52.9h0M532.8 39.3h0M533 38.9h0M533.1 49.1h0M533.3 60.3h0M533.5 83.4h0M533.6 110.1h0M533.8 132.3h0M533.9 153.5h0M534.1 170.1h0M534.2 182.2h0M534.4 191.3h0M534.5 196.1h0M534.7 200.7h0M534.9 202h0M535 203.5h0M535.2 204.9h0M535.3 204.8h0M535.5 204.5h0M535.6 205.6h0M535.8 205.2h0M535.9 205.1h0M536.1 205.1h0M536.2 204.6h0M536.4 205h0M536.6 205.7h0M536.7 205.5h0M536.9 206.1h0M537 205.6h0M537.2 205.4h0M537.3 205.6h0M537.5 205.4h0M537.6 206h0M537.8 205.9h0M537.9 205.3h0M538.1 205.3h0M538.3 206.3h0M538.4 204.9h0M538.6 205.2h0M538.7 205h0M538.9 205.8h0M539 205.7h0M539.2 206.1h0M539.3 205.5h0M539.5 205.2h0M539.6 205.5h0M539.8 206.2h0M540 206.2h0M540.1 205.8h0M540.3 205.5h0M540.4 205.3h0M540.6 205.4h0M540.7 205.4h0M540.9 206h0M541 205.4h0M541.2 206.1h0M541.3 205.8h0M541.5 205.6h0M541.7 206.1h0M541.8 205.6h0M542 205.3h0M542.1 205.2h0M542.3 205.3h0M542.4 205.6h0M542.6 204.4h0M542.7 204.5h0M542.9 204h0M543 202.9h0M543.2 201.8h0M543.3 200.7h0M543.5 197.8h0M543.7 196.2h0M543.8 194.4h0M544 194.3h0M544.1 193.7h0M544.3 194.3h0M544.4 195.9h0M544.6 197.1h0M544.7 198.7h0M544.9 200.8h0M545 201.8h0M545.2 203.2h0M545.3 204.2h0M545.5 205.1h0M545.7 204.7h0M545.8 205.3h0M546 205.5h0M546.1 205.4h0M546.3 205.6h0M546.4 205.4h0M546.6 205.6h0M546.7 206.1h0M546.9 205.1h0M547 205.4h0M547.2 205.7h0M547.3 205.3h0M547.5 205.2h0M547.7 204.3h0M547.8 204.6h0M548 205h0M548.1 204.8h0M548.3 204.4h0M548.4 203.3h0M548.6 202.1h0M548.7 199.8h0M548.9 195.5h0M549 190.7h0M549.2 182.4h0M549.3 171.9h0M549.5 161.2h0M549.6 148.3h0M549.8 138h0M550 126.8h0M550.1 125.1h0M550.3 124.3h0M550.4 131.3h0M550.6 141.7h0M550.7 152.9h0M550.9 165.4h0M551 176h0M551.2 186.1h0M551.3 192.5h0M551.5 197.5h0M551.6 200.9h0M551.8 202h0M551.9 204.5h0M552.1 204.7h0M552.2 203.6h0M552.4 205.8h0M552.6 205.3h0M552.7 205h0M552.9 204.5h0M553 205.4h0M553.2 204.8h0M553.3 205.5h0M553.5 205h0M553.6 204.8h0M553.8 205.1h0M553.9 205h0M554.1 204.4h0M554.2 203.8h0M554.4 203.3h0M554.5 201.5h0M554.7 200.8h0M554.8 198.4h0M555 195.5h0M555.1 193.7h0M555.3 190.9h0M555.4 188.4h0M555.6 188.5h0M555.8 189h0M555.9 190.5h0M556.1 193.6h0M556.2 195.9h0M556.4 198.3h0M556.5 199.4h0M556.7 201.9h0M556.8 203.1h0M557 203.2h0M557.1 204h0M557.3 205.1h0M557.4 204.2h0M557.6 204.6h0M557.7 203.7h0M557.9 203.2h0M558 201.9h0M558.2 199.1h0M558.3 194.6h0M558.5 186.8h0M558.6 175.9h0M558.8 160.8h0M558.9 142.6h0M559.1 122.7h0M559.3 102.7h0M559.4 87.4h0M559.6 81.8h0M559.7 80.9h0M559.9 85.5h0M560 98.3h0M560.2 117.4h0M560.3 137.3h0M560.5 156.9h0M560.6 172.8h0M560.8 183h0M560.9 191.8h0M561.1 197.4h0M561.2 200.5h0M561.4 203.3h0M561.5 204.4h0M561.7 204.3h0M561.8 204.8h0M562 205h0M562.1 205.1h0M562.3 204.8h0M562.4 204.9h0M562.6 204.9h0M562.7 205.4h0M562.9 206h0M563 204.7h0M563.2 204.7h0M563.3 202.9h0M563.5 202.7h0M563.6 200.1h0M563.8 196.2h0M563.9 191.4h0M564.1 184.7h0M564.2 176.8h0M564.4 166.8h0M564.6 157.9h0M564.7 154.7h0M564.9 149.5h0M565 151h0M565.2 155.3h0M565.3 162.5h0M565.5 170.1h0M565.6 178.7h0M565.8 187h0M565.9 193.8h0M566.1 198.5h0M566.2 201.1h0M566.4 203.2h0M566.5 203.8h0M566.7 203.7h0M566.8 204.6h0M567 205.1h0M567.1 205.4h0M567.3 205.6h0M567.4 205.5h0M567.6 205.5h0M567.7 205.7h0M567.9 205.3h0M568 205.4h0M568.2 205.6h0M568.3 205.5h0M568.5 205.4h0M568.6 205.9h0M568.8 206h0M568.9 206h0M569.1 205.4h0M569.2 205.6h0M569.4 205.1h0M569.5 205.3h0M569.7 205.3h0M569.8 205.7h0M570 205.9h0M570.1 204.3h0M570.3 206.4h0M570.4 205.8h0M570.6 205.5h0M570.7 205.1h0M570.9 206.2h0M571 206.2h0M571.2 205.5h0M571.3 205.7h0M571.5 206.3h0M571.6 205.4h0M571.8 205.5h0M571.9 205.9h0M572.1 205.6h0M572.2 204.6h0M572.4 204.1h0M572.5 203.8h0M572.7 202.6h0M572.8 201.2h0M573 200.3h0M573.1 198.8h0M573.3 198.3h0M573.4 197.8h0M573.6 198.6h0M573.7 199.1h0M573.9 200.2h0M574 201.5h0M574.2 202.7h0M574.3 204.1h0M574.5 205.1h0M574.6 204.7h0M574.8 204.8h0M574.9 205.2h0M575.1 205.9h0M575.2 205.2h0M575.4 205.2h0M575.5 205.2h0M575.7 204.9h0M575.8 205.1h0M576 205.1h0M576.1 206h0M576.3 205.3h0M576.4 205.1h0M576.6 205.5h0M576.7 205.3h0M576.9 206h0M577 205.6h0M577.2 205h0M577.3 205.6h0M577.5 205.6h0M577.6 206h0M577.8 205.7h0M577.9 206h0M578 205.8h0M578.2 205h0M578.3 205.7h0M578.5 204.4h0M578.6 203.7h0M578.8 202.4h0M578.9 200.2h0M579.1 197.5h0M579.2 191.6h0M579.4 186.5h0M579.5 180.6h0M579.7 175.9h0M579.8 174.1h0M580 175.1h0M580.1 177.1h0M580.3 181.8h0M580.4 187.1h0M580.6 192.7h0M580.7 196.6h0M580.9 200.7h0M581 202.2h0M581.2 204.1h0M581.3 205.3h0M581.5 204.9h0M581.6 205.3h0M581.8 205.3h0M581.9 204.9h0M582.1 205.9h0M582.2 205.9h0M582.4 205.3h0M582.5 205.6h0M582.6 205.7h0M582.8 206.5h0M582.9 205.9h0M583.1 205.6h0M583.2 205.9h0M583.4 206h0M583.5 205.9h0M583.7 204.9h0M583.8 205.9h0M584 205.2h0M584.1 205.3h0M584.3 206h0M584.4 205.8h0M584.6 205.4h0M584.7 205.5h0M584.9 205.5h0M585 205h0M585.2 205.2h0M585.3 205.7h0M585.5 204.6h0M585.6 206.1h0M585.8 205.8h0M585.9 206.1h0M586 206.3h0M586.2 205.3h0M586.3 206.8h0M586.5 205.5h0M586.6 205.7h0M586.8 205.6h0M586.9 205.2h0M587.1 205.4h0M587.2 205.6h0M587.4 206h0M587.5 205.4h0M587.7 204.9h0M587.8 205.4h0M588 204.9h0M588.1 205.7h0M588.3 204.6h0M588.4 204.5h0M588.5 205.6h0M588.7 204.3h0M588.8 204h0M589 203.5h0M589.1 201.1h0M589.3 198.8h0M589.4 194h0M589.6 187.8h0M589.7 178.8h0M589.9 170.9h0M590 164.1h0M590.2 161.5h0M590.3 162.9h0M590.5 168.3h0M590.6 175.1h0M590.8 182.4h0M590.9 190.1h0M591 196.7h0M591.2 200.6h0M591.3 202.6h0M591.5 204.1h0M591.6 205.5h0M591.8 204.2h0M591.9 205.5h0M592.1 205.1h0M592.2 204.6h0M592.4 205.5h0M592.5 204.8h0M592.7 205.5h0M592.8 205.6h0M592.9 205.7h0M593.1 205.8h0M593.2 206.1h0M593.4 205.4h0M593.5 205.5h0M593.7 205.9h0M593.8 205.1h0M594 205.1h0M594.1 204.9h0M594.3 204.9h0M594.4 205.4h0M594.6 205.9h0M594.7 205.8h0M594.8 205.5h0M595 204.6h0M595.1 204.7h0M595.3 205.6h0M595.4 206.1h0M595.6 205.2h0M595.7 205.4h0M595.9 205.1h0M596 205.7h0M596.2 204.7h0M596.3 205.6h0M596.4 205.6h0M596.6 205.3h0M596.7 205h0M596.9 205.8h0M597 205.2h0M597.2 206.3h0M597.3 205.8h0M597.5 205.3h0M597.6 205.3h0M597.8 205.6h0M597.9 204.7h0M598 205.9h0M598.2 205.9h0M598.3 205.8h0M598.5 205.3h0M598.6 204.6h0M598.8 205.8h0M598.9 205.9h0M599.1 204.6h0M599.2 205.5h0M599.3 204.7h0M599.5 204.8h0M599.6 205.1h0M599.8 203.9h0M599.9 203.7h0M600.1 201.7h0M600.2 197.9h0M600.4 192.8h0M600.5 186.9h0M600.6 179.9h0M600.8 175h0M600.9 172.2h0M601.1 171.8h0M601.2 175.8h0M601.4 180.2h0M601.5 186.6h0M601.7 194.7h0M601.8 198.9h0M601.9 202.2h0M602.1 202.7h0M602.2 204.3h0M602.4 205.3h0M602.5 205.5h0M602.7 205.6h0M602.8 204.9h0M603 206h0M603.1 203.9h0M603.2 205h0M603.4 205.1h0M603.5 205.2h0M603.7 205.1h0M603.8 204.6h0M604 205.8h0M604.1 205.4h0M604.3 205.6h0M604.4 206h0M604.5 205.4h0M604.7 205.5h0M604.8 205.6h0M605 205.6h0M605.1 204.9h0M605.3 206.3h0M605.4 204.8h0M605.5 205.7h0M605.7 205.8h0M605.8 204.4h0M606 205.3h0M606.1 205h0M606.3 205.4h0M606.4 205.1h0M606.6 205.7h0M606.7 203.8h0M606.8 203.2h0M607 200.3h0M607.1 197.6h0M607.3 191.9h0M607.4 186.2h0M607.6 181h0M607.7 176.8h0M607.8 177.1h0M608 178.8h0M608.1 183.1h0M608.3 188.8h0M608.4 194.6h0M608.6 199.2h0M608.7 202.1h0M608.8 203.7h0M609 204.5h0M609.1 204.2h0M609.3 205.4h0M609.4 204.3h0M609.6 204.8h0M609.7 204.8h0M609.8 204.3h0M610 205h0M610.1 205.5h0M610.3 203.6h0M610.4 203.9h0M610.6 202.7h0M610.7 198.6h0M610.8 192h0M611 181.6h0M611.1 164.8h0M611.3 146.6h0M611.4 123.9h0M611.5 109.1h0M611.7 99.9h0M611.8 107.4h0M612 121.8h0M612.1 140.5h0M612.3 162.5h0M612.4 178.8h0M612.5 190.6h0M612.7 198.2h0M612.8 201.3h0M613 203.1h0M613.1 203.9h0M613.3 204.3h0M613.4 205.7h0M613.5 205.8h0M613.7 204.3h0M613.8 204.6h0M614 204.7h0M614.1 203.7h0M614.2 204.4h0M614.4 204.7h0M614.5 205h0M614.7 204.5h0M614.8 204.9h0M615 205.9h0M615.1 204.9h0M615.2 204.7h0M615.4 204.5h0M615.5 205.3h0M615.7 205.1h0M615.8 205h0M615.9 206h0M616.1 205.2h0M616.2 204.6h0M616.4 204.8h0M616.5 203.8h0M616.6 203.6h0M616.8 202.8h0M616.9 199.1h0M617.1 194.1h0M617.2 186.8h0M617.4 180.1h0M617.5 172.6h0M617.6 169.8h0M617.8 169.3h0M617.9 173.4h0M618.1 181.3h0M618.2 187.7h0M618.3 194.6h0M618.5 198.3h0M618.6 201.8h0M618.8 203.3h0M618.9 204.6h0M619 203.3h0M619.2 203.6h0M619.3 203.7h0M619.5 204h0M619.6 203.6h0M619.7 202.9h0M619.9 203.9h0M620 203.1h0M620.2 204.9h0M620.3 203h0M620.4 202.6h0M620.6 200.5h0M620.7 195.1h0M620.9 190.2h0M621 179.9h0M621.1 168.8h0M621.3 158.8h0M621.4 152.9h0M621.6 152.9h0M621.7 156.2h0M621.8 166.9h0M622 177.5h0M622.1 187.7h0M622.3 192.6h0M622.4 197.4h0M622.5 199.4h0M622.7 200.3h0M622.8 200.3h0M623 200.9h0M623.1 202.9h0M623.2 203.9h0M623.4 204.6h0M623.5 204.9h0M623.7 204h0M623.8 205.2h0M623.9 205.8h0M624.1 204.9h0M624.2 204.4h0M624.4 204.8h0M624.5 205.3h0M624.6 205.2h0M624.8 204.1h0M624.9 204.3h0M625 204.7h0M625.2 203.2h0M625.3 202.4h0M625.5 201.1h0M625.6 201.5h0M625.7 201h0M625.9 203.2h0M626 201.6h0M626.2 203.9h0M626.3 203.1h0M626.4 204.6h0M626.6 204.3h0M626.7 204.4h0M626.9 204.9h0M627 203.6h0M627.1 205h0M627.3 204.4h0M627.4 205.2h0M627.5 205h0M627.7 205.2h0M627.8 205h0M628 205.4h0M628.1 205.3h0M628.2 205.4h0M628.4 204.5h0M628.5 204.5h0M628.7 204.9h0M628.8 205.1h0M628.9 205.5h0M629.1 204.2h0M629.2 205h0M629.3 204.5h0M629.5 203.4h0M629.6 202.4h0M629.8 199.4h0M629.9 195.4h0M630 185h0M630.2 172.5h0M630.3 154.1h0M630.4 138.9h0M630.6 127.6h0M630.7 123.9h0M630.9 129.4h0M631 144h0M631.1 163.2h0M631.3 177.3h0M631.4 188.9h0M631.5 196.7h0M631.7 201.1h0M631.8 203.5h0M632 205h0M632.1 204h0M632.2 204.8h0M632.4 204.8h0M632.5 205.4h0M632.6 204.6h0M632.8 205.6h0M632.9 204.7h0M633.1 204.8h0M633.2 205.2h0M633.3 205.7h0M633.5 205.1h0M633.6 204.6h0M633.7 206.6h0M633.9 205.1h0M634 205.1h0M634.1 205h0M634.3 204.3h0M634.4 205.4h0M634.6 204.5h0M634.7 204h0M634.8 205.9h0M635 204h0M635.1 204.8h0M635.2 205.6h0M635.4 205.1h0M635.5 204.3h0M635.6 204.6h0M635.8 205.4h0M635.9 204.9h0M636.1 205.2h0M636.2 204.8h0M636.3 205.2h0M636.5 204.4h0M636.6 205.2h0M636.7 204.9h0M636.9 205h0M637 205h0M637.1 204.4h0M637.3 205.1h0M637.4 205.6h0M637.6 204.6h0M637.7 205.5h0M637.8 205.7h0M638 204.6h0M638.1 205.1h0M638.2 204.1h0M638.4 201.9h0M638.5 200.7h0M638.6 200h0M638.8 196.6h0M638.9 194.6h0M639 189.3h0M639.2 186.4h0M639.3 186.9h0M639.4 187.9h0M639.6 190.6h0M639.7 194.9h0M639.9 198.5h0M640 200.4h0M640.1 203.1h0M640.3 203.4h0M640.4 204.5h0M640.5 204.1h0M640.7 204.7h0M640.8 204.5h0M640.9 202.9h0M641.1 202.4h0M641.2 201.3h0M641.3 201.2h0M641.5 199.3h0M641.6 200.9h0M641.7 200.9h0M641.9 202.7h0M642 203.4h0M642.1 204.2h0M642.3 205.2h0M642.4 206.1h0M642.5 204.7h0M642.7 205.2h0M642.8 205.5h0M643 206.2h0M643.1 206.2h0M643.2 205.9h0M643.4 204.9h0M643.5 205.8h0M643.6 206.1h0M643.8 204.5h0M643.9 204.3h0M644 203.9h0M644.2 203.9h0M644.3 202.6h0M644.4 199.6h0M644.6 196.8h0M644.7 188.5h0M644.8 180.5h0M645 174.1h0M645.1 166.9h0M645.2 164.8h0M645.4 169.1h0M645.5 176.9h0M645.6 185.3h0M645.8 192.4h0M645.9 196.9h0M646 201.5h0M646.2 203.6h0M646.3 203.9h0M646.4 203.2h0M646.6 204.5h0M646.7 204.7h0M646.8 203.9h0M647 204.5h0M647.1 203.5h0M647.2 200.8h0M647.4 196.3h0M647.5 187.9h0M647.6 175.7h0M647.8 156.4h0M647.9 136.6h0M648 119.1h0M648.2 109.9h0M648.3 110.6h0M648.4 126.3h0M648.6 144.5h0M648.7 164.8h0M648.8 180.9h0M649 191.9h0M649.1 198.5h0M649.2 202.6h0M649.4 204.5h0M649.5 204.4h0M649.6 203.9h0M649.7 204.3h0M649.9 204.7h0M650 203.7h0M650.1 203.7h0M650.3 202.5h0M650.4 204.1h0M650.5 203.6h0M650.7 204.7h0M650.8 203.6h0M650.9 203.4h0M651.1 201.9h0M651.2 201.4h0M651.3 200.5h0M651.5 201.3h0M651.6 200.8h0M651.7 201.7h0M651.9 203h0M652 202.7h0M652.1 204.4h0M652.3 203.4h0M652.4 202.4h0M652.5 200.4h0M652.6 196.8h0M652.8 191.9h0M652.9 185.5h0M653 181.5h0M653.2 180.3h0M653.3 181.4h0M653.4 185.2h0M653.6 190.6h0M653.7 195.7h0M653.8 199.2h0M654 201.1h0M654.1 203.9h0M654.2 204.3h0M654.4 204.3h0M654.5 205.7h0M654.6 204.9h0M654.7 204.9h0M654.9 205.6h0M655 202.1h0M655.1 204.9h0M655.3 202h0M655.4 200.5h0M655.5 198.2h0M655.7 188.8h0M655.8 177.4h0M655.9 163.7h0M656.1 149.5h0M656.2 137.1h0M656.3 133h0M656.4 136.1h0M656.6 148.8h0M656.7 162.1h0M656.8 178.4h0M657 189h0M657.1 195.5h0M657.2 201.4h0M657.4 202.5h0M657.5 204.6h0M657.6 202.8h0M657.7 204.5h0M657.9 203.5h0M658 202.2h0M658.1 200.4h0M658.3 198.9h0M658.4 198h0M658.5 198.8h0M658.7 198.6h0M658.8 199h0M658.9 200.1h0M659 202.6h0M659.2 203.1h0M659.3 204.7h0M659.4 205h0M659.6 205.7h0M659.7 204h0M659.8 205.8h0M659.9 203.7h0M660.1 204.2h0M660.2 205.2h0M660.3 204.2h0M660.5 204.1h0M660.6 204.7h0M660.7 203.4h0M660.8 202.2h0M661 202.6h0M661.1 202.2h0M661.2 203.1h0M661.4 203.6h0M661.5 204.7h0M661.6 205.5h0M661.7 204h0M661.9 205.6h0M662 203.8h0M662.1 202h0M662.3 199.5h0M662.4 200h0M662.5 198.6h0M662.6 198.3h0M662.8 196.8h0M662.9 199.5h0M663 198.5h0M663.2 199h0M663.3 198.4h0M663.4 195.7h0M663.5 193.3h0M663.7 189.7h0M663.8 189h0M663.9 190.7h0M664.1 192.9h0M664.2 196.5h0M664.3 199.6h0M664.4 202.4h0M664.6 202.9h0M664.7 203.1h0M664.8 202.6h0M665 201.9h0M665.1 199.7h0M665.2 198.3h0M665.3 198.1h0M665.5 197.4h0M665.6 197.8h0M665.7 198.3h0M665.8 201.2h0M666 201h0M666.1 203.9h0M666.2 203.8h0M666.4 204.4h0M666.5 204.9h0M666.6 205.2h0M666.7 205.4h0M666.9 205.1h0M667 207.1h0M667.1 205.7h0M667.2 205.1h0M667.4 203.6h0M667.5 205.8h0M667.6 205.3h0M667.7 205.5h0M667.9 205.6h0M668 205.5h0M668.1 204.4h0M668.3 204.3h0M668.4 203h0M668.5 201.9h0M668.6 200h0M668.8 197.8h0M668.9 196.5h0M669 193.1h0M669.1 194.7h0M669.3 195.3h0M669.4 196.5h0M669.5 199.6h0M669.6 202.6h0M669.8 203.7h0M669.9 203.2h0M670 204.1h0M670.1 205.4h0M670.3 205.1h0M670.4 204.8h0M670.5 205.7h0M670.6 205h0M670.8 204.9h0M670.9 204.3h0M671 203.7h0M671.1 203.4h0M671.3 204.8h0M671.4 203.8h0M671.5 204.5h0M671.6 205h0M671.8 204.8h0M671.9 204.2h0M672 203.5h0M672.1 203.5h0M672.3 200.9h0M672.4 199.4h0M672.5 196.3h0M672.6 195.1h0M672.8 194.5h0M672.9 195h0M673 195.8h0M673.1 199.3h0M673.3 200h0M673.4 202h0M673.5 203.3h0M673.6 203.1h0M673.8 204.2h0M673.9 203.3h0M674 204.6h0M674.1 201.7h0M674.3 203.1h0M674.4 202.6h0M674.5 203.8h0M674.6 202.2h0M674.8 202.8h0M674.9 203.5h0M675 203.4h0M675.1 201.1h0M675.3 202.3h0M675.4 201.7h0M675.5 202.4h0M675.6 203h0M675.8 203h0M675.9 203.8h0M676 204h0M676.1 203.5h0M676.3 205h0M676.4 204.2h0M676.5 203.9h0M676.6 205.4h0M676.7 205.4h0M676.9 203.8h0M677 204.1h0M677.1 204.2h0M677.2 202.7h0M677.4 202.9h0M677.5 203.1h0M677.6 205.2h0M677.7 203.4h0M677.9 202.8h0M678 200.5h0M678.1 196.4h0M678.2 190h0M678.3 177.2h0M678.5 159.2h0M678.6 141.6h0M678.7 126.2h0M678.8 120.5h0M679 124.5h0M679.1 137.7h0M679.2 157.1h0M679.3 172.9h0M679.5 187.5h0M679.6 195.8h0M679.7 200.1h0M679.8 203.2h0M679.9 203.7h0M680.1 203.3h0M680.2 203.6h0M680.3 202.1h0M680.4 201.7h0M680.6 203.5h0M680.7 203.4h0M680.8 203.3h0M680.9 204h0M681 204.1h0M681.2 204.7h0M681.3 203.6h0M681.4 205h0M681.5 205.8h0M681.6 205.1h0M681.8 205h0M681.9 204.2h0M682 203.4h0M682.1 203h0M682.3 202.5h0M682.4 201.4h0M682.5 198.6h0M682.6 193h0M682.7 188.9h0M682.9 182.7h0M683 178h0M683.1 173.5h0M683.2 173.7h0M683.3 178.5h0M683.5 185.5h0M683.6 191.1h0M683.7 198.1h0M683.8 201.9h0M684 203.4h0M684.1 203.6h0M684.2 204.4h0M684.3 204.9h0M684.4 204.6h0M684.6 203.9h0M684.7 204.5h0M684.8 204.3h0M684.9 204h0M685 205.3h0M685.2 205.3h0M685.3 205.1h0M685.4 204.5h0M685.5 204.2h0M685.6 204.4h0M685.8 204.7h0M685.9 204h0M686 205.3h0M686.1 205.2h0M686.2 204.7h0M686.4 203.3h0M686.5 204.9h0M686.6 203.5h0M686.7 204.7h0M686.8 203.7h0M687 203.2h0M687.1 201.7h0M687.2 196.2h0M687.3 192.2h0M687.4 184.2h0M687.6 179.5h0M687.7 177.2h0M687.8 178.5h0M687.9 182.6h0M688 189.1h0M688.2 193.6h0M688.3 199.1h0M688.4 201.7h0M688.5 204.1h0M688.6 203.9h0M688.7 206.1h0M688.9 204.3h0M689 203.3h0M689.1 203.6h0M689.2 204.7h0M689.3 204.9h0M689.5 205.5h0M689.6 204.7h0M689.7 205.8h0M689.8 205.3h0M689.9 205.1h0M690.1 205.4h0M690.2 204h0M690.3 205.2h0M690.4 204.4h0M690.5 204.8h0M690.6 204.9h0M690.8 204.5h0M690.9 205.1h0M691 204.7h0M691.1 204.9h0M691.2 204.2h0M691.4 202.5h0M691.5 200.7h0M691.6 200.5h0M691.7 196.5h0M691.8 194.7h0M691.9 188.9h0M692.1 183.1h0M692.2 177.8h0M692.3 174.6h0M692.4 173.1h0M692.5 176.1h0M692.6 180.1h0M692.8 186.1h0M692.9 191.4h0M693 194.6h0M693.1 198.8h0M693.2 200.2h0M693.3 201.9h0M693.5 203.1h0M693.6 204.7h0M693.7 205.1h0M693.8 204.1h0M693.9 205.1h0M694.1 204.2h0M694.2 204.1h0M694.3 205.6h0M694.4 204.4h0M694.5 203.4h0M694.6 205.1h0M694.8 203.6h0M694.9 202.4h0M695 202.3h0M695.1 200.7h0M695.2 203.6h0M695.3 201.5h0M695.4 203h0M695.6 203.5h0M695.7 202.9h0M695.8 203.4h0M695.9 203h0M696 203.8h0M696.1 200.7h0M696.3 196.5h0M696.4 189.9h0M696.5 182h0M696.6 169h0M696.7 157.7h0M696.8 151.2h0M697 149.9h0M697.1 155.6h0M697.2 167.4h0M697.3 176.4h0M697.4 185.5h0M697.5 191h0M697.6 194.1h0M697.8 194.3h0M697.9 193.2h0M698 195.9h0M698.1 198.4h0M698.2 200.2h0M698.3 202.5h0M698.5 202.8h0M698.6 204.5h0M698.7 204.1h0M698.8 204.5h0M698.9 202.2h0M699 201.9h0M699.1 202.3h0M699.3 199.7h0M699.4 200.8h0M699.5 199.6h0M699.6 198.2h0M699.7 195.3h0M699.8 192.1h0M699.9 184.3h0M700.1 178.8h0M700.2 172.5h0M700.3 169.9h0M700.4 173.7h0M700.5 177.8h0M700.6 185.3h0M700.7 192.2h0M700.9 198.3h0M701 200.1h0M701.1 202.5h0M701.2 204.9h0M701.3 203.9h0M701.4 204.9h0M701.5 205.4h0M701.7 204.4h0M701.8 204.1h0M701.9 204.9h0M702 204h0M702.1 204.6h0M702.2 203.1h0M702.3 201.8h0M702.4 200.5h0M702.6 200h0M702.7 198.5h0M702.8 196.8h0M702.9 194.7h0M703 194.9h0M703.1 192.3h0M703.2 189.6h0M703.4 184.6h0M703.5 179.1h0M703.6 175.8h0M703.7 173.4h0M703.8 175.8h0M703.9 180.6h0M704 188.2h0M704.1 193.5h0M704.3 198h0M704.4 202h0M704.5 202.1h0M704.6 202.4h0M704.7 203.6h0M704.8 203.6h0M704.9 203.7h0M705 204.3h0M705.2 203.6h0M705.3 203.3h0M705.4 204.7h0M705.5 205.3h0M705.6 205.2h0M705.7 204.9h0M705.8 204.2h0M705.9 203.7h0M706 203.4h0M706.2 204.5h0M706.3 205.5h0M706.4 205h0M706.5 205.1h0M706.6 204.2h0M706.7 202.6h0M706.8 203.7h0M706.9 202.9h0M707.1 201.6h0M707.2 200.9h0M707.3 199.4h0M707.4 199.2h0M707.5 200.1h0M707.6 201.5h0M707.7 204.3h0M707.8 203.3h0M707.9 203.9h0M708.1 205.3h0M708.2 203.2h0M708.3 204.4h0M708.4 202.5h0M708.5 200.2h0M708.6 200.4h0M708.7 200.5h0M708.8 200.7h0M708.9 201.5h0M709 202.2h0M709.2 202.1h0M709.3 203.4h0M709.4 202.9h0M709.5 203.6h0M709.6 204.4h0M709.7 205h0M709.8 204.6h0M709.9 203.5h0M710 203.8h0M710.1 205.4h0M710.3 204.9h0M710.4 204.7h0M710.5 203.2h0M710.6 205.2h0M710.7 204.6h0M710.8 204.5h0M710.9 204.7h0M711 203.9h0M711.1 203.8h0M711.2 203.2h0M711.4 203.3h0M711.5 200.3h0M711.6 195.8h0M711.7 189.7h0M711.8 183.3h0M711.9 176h0M712 168.4h0M712.1 163.9h0M712.2 163.8h0M712.3 167.6h0M712.4 175.5h0M712.5 183.5h0M712.7 189.8h0M712.8 191.8h0M712.9 193.1h0M713 193.7h0M713.1 196h0M713.2 194.7h0M713.3 197.6h0M713.4 199.2h0M713.5 201.4h0M713.6 203.7h0M713.7 203.7h0M713.9 202.3h0M714 202.8h0M714.1 203.8h0M714.2 204.6h0M714.3 203.1h0M714.4 203.5h0M714.5 202.6h0M714.6 202.5h0M714.7 202h0M714.8 200.6h0M714.9 198.9h0M715 193.9h0M715.1 188.8h0M715.3 181.7h0M715.4 174.4h0M715.5 171.6h0M715.6 170.6h0M715.7 177h0M715.8 182.6h0M715.9 191h0M716 195.9h0M716.1 199.8h0M716.2 202.6h0M716.3 202.4h0M716.4 204h0M716.5 203.7h0M716.6 201.7h0M716.7 201.3h0M716.9 197.1h0M717 196.2h0M717.1 196h0M717.2 195.7h0M717.3 196h0M717.4 198h0M717.5 197.6h0M717.6 195.7h0M717.7 188.1h0M717.8 173.1h0M717.9 148.8h0M718 117.3h0M718.1 82.5h0M718.2 53.6h0M718.3 42.4h0M718.4 50.3h0M718.6 77.7h0M718.7 111.6h0M718.8 140.9h0M718.9 164.8h0M719 178.7h0M719.1 187.1h0M719.2 193h0M719.3 197.8h0M719.4 199.6h0M719.5 201.5h0M719.6 202.5h0M719.7 205.1h0M719.8 203.5h0M719.9 203.9h0M720 204.3h0M720.1 205.3h0M720.2 204.4h0M720.3 204.7h0M720.5 204.2h0M720.6 204.1h0M720.7 204.1h0M720.8 205.1h0M720.9 204.2h0M721 203.7h0M721.1 204h0M721.2 203.3h0M721.3 205h0M721.4 202.8h0M721.5 204.9h0M721.6 203.6h0M721.7 203.8h0M721.8 204.4h0M721.9 204.8h0M722 205h0M722.1 204.9h0M722.2 203.7h0M722.3 204.4h0M722.4 205.4h0M722.5 205.8h0M722.6 205.2h0M722.7 203.9h0M722.8 205h0M723 204.4h0M723.1 204.5h0M723.2 204.3h0M723.3 203.9h0M723.4 204.9h0M723.5 204.2h0M723.6 202.9h0M723.7 202.5h0M723.8 202.5h0M723.9 202.8h0M724 199.8h0M724.1 195h0M724.2 188.8h0M724.3 185.9h0M724.4 179.1h0M724.5 176.9h0M724.6 180h0M724.7 183.3h0M724.8 189.3h0M724.9 195.2h0M725 199.8h0M725.1 201.6h0M725.2 204.4h0M725.3 203.6h0M725.4 203.8h0M725.5 204.9h0M725.6 206.2h0M725.7 205.6h0M725.8 204.8h0M725.9 205.3h0M726 204h0M726.1 204.3h0M726.2 204.6h0M726.3 205h0M726.4 204.1h0M726.5 205.2h0M726.6 205h0M726.7 203.7h0M726.8 205.1h0M727 205.1h0M727.1 203.2h0M727.2 202.5h0M727.3 201.4h0M727.4 198.9h0M727.5 197.4h0M727.6 195.2h0M727.7 194.3h0M727.8 193.9h0M727.9 197.5h0M728 198.4h0M728.1 201.4h0M728.2 203.1h0M728.3 203.6h0M728.4 201.7h0M728.5 203.7h0M728.6 204h0M728.7 204.6h0M728.8 205.3h0M728.9 204.1h0M729 205.6h0M729.1 204.8h0M729.2 205.1h0M729.3 205.1h0M729.4 203.9h0M729.5 204.5h0M729.6 203.8h0M729.7 204.4h0M729.8 204.5h0M729.9 202.7h0M730 200.2h0M730.1 197.6h0M730.2 191.3h0M730.3 184.6h0M730.4 175.4h0M730.5 168.6h0M730.6 166.8h0M730.7 166.7h0M730.8 170.8h0M730.9 179h0M731 186.8h0M731.1 193h0M731.2 198.8h0M731.3 200.4h0M731.4 203.4h0M731.5 204.3h0M731.6 204.3h0M731.7 203.7h0M731.8 204.8h0M731.9 204.2h0M732 204.3h0M732.1 203.9h0M732.2 205.4h0M732.3 203.7h0M732.4 204.9h0M732.4 202.2h0M732.5 202.5h0M732.6 201.6h0M732.7 200.6h0M732.8 201.4h0M732.9 202.6h0M733 204.9h0M733.1 202.9h0M733.2 202.9h0M733.3 202.9h0M733.4 203.4h0M733.5 202.2h0M733.6 199.9h0M733.7 195.3h0M733.8 190.4h0M733.9 183.1h0M734 175.3h0M734.1 171.6h0M734.2 170.7h0M734.3 172.1h0M734.4 177.2h0M734.5 184.2h0M734.6 190.6h0M734.7 196.2h0M734.8 200.5h0M734.9 201.4h0M735 203.6h0M735.1 204.6h0M735.2 204.8h0M735.3 204.5h0M735.4 204.8h0M735.5 205h0M735.6 203.8h0M735.7 204.2h0M735.8 203.6h0M735.9 204.8h0M736 203.4h0M736.1 205h0M736.2 205.2h0M736.2 204.3h0M736.3 205.8h0M736.4 204.2h0M736.5 204.3h0M736.6 206h0M736.7 204.6h0M736.8 205h0M736.9 204.9h0M737 204.4h0M737.1 202.5h0M737.2 200.9h0M737.3 198.8h0M737.4 197.4h0M737.5 199.4h0M737.6 199.3h0M737.7 198.4h0M737.8 200.2h0M737.9 202.1h0M738 202h0M738.1 201.7h0M738.2 204.2h0M738.3 205.4h0M738.4 205.4h0M738.4 204.8h0M738.5 205h0M738.6 205.1h0M738.7 203.3h0M738.8 204h0M738.9 205.3h0M739 204h0M739.1 204.3h0M739.2 204.8h0M739.3 203.6h0M739.4 203.9h0M739.5 202.8h0M739.6 203.3h0M739.7 202.8h0M739.8 202h0M739.9 202.9h0M740 203h0M740.1 203.7h0M740.2 203.3h0M740.2 203.9h0M740.3 203.7h0M740.4 203.1h0M740.5 203.1h0M740.6 201.5h0M740.7 199.6h0M740.8 198.1h0M740.9 191.5h0M741 187.1h0M741.1 182h0M741.2 177.7h0M741.3 170.4h0M741.4 167.2h0M741.5 167.3h0M741.6 167.1h0M741.6 172.6h0M741.7 179.4h0M741.8 186.1h0M741.9 192.5h0M742 197.2h0M742.1 198.3h0M742.2 199.9h0M742.3 200.2h0M742.4 202.2h0M742.5 203.6h0M742.6 203.2h0M742.7 204h0M742.8 203.9h0M742.9 204.2h0M742.9 204.4h0M743 205.1h0M743.1 204.7h0M743.2 205.5h0M743.3 204h0M743.4 204.6h0M743.5 205.4h0M743.6 203.8h0M743.7 204.6h0M743.8 203.2h0M743.9 205.6h0M744 204.9h0M744 204.9h0M744.1 204.5h0M744.2 203.4h0M744.3 202.8h0M744.4 200.2h0M744.5 196.4h0M744.6 191.4h0M744.7 185.4h0M744.8 178.8h0M744.9 174.6h0M745 171h0M745.1 170.4h0M745.1 174.2h0M745.2 180.5h0M745.3 186.2h0M745.4 192.5h0M745.5 197.2h0M745.6 199.8h0M745.7 202.9h0M745.8 203.6h0M745.9 204.3h0M746 205.1h0M746.1 203.8h0M746.1 205.2h0M746.2 202.9h0M746.3 204.1h0M746.4 205.2h0M746.5 204h0M746.6 204h0M746.7 204.5h0M746.8 204.2h0M746.9 204.4h0M747 203.1h0M747 204.6h0M747.1 205.7h0M747.2 204.1h0M747.3 205.5h0M747.4 204.7h0M747.5 204.7h0M747.6 205.1h0M747.7 204.6h0M747.8 203.8h0M747.8 202.5h0M747.9 202.8h0M748 200.6h0M748.1 198.1h0M748.2 196.8h0M748.3 193.7h0M748.4 192.2h0M748.5 189.9h0M748.6 189h0M748.6 186h0M748.7 184.6h0M748.8 182.1h0M748.9 181h0M749 179.9h0M749.1 181.3h0M749.2 187.7h0M749.3 190.6h0M749.4 194.5h0M749.4 199.4h0M749.5 201.5h0M749.6 202.9h0M749.7 204h0M749.8 203.9h0M749.9 205h0M750 204.1h0M750.1 204h0M750.1 203.4h0M750.2 204.5h0M750.3 203.7h0M750.4 203.9h0M750.5 204h0M750.6 203.7h0M750.7 203.2h0M750.8 200.8h0M750.8 200.4h0M750.9 201.3h0M751 198.7h0M751.1 197.7h0M751.2 198.5h0M751.3 198.4h0M751.4 200.5h0M751.5 200.1h0M751.5 201.9h0M751.6 203.9h0M751.7 203.7h0M751.8 203.6h0M751.9 203.4h0M752 205.2h0M752.1 204.2h0M752.1 202.9h0M752.2 203.2h0M752.3 202.2h0M752.4 202h0M752.5 201.1h0M752.6 201.6h0M752.7 200.3h0M752.8 199h0M752.8 196.6h0M752.9 191.7h0M753 182.8h0M753.1 168.5h0M753.2 156.9h0M753.3 141.9h0M753.4 128h0M753.4 125.5h0M753.5 125.6h0M753.6 136h0M753.7 146.7h0M753.8 160.3h0M753.9 171.9h0M753.9 181.4h0M754 188h0M754.1 193.2h0M754.2 195.6h0M754.3 196.8h0M754.4 199.8h0M754.5 201.5h0M754.5 202.5h0M754.6 203.4h0M754.7 204.7h0M754.8 203.8h0M754.9 204.1h0M755 205.8h0M755 202.7h0M755.1 205h0M755.2 204h0M755.3 204.9h0M755.4 205.1h0M755.5 203.2h0M755.6 202.7h0M755.6 204.2h0M755.7 202.7h0M755.8 201.9h0M755.9 202.5h0M756 202.2h0M756.1 202.4h0M756.1 202.2h0M756.2 204.7h0M756.3 205.9h0M756.4 204h0M756.5 203.6h0M756.6 202.7h0M756.6 206.1h0M756.7 203.8h0M756.8 204.5h0M756.9 205.4h0M757 203.8h0M757.1 204.9h0M757.1 206.2h0M757.2 204.6h0M757.3 205.2h0M757.4 204.2h0M757.5 204.9h0M757.6 203.5h0M757.6 204.2h0M757.7 203.5h0M757.8 204.3h0M757.9 204.5h0M758 204.7h0M758 204.9h0M758.1 204h0M758.2 203.1h0M758.3 201.1h0M758.4 200.9h0M758.5 197h0M758.5 191.8h0M758.6 189.4h0M758.7 183.3h0M758.8 180h0M758.9 177.3h0M758.9 176.7h0M759 176.9h0M759.1 182.1h0M759.2 185.1h0M759.3 189.7h0M759.4 191.8h0M759.4 192.7h0M759.5 192.8h0M759.6 196.8h0M759.7 195.9h0M759.8 198.1h0M759.8 201.1h0M759.9 202.2h0M760 203h0M760.1 202.9h0M760.2 204.6h0M760.2 204.5h0M760.3 204.1h0M760.4 204h0M760.5 204.3h0M760.6 204h0M760.6 205.6h0M760.7 204h0M760.8 204.9h0M760.9 204.1h0M761 205h0M761 205.7h0M761.1 204.9h0M761.2 204.2h0M761.3 204.2h0M761.4 205.1h0M761.4 204h0M761.5 203.5h0M761.6 205h0M761.7 204h0M761.8 203h0M761.8 203.7h0M761.9 203.6h0M762 205.2h0M762.1 204h0M762.2 205h0M762.2 206.2h0M762.3 204.3h0M762.4 204.3h0M762.5 205.2h0M762.6 202.5h0M762.6 204.9h0M762.7 203.6h0M762.8 202.5h0M762.9 202.7h0M762.9 201.6h0M763 199.5h0M763.1 199.4h0M763.2 198.8h0M763.3 196.1h0M763.3 193.1h0M763.4 190.5h0M763.5 182.1h0M763.6 172.2h0M763.7 164.1h0M763.7 156.1h0M763.8 150.3h0M763.9 149.9h0M764 155.6h0M764 161.5h0M764.1 172.3h0M764.2 180.4h0M764.3 188.8h0M764.4 196.9h0M764.4 199.6h0M764.5 201.8h0M764.6 203.9h0M764.7 203.5h0M764.7 202.1h0M764.8 203.3h0M764.9 203.4h0M765 203.6h0M765 202.3h0M765.1 201.9h0M765.2 199.8h0M765.3 199.2h0M765.4 198.6h0M765.4 197.6h0M765.5 198.3h0M765.6 199.1h0M765.7 201.4h0M765.7 202.2h0M765.8 203.7h0M765.9 202.5h0M766 202.1h0M766 204.7h0M766.1 203.9h0M766.2 204h0M766.3 204h0M766.3 204.6h0M766.4 204.8h0M766.5 203.9h0M766.6 204.8h0M766.6 205h0M766.7 205.1h0M766.8 205.6h0M766.9 203.4h0M766.9 203.9h0M767 205.3h0M767.1 205.1h0M767.2 204.1h0M767.3 203h0M767.3 205.4h0M767.4 203.7h0M767.5 203.9h0M767.6 203.2h0M767.6 204h0M767.7 202.6h0M767.8 202h0M767.8 203.6h0M767.9 201.9h0M768 201.8h0M768.1 201.6h0M768.1 200h0M768.2 197.8h0M768.3 192.5h0M768.4 184.6h0M768.4 174.9h0M768.5 168.6h0M768.6 158.8h0M768.7 152.2h0M768.7 150.1h0M768.8 151.8h0M768.9 155.9h0M769 165h0M769 173.1h0M769.1 182.7h0M769.2 188.9h0M769.3 193.9h0M769.3 198.1h0M769.4 200.1h0M769.5 202.4h0M769.5 203.6h0M769.6 203.1h0M769.7 203h0M769.8 203.3h0M769.8 202.8h0M769.9 203.3h0M770 205h0M770.1 203.4h0M770.1 204.2h0M770.2 204.5h0M770.3 205.3h0M770.3 203.7h0M770.4 203.3h0M770.5 205.2h0M770.6 203.6h0M770.6 205.1h0M770.7 204.3h0M770.8 206.3h0M770.9 202.2h0M770.9 204.6h0M771 205.4h0M771.1 205h0M771.1 203.1h0M771.2 205h0M771.3 205.8h0M771.4 204.6h0M771.4 204.3h0M771.5 202.1h0M771.6 201.6h0M771.6 200.1h0M771.7 197h0M771.8 195.6h0M771.9 196.1h0M771.9 194.9h0M772 195.2h0M772.1 194.9h0M772.1 196.6h0M772.2 198.2h0M772.3 199.8h0M772.4 200.2h0M772.4 203.4h0M772.5 203.6h0M772.6 203.1h0M772.6 203.1h0M772.7 203.7h0M772.8 204h0M772.8 204.7h0M772.9 205.2h0M773 204.9h0M773.1 206.1h0M773.1 205.5h0M773.2 204.2h0M773.3 204.9h0M773.3 206.1h0M773.4 204h0M773.5 205.2h0M773.5 203.5h0M773.6 205h0M773.7 205.2h0M773.8 205.8h0M773.8 204.3h0M773.9 204.3h0M774 203.7h0M774 205h0M774.1 204.5h0M774.2 204.6h0M774.2 205.1h0M774.3 203h0M774.4 203.9h0M774.4 203.2h0M774.5 205h0M774.6 203.6h0M774.7 204.2h0M774.7 202.8h0M774.8 202.3h0M774.9 199.4h0M774.9 198.8h0M775 195.6h0M775.1 191.4h0M775.1 185.2h0M775.2 181.6h0M775.3 177h0M775.3 173.4h0M775.4 171.6h0M775.5 173.6h0M775.5 176.7h0M775.6 179.9h0M775.7 185.9h0M775.7 189.6h0M775.8 193.9h0M775.9 198.6h0M775.9 200.8h0M776 201.8h0M776.1 202.2h0M776.1 204.1h0M776.2 204.4h0M776.3 203.8h0M776.4 204.8h0M776.4 203.7h0M776.5 204.5h0M776.6 203.8h0M776.6 203.7h0M776.7 204.2h0M776.8 205.2h0M776.8 204.8h0M776.9 203.4h0M777 204.8h0M777 204.8h0M777.1 203.2h0M777.2 205h0M777.2 205.3h0M777.3 204.5h0M777.3 203.7h0M777.4 205.6h0M777.5 203.5h0M777.5 203.5h0M777.6 203.3h0M777.7 202.2h0M777.7 202.1h0M777.8 202h0M777.9 203.2h0M777.9 202.3h0M778 201.9h0M778.1 202.1h0M778.1 203.6h0M778.2 203.6h0M778.3 205.5h0M778.3 203.1h0M778.4 204.6h0M778.5 203.2h0M778.5 205.4h0M778.6 204.2h0M778.7 204.2h0M778.7 204.3h0M778.8 204.5h0M778.9 203.5h0M778.9 204.8h0M779 202.6h0M779 203.2h0M779.1 202.4h0M779.2 204.3h0M779.2 202.7h0M779.3 203.6h0M779.4 203.4h0M779.4 203.1h0M779.5 202.4h0M779.6 203.4h0M779.6 202.9h0M779.7 203.3h0M779.8 203.8h0M779.8 204.5h0M779.9 204.8h0M779.9 205.3h0M780 204.1h0M780.1 206.1h0M780.1 203.1h0M780.2 203.9h0M780.3 204.4h0M780.3 202.6h0M780.4 203.4h0M780.5 204.5h0M780.5 204.7h0M780.6 203.1h0M780.6 203.6h0M780.7 204.9h0M780.8 203.6h0M780.8 204.7h0M780.9 204.8h0M781 204h0M781 204.3h0M781.1 204.8h0M781.1 201.5h0M781.2 203.9h0M781.3 203.7h0M781.3 202.4h0M781.4 202.1h0M781.5 199.2h0M781.5 198.3h0M781.6 194.5h0M781.6 191.7h0M781.7 189.3h0M781.8 184.1h0M781.8 182.4h0M781.9 180.1h0M781.9 177.3h0M782 179h0M782.1 179.2h0M782.1 182.1h0M782.2 185.5h0M782.3 185.8h0M782.3 189.2h0M782.4 192.8h0M782.4 194.6h0M782.5 198.1h0M782.6 200.5h0M782.6 200.3h0M782.7 202h0M782.7 203h0M782.8 204.6h0M782.9 204.5h0M782.9 203.8h0M783 205h0M783 204.4h0M783.1 204.8h0M783.2 204.3h0M783.2 202.8h0M783.3 202.7h0M783.3 204.9h0M783.4 203.2h0M783.5 203.5h0M783.5 204.4h0M783.6 204.6h0M783.6 205.1h0M783.7 203.3h0M783.8 203.4h0M783.8 204.4h0M783.9 201.4h0M783.9 202.2h0M784 201h0M784.1 200.9h0M784.1 198h0M784.2 199.3h0M784.2 197.5h0M784.3 196.1h0M784.4 196.5h0M784.4 197.6h0M784.5 198.2h0M784.5 198.1h0M784.6 198.4h0M784.6 200.7h0M784.7 199.7h0M784.8 197.9h0M784.8 197.6h0M784.9 194.1h0M784.9 191.3h0M785 187h0M785.1 183.3h0M785.1 182.5h0M785.2 179.9h0M785.2 179.1h0M785.3 183.2h0M785.3 184.8h0M785.4 187.3h0M785.5 189.7h0M785.5 193.8h0M785.6 197.1h0M785.6 200.3h0M785.7 200.9h0M785.7 202h0M785.8 203.3h0M785.9 202h0M785.9 204.8h0M786 203.7h0M786 205.5h0M786.1 203.7h0M786.1 204.4h0M786.2 203.7h0M786.3 205.1h0M786.3 204.4h0M786.4 205.5h0M786.4 204.3h0M786.5 204.8h0M786.5 204.1h0M786.6 203.9h0M786.7 203.9h0M786.7 205.1h0M786.8 204.3h0M786.8 203.5h0M786.9 203.2h0M786.9 202.7h0M787 200.5h0M787.1 201h0M787.1 200h0M787.2 199.8h0M787.2 196.8h0M787.3 199.1h0M787.3 197.9h0M787.4 198.1h0M787.4 198.3h0M787.5 198.5h0M787.6 199.8h0M787.6 202.3h0M787.7 201.8h0M787.7 201.8h0M787.8 203.3h0M787.8 203.9h0M787.9 203h0M787.9 205.1h0M788 203.1h0M788 204h0M788.1 204.4h0M788.2 204.5h0M788.2 204.2h0M788.3 204.4h0M788.3 203.6h0M788.4 203.4h0M788.4 205h0M788.5 204.7h0M788.5 205.7h0M788.6 206.6h0M788.6 203.2h0M788.7 203.9h0M788.8 203.7h0M788.8 203.3h0M788.9 203.7h0M788.9 204.3h0M789 204.8h0M789 205.7h0M789.1 204.2h0M789.1 205.4h0M789.2 203.6h0M789.2 204.3h0M789.3 204.2h0M789.3 203.4h0M789.4 204.6h0M789.4 204.2h0M789.5 203.4h0M789.6 203.2h0M789.6 202.9h0M789.7 201.7h0M789.7 201.1h0M789.8 197.8h0M789.8 196.2h0M789.9 193.9h0M789.9 194.6h0M790 192h0M790 190.9h0M790.1 190.6h0M790.1 192.7h0M790.2 191.7h0M790.2 195.8h0M790.3 196.5h0M790.3 198.7h0M790.4 198.9h0M790.4 199.6h0M790.5 201.8h0M790.5 202.8h0M790.6 201.9h0M790.6 202.8h0M790.7 204.1h0M790.7 203.5h0M790.8 204.1h0M790.9 202.5h0M790.9 205h0M791 204.8h0M791 206.3h0M791.1 203.6h0M791.1 204.6h0M791.2 204.2h0M791.2 203h0M791.3 204.3h0M791.3 204.4h0M791.4 204.3h0M791.4 203h0M791.5 202.6h0M791.5 204.9h0M791.6 204.7h0M791.6 204.7h0M791.7 202.6h0M791.7 203.4h0M791.8 202.8h0M791.8 202h0M791.9 203.5h0M791.9 202.3h0M792 200.8h0M792 198.3h0M792.1 200h0M792.1 196.8h0M792.2 198.7h0M792.2 198.8h0M792.3 199.2h0M792.3 200h0M792.4 200.2h0M792.4 201.7h0M792.5 202.2h0M792.5 201.9h0M792.6 202.3h0M792.6 202.4h0M792.7 204.1h0M792.7 203.9h0M792.7 203.5h0M792.8 204.4h0M792.8 204.3h0M792.9 203.3h0M792.9 204h0M793 203.7h0M793 204.4h0M793.1 204.3h0M793.1 204h0M793.2 202.3h0M793.2 202.8h0M793.3 203.4h0M793.3 203.4h0M793.4 203.5h0M793.4 202.6h0M793.5 201.1h0M793.5 199h0M793.6 195h0M793.6 193.7h0M793.7 187.2h0M793.7 183.2h0M793.8 178.2h0M793.8 174.8h0M793.9 170.4h0M793.9 170.5h0M793.9 171.6h0M794 173.5h0M794 176.4h0M794.1 180.1h0M794.1 185.5h0M794.2 188.8h0M794.2 194.7h0M794.3 195.9h0M794.3 199.4h0M794.4 200.3h0M794.4 202.3h0M794.5 202.9h0M794.5 203.2h0M794.6 204.9h0M794.6 203.4h0M794.6 205.1h0M794.7 205.8h0M794.7 203.1h0M794.8 204.4h0M794.8 202.9h0M794.9 203.4h0M794.9 203.6h0M795 204.8h0M795 205.1h0M795.1 205.1h0M795.1 204.8h0M795.1 204.3h0M795.2 203.8h0M795.2 205.6h0M795.3 204.7h0M795.3 203h0M795.4 204.4h0M795.4 204.2h0" fill="none" stroke="#e61e0e" stroke-width="6.8" stroke-linecap="round"/>
<polyline points="461.6,206 461.7,206 461.7,206 461.8,206 461.9,206 462,206 462.1,206 462.1,206 462.2,206 462.3,206 462.4,206 462.5,206 462.5,206 462.6,206 462.7,206 462.8,206 462.9,206 462.9,206 463,206 463.1,206 463.2,206 463.3,206 463.3,206 463.4,206 463.5,206 463.6,206 463.7,206 463.7,206 463.8,206 463.9,206 464,206 464.1,206 464.1,206 464.2,206 464.3,206 464.4,206 464.5,206 464.5,206 464.6,206 464.7,206 464.8,206 464.9,206 464.9,206 465,206 465.1,206 465.2,206 465.3,206 465.3,206 465.4,206 465.5,206 465.6,206 465.7,206 465.7,206 465.8,206 465.9,206 466,206 466.1,206 466.1,206 466.2,206 466.3,206 466.4,206 466.5,206 466.5,206 466.6,206 466.7,206 466.8,206 466.9,206 466.9,206 467,206 467.1,206 467.2,206 467.3,206 467.3,206 467.4,206 467.5,206 467.6,206 467.7,206 467.7,206 467.8,206 467.9,206 468,206 468.1,206 468.1,206 468.2,206 468.3,206 468.4,206 468.5,206 468.5,206 468.6,206 468.7,206 468.8,206 468.9,206 468.9,206 469,206 469.1,206 469.2,206 469.2,206 469.3,206 469.4,206 469.5,206 469.6,206 469.6,206 469.7,206 469.8,206 469.9,206 470,206 470,206 470.1,206 470.2,206 470.3,206 470.4,206 470.4,206 470.5,206 470.6,206 470.7,206 470.8,206 470.8,206 470.9,206 471,206 471.1,206 471.2,206 471.2,206 471.3,206 471.4,206 471.5,206 471.6,206 471.6,206 471.7,206 471.8,206 471.9,206 472,206 472,206 472.1,206 472.2,206 472.3,206 472.4,206 472.4,206 472.5,206 472.6,206 472.7,206 472.8,206 472.8,206 472.9,206 473,206 473.1,206 473.2,206 473.2,206 473.3,206 473.4,206 473.5,206 473.6,206 473.6,206 473.7,206 473.8,206 473.9,206 474,206 474,205.9 474.1,205.9 474.2,205.9 474.3,205.9 474.4,205.9 474.4,205.9 474.5,205.9 474.6,205.9 474.7,205.9 474.8,205.9 474.8,205.9 474.9,205.9 475,205.9 475.1,205.9 475.2,205.9 475.2,205.9 475.3,205.8 475.4,205.8 475.5,205.8 475.6,205.8 475.6,205.8 475.7,205.8 475.8,205.7 475.9,205.7 475.9,205.6 476,205.6 476.1,205.5 476.2,205.3 476.3,205.2 476.3,204.9 476.4,204.6 476.5,204.1 476.6,203.5 476.7,202.7 476.7,201.7 476.8,200.5 476.9,198.9 477,197 477.1,194.7 477.1,192 477.2,189 477.3,185.6 477.4,181.8 477.5,177.8 477.5,173.6 477.6,169.3 477.7,165.1 477.8,161.1 477.9,157.5 477.9,154.4 478,152.1 478.1,150.5 478.2,149.8 478.3,150 478.3,151.2 478.4,153.2 478.5,155.9 478.6,159.3 478.7,163.1 478.7,167.2 478.8,171.4 478.9,175.7 479,179.8 479.1,183.7 479.1,187.3 479.2,190.6 479.3,193.4 479.4,195.9 479.5,198 479.5,199.7 479.6,201.1 479.7,202.3 479.8,203.1 479.9,203.8 479.9,204.4 480,204.7 480.1,205 480.2,205.2 480.3,205.4 480.3,205.5 480.4,205.6 480.5,205.7 480.6,205.7 480.6,205.7 480.7,205.8 480.8,205.8 480.9,205.8 481,205.8 481,205.8 481.1,205.8 481.2,205.9 481.3,205.9 481.4,205.9 481.4,205.9 481.5,205.9 481.6,205.9 481.7,205.9 481.8,205.9 481.8,205.9 481.9,205.9 482,205.9 482.1,205.9 482.2,205.9 482.2,205.9 482.3,205.9 482.4,205.9 482.5,206 482.6,206 482.6,206 482.7,206 482.8,206 482.9,206 483,206 483,206 483.1,206 483.2,206 483.3,206 483.4,206 483.4,206 483.5,206 483.6,206 483.7,206 483.8,206 483.8,206 483.9,206 484,206 484.1,206 484.1,206 484.2,206 484.3,206 484.4,206 484.5,206 484.5,206 484.6,206 484.7,206 484.8,206 484.9,206 484.9,206 485,206 485.1,206 485.2,206 485.3,206 485.3,206 485.4,206 485.5,206 485.6,206 485.7,206 485.7,206 485.8,206 485.9,206 486,206 486.1,206 486.1,206 486.2,206 486.3,206 486.4,206 486.5,206 486.5,206 486.6,206 486.7,206 486.8,206 486.9,206 486.9,206 487,206 487.1,206 487.2,206 487.2,206 487.3,206 487.4,206 487.5,206 487.6,206 487.6,206 487.7,206 487.8,206 487.9,206 488,206 488,206 488.1,206 488.2,206 488.3,206 488.4,206 488.4,206 488.5,206 488.6,206 488.7,206 488.8,206 488.8,206 488.9,206 489,206 489.1,206 489.2,206 489.2,206 489.3,206 489.4,206 489.5,206 489.6,206 489.6,206 489.7,206 489.8,206 489.9,206 489.9,206 490,206 490.1,206 490.2,206 490.3,206 490.3,206 490.4,206 490.5,206 490.6,206 490.7,206 490.7,206 490.8,206 490.9,206 491,206 491.1,206 491.1,206 491.2,206 491.3,206 491.4,206 491.5,206 491.5,206 491.6,206 491.7,206 491.8,206 491.9,206 491.9,206 492,206 492.1,206 492.2,206 492.2,206 492.3,206 492.4,206 492.5,206 492.6,206 492.6,206 492.7,206 492.8,206 492.9,206 493,206 493,206 493.1,206 493.2,206 493.3,206 493.4,206 493.4,206 493.5,206 493.6,206 493.7,206 493.8,206 493.8,206 493.9,206 494,206 494.1,206 494.2,206 494.2,206 494.3,206 494.4,206 494.5,206 494.5,206 494.6,206 494.7,206 494.8,206 494.9,206 494.9,206 495,206 495.1,206 495.2,206 495.3,206 495.3,206 495.4,206 495.5,206 495.6,206 495.7,206 495.7,206 495.8,206 495.9,206 496,206 496.1,206 496.1,206 496.2,206 496.3,206 496.4,206 496.4,206 496.5,206 496.6,206 496.7,206 496.8,206 496.8,206 496.9,206 497,206 497.1,206 497.2,206 497.2,206 497.3,206 497.4,206 497.5,206 497.6,206 497.6,206 497.7,206 497.8,206 497.9,206 498,206 498,206 498.1,206 498.2,206 498.3,206 498.3,206 498.4,206 498.5,206 498.6,206 498.7,206 498.7,206 498.8,206 498.9,206 499,206 499.1,206 499.1,206 499.2,206 499.3,206 499.4,206 499.5,206 499.5,206 499.6,206 499.7,206 499.8,206 499.9,206 499.9,206 500,206 500.1,205.9 500.2,205.9 500.2,205.9 500.3,205.9 500.4,205.8 500.5,205.8 500.6,205.7 500.6,205.7 500.7,205.6 500.8,205.5 500.9,205.5 501,205.4 501,205.3 501.1,205.2 501.2,205.1 501.3,205 501.4,204.9 501.4,204.9 501.5,204.8 501.6,204.7 501.7,204.7 501.7,204.7 501.8,204.7 501.9,204.7 502,204.7 502.1,204.8 502.1,204.8 502.2,204.9 502.3,205 502.4,205.1 502.5,205.2 502.5,205.2 502.6,205.3 502.7,205.4 502.8,205.5 502.9,205.6 502.9,205.6 503,205.7 503.1,205.7 503.2,205.8 503.2,205.8 503.3,205.9 503.4,205.9 503.5,205.9 503.6,205.9 503.6,205.9 503.7,206 503.8,206 503.9,206 504,206 504,206 504.1,206 504.2,206 504.3,206 504.4,206 504.4,206 504.5,206 504.6,206 504.7,206 504.7,206 504.8,206 504.9,206 505,206 505.1,206 505.1,206 505.2,206 505.3,206 505.4,206 505.5,206 505.5,206 505.6,206 505.7,206 505.8,206 505.9,205.9 505.9,205.9 506,205.9 506.1,205.9 506.2,205.9 506.2,205.9 506.3,205.9 506.4,205.9 506.5,205.9 506.6,205.9 506.6,205.9 506.7,205.9 506.8,205.9 506.9,205.9 507,205.9 507,205.9 507.1,205.9 507.2,205.9 507.3,205.9 507.3,205.9 507.4,205.9 507.5,205.9 507.6,205.9 507.7,205.9 507.7,205.9 507.8,205.9 507.9,205.8 508,205.8 508.1,205.8 508.1,205.8 508.2,205.8 508.3,205.8 508.4,205.8 508.5,205.8 508.5,205.7 508.6,205.7 508.7,205.7 508.8,205.6 508.8,205.6 508.9,205.5 509,205.4 509.1,205.3 509.2,205.1 509.2,204.9 509.3,204.7 509.4,204.3 509.5,203.9 509.6,203.4 509.6,202.8 509.7,202 509.8,201.1 509.9,200.1 509.9,198.9 510,197.6 510.1,196 510.2,194.4 510.3,192.6 510.3,190.6 510.4,188.6 510.5,186.6 510.6,184.5 510.7,182.5 510.7,180.6 510.8,178.8 510.9,177.3 511,176 511,175 511.1,174.3 511.2,174 511.3,174 511.4,174.4 511.4,175.1 511.5,176 511.6,177.2 511.7,178.5 511.8,180 511.8,181.5 511.9,183 512,184.5 512.1,185.9 512.1,187.2 512.2,188.4 512.3,189.5 512.4,190.4 512.5,191.2 512.5,191.8 512.6,192.4 512.7,192.7 512.8,193 512.9,193.2 512.9,193.2 513,193.1 513.1,192.9 513.2,192.5 513.2,192 513.3,191.4 513.4,190.6 513.5,189.6 513.6,188.4 513.6,187.2 513.7,185.8 513.8,184.3 513.9,182.8 514,181.3 514,179.8 514.1,178.5 514.2,177.3 514.3,176.4 514.3,175.7 514.4,175.4 514.5,175.4 514.6,175.7 514.7,176.3 514.7,177.3 514.8,178.6 514.9,180.1 515,181.9 515.1,183.7 515.1,185.7 515.2,187.7 515.3,189.7 515.4,191.6 515.4,193.4 515.5,195.1 515.6,196.7 515.7,198.2 515.8,199.4 515.8,200.6 515.9,201.5 516,202.3 516.1,203 516.2,203.6 516.2,204.1 516.3,204.4 516.4,204.7 516.5,205 516.5,205.2 516.6,205.3 516.7,205.4 516.8,205.5 516.9,205.6 516.9,205.6 517,205.6 517.1,205.7 517.2,205.7 517.2,205.7 517.3,205.7 517.4,205.7 517.5,205.7 517.6,205.8 517.6,205.8 517.7,205.8 517.8,205.8 517.9,205.8 518,205.8 518,205.8 518.1,205.8 518.2,205.8 518.3,205.8 518.3,205.8 518.4,205.8 518.5,205.8 518.6,205.8 518.7,205.8 518.7,205.8 518.8,205.8 518.9,205.8 519,205.8 519.1,205.8 519.1,205.8 519.2,205.8 519.3,205.8 519.4,205.8 519.4,205.8 519.5,205.8 519.6,205.8 519.7,205.8 519.8,205.8 519.8,205.8 519.9,205.8 520,205.8 520.1,205.8 520.1,205.8 520.2,205.8 520.3,205.8 520.4,205.8 520.5,205.8 520.5,205.8 520.6,205.8 520.7,205.8 520.8,205.8 520.9,205.8 520.9,205.8 521,205.8 521.1,205.8 521.2,205.8 521.2,205.8 521.3,205.8 521.4,205.8 521.5,205.8 521.6,205.8 521.6,205.8 521.7,205.8 521.8,205.8 521.9,205.8 521.9,205.8 522,205.8 522.1,205.8 522.2,205.8 522.3,205.8 522.3,205.8 522.4,205.8 522.5,205.8 522.6,205.8 522.6,205.8 522.7,205.8 522.8,205.8 522.9,205.8 523,205.7 523,205.7 523.1,205.7 523.2,205.7 523.3,205.7 523.4,205.6 523.4,205.6 523.5,205.5 523.6,205.4 523.7,205.3 523.7,205.2 523.8,205 523.9,204.8 524,204.5 524.1,204.1 524.1,203.7 524.2,203.1 524.3,202.5 524.4,201.8 524.4,201 524.5,200.1 524.6,199.1 524.7,198.1 524.8,196.9 524.8,195.8 524.9,194.6 525,193.5 525.1,192.4 525.1,191.5 525.2,190.7 525.3,190 525.4,189.6 525.5,189.3 525.5,189.3 525.6,189.5 525.7,190 525.8,190.6 525.8,191.4 525.9,192.4 526,193.4 526.1,194.5 526.2,195.7 526.2,196.8 526.3,197.9 526.4,199 526.5,200 526.5,200.9 526.6,201.7 526.7,202.4 526.8,203 526.9,203.5 526.9,204 527,204.3 527.1,204.6 527.2,204.9 527.3,205 527.3,205.2 527.4,205.3 527.5,205.4 527.6,205.4 527.6,205.5 527.7,205.5 527.8,205.5 527.9,205.5 528,205.5 528,205.6 528.1,205.6 528.2,205.6 528.3,205.5 528.3,205.5 528.4,205.5 528.5,205.5 528.6,205.5 528.7,205.5 528.7,205.5 528.8,205.5 528.9,205.5 529,205.5 529,205.5 529.1,205.5 529.2,205.4 529.3,205.4 529.4,205.4 529.4,205.4 529.5,205.4 529.6,205.4 529.7,205.3 529.7,205.3 529.8,205.3 529.9,205.3 530,205.2 530.1,205.2 530.1,205.2 530.2,205.1 530.3,205.1 530.4,205 530.4,204.9 530.5,204.8 530.6,204.7 530.7,204.6 530.8,204.4 530.8,204.1 530.9,203.7 531,203.1 531.1,202.4 531.1,201.5 531.2,200.2 531.3,198.5 531.4,196.4 531.5,193.7 531.5,190.3 531.6,186 531.7,180.9 531.8,174.8 531.8,167.7 531.9,159.5 532,150.2 532.1,139.9 532.2,128.8 532.2,117.1 532.3,104.9 532.4,92.7 532.5,80.8 532.5,69.6 532.6,59.6 532.7,51 532.8,44.3 532.8,39.9 532.9,37.9 533,38.4 533.1,41.4 533.2,46.7 533.2,54.1 533.3,63.3 533.4,73.9 533.5,85.4 533.5,97.4 533.6,109.7 533.7,121.7 533.8,133.2 533.9,144 533.9,153.8 534,162.7 534.1,170.5 534.2,177.2 534.2,182.9 534.3,187.7 534.4,191.6 534.5,194.7 534.6,197.2 534.6,199.2 534.7,200.7 534.8,201.8 534.9,202.7 534.9,203.3 535,203.8 535.1,204.2 535.2,204.4 535.3,204.6 535.3,204.8 535.4,204.9 535.5,204.9 535.6,205 535.6,205.1 535.7,205.1 535.8,205.2 535.9,205.2 535.9,205.2 536,205.3 536.1,205.3 536.2,205.3 536.3,205.3 536.3,205.3 536.4,205.4 536.5,205.4 536.6,205.4 536.6,205.4 536.7,205.4 536.8,205.4 536.9,205.5 537,205.5 537,205.5 537.1,205.5 537.2,205.5 537.3,205.5 537.3,205.5 537.4,205.5 537.5,205.5 537.6,205.5 537.7,205.6 537.7,205.6 537.8,205.6 537.9,205.6 538,205.6 538,205.6 538.1,205.6 538.2,205.6 538.3,205.6 538.3,205.6 538.4,205.6 538.5,205.6 538.6,205.6 538.7,205.6 538.7,205.6 538.8,205.6 538.9,205.6 539,205.6 539,205.6 539.1,205.6 539.2,205.6 539.3,205.6 539.4,205.6 539.4,205.6 539.5,205.6 539.6,205.7 539.7,205.7 539.7,205.7 539.8,205.7 539.9,205.7 540,205.7 540,205.7 540.1,205.7 540.2,205.7 540.3,205.7 540.4,205.7 540.4,205.7 540.5,205.7 540.6,205.7 540.7,205.7 540.7,205.7 540.8,205.7 540.9,205.7 541,205.7 541,205.7 541.1,205.7 541.2,205.7 541.3,205.6 541.4,205.6 541.4,205.6 541.5,205.6 541.6,205.6 541.7,205.6 541.7,205.6 541.8,205.6 541.9,205.6 542,205.6 542.1,205.6 542.1,205.5 542.2,205.5 542.3,205.4 542.4,205.4 542.4,205.3 542.5,205.2 542.6,205 542.7,204.8 542.7,204.5 542.8,204.2 542.9,203.8 543,203.4 543.1,202.8 543.1,202.2 543.2,201.5 543.3,200.8 543.4,199.9 543.4,199.1 543.5,198.2 543.6,197.3 543.7,196.5 543.7,195.7 543.8,195.1 543.9,194.6 544,194.2 544.1,194 544.1,193.9 544.2,194.1 544.3,194.4 544.4,194.9 544.4,195.6 544.5,196.3 544.6,197.1 544.7,198 544.7,198.9 544.8,199.7 544.9,200.5 545,201.3 545.1,202 545.1,202.6 545.2,203.2 545.3,203.7 545.4,204.1 545.4,204.4 545.5,204.7 545.6,204.9 545.7,205 545.7,205.2 545.8,205.3 545.9,205.3 546,205.4 546.1,205.4 546.1,205.5 546.2,205.5 546.3,205.5 546.4,205.5 546.4,205.5 546.5,205.5 546.6,205.5 546.7,205.5 546.7,205.5 546.8,205.5 546.9,205.5 547,205.4 547.1,205.4 547.1,205.4 547.2,205.4 547.3,205.4 547.4,205.4 547.4,205.4 547.5,205.3 547.6,205.3 547.7,205.3 547.7,205.3 547.8,205.2 547.9,205.2 548,205.1 548,205 548.1,204.8 548.2,204.7 548.3,204.4 548.4,204 548.4,203.5 548.5,202.9 548.6,202 548.7,200.9 548.7,199.4 548.8,197.6 548.9,195.4 549,192.6 549,189.3 549.1,185.5 549.2,181 549.3,176.1 549.4,170.6 549.4,164.7 549.5,158.5 549.6,152.2 549.7,146 549.7,140.1 549.8,134.7 549.9,130 550,126.3 550,123.8 550.1,122.5 550.2,122.6 550.3,124 550.3,126.7 550.4,130.5 550.5,135.3 550.6,140.7 550.7,146.7 550.7,152.9 550.8,159.2 550.9,165.3 551,171.2 551,176.6 551.1,181.5 551.2,185.9 551.3,189.6 551.3,192.9 551.4,195.6 551.5,197.8 551.6,199.5 551.6,201 551.7,202.1 551.8,202.9 551.9,203.5 552,204 552,204.3 552.1,204.6 552.2,204.8 552.3,204.9 552.3,205 552.4,205.1 552.5,205.1 552.6,205.2 552.6,205.2 552.7,205.2 552.8,205.2 552.9,205.3 552.9,205.3 553,205.3 553.1,205.3 553.2,205.3 553.3,205.3 553.3,205.3 553.4,205.3 553.5,205.3 553.6,205.3 553.6,205.2 553.7,205.2 553.8,205.2 553.9,205.1 553.9,205 554,204.8 554.1,204.7 554.2,204.4 554.2,204.1 554.3,203.7 554.4,203.2 554.5,202.6 554.5,201.9 554.6,201.1 554.7,200.2 554.8,199.1 554.9,198 554.9,196.8 555,195.6 555.1,194.3 555.2,193.1 555.2,192 555.3,191 555.4,190.2 555.5,189.6 555.5,189.2 555.6,189.1 555.7,189.3 555.8,189.8 555.8,190.4 555.9,191.3 556,192.3 556.1,193.5 556.1,194.7 556.2,195.9 556.3,197.1 556.4,198.3 556.5,199.4 556.5,200.4 556.6,201.2 556.7,202 556.8,202.6 556.8,203.2 556.9,203.6 557,203.9 557.1,204.2 557.1,204.4 557.2,204.5 557.3,204.6 557.4,204.6 557.4,204.6 557.5,204.6 557.6,204.5 557.7,204.3 557.7,204 557.8,203.7 557.9,203.2 558,202.5 558,201.5 558.1,200.3 558.2,198.6 558.3,196.4 558.4,193.6 558.4,190.2 558.5,185.9 558.6,180.8 558.7,174.8 558.7,167.9 558.8,160 558.9,151.4 559,142.2 559,132.5 559.1,122.7 559.2,113 559.3,103.9 559.3,95.7 559.4,88.8 559.5,83.5 559.6,80.2 559.6,78.9 559.7,79.8 559.8,82.8 559.9,87.8 559.9,94.5 560,102.5 560.1,111.4 560.2,121 560.3,130.8 560.3,140.5 560.4,149.9 560.5,158.6 560.6,166.5 560.6,173.6 560.7,179.8 560.8,185 560.9,189.4 560.9,193 561,195.9 561.1,198.2 561.2,199.9 561.2,201.3 561.3,202.3 561.4,203 561.5,203.6 561.5,204 561.6,204.3 561.7,204.5 561.8,204.6 561.8,204.7 561.9,204.8 562,204.9 562.1,204.9 562.1,204.9 562.2,205 562.3,205 562.4,205 562.4,205 562.5,205 562.6,205 562.7,205 562.8,205 562.8,204.9 562.9,204.9 563,204.8 563.1,204.7 563.1,204.6 563.2,204.3 563.3,204 563.4,203.6 563.4,203 563.5,202.3 563.6,201.3 563.7,200 563.7,198.3 563.8,196.4 563.9,194 564,191.1 564,187.9 564.1,184.2 564.2,180.2 564.3,175.9 564.3,171.5 564.4,167.1 564.5,162.8 564.6,158.9 564.6,155.4 564.7,152.7 564.8,150.8 564.9,149.9 564.9,149.9 565,151 565.1,153 565.2,155.8 565.2,159.3 565.3,163.3 565.4,167.6 565.5,172 565.5,176.5 565.6,180.7 565.7,184.7 565.8,188.3 565.8,191.5 565.9,194.3 566,196.7 566.1,198.6 566.1,200.2 566.2,201.5 566.3,202.5 566.4,203.2 566.5,203.8 566.5,204.2 566.6,204.6 566.7,204.8 566.8,204.9 566.8,205.1 566.9,205.1 567,205.2 567.1,205.3 567.1,205.3 567.2,205.3 567.3,205.3 567.4,205.4 567.4,205.4 567.5,205.4 567.6,205.4 567.7,205.4 567.7,205.4 567.8,205.4 567.9,205.4 568,205.4 568,205.4 568.1,205.5 568.2,205.5 568.3,205.5 568.3,205.5 568.4,205.5 568.5,205.5 568.6,205.5 568.6,205.5 568.7,205.5 568.8,205.5 568.9,205.5 568.9,205.5 569,205.5 569.1,205.5 569.2,205.5 569.2,205.5 569.3,205.5 569.4,205.5 569.5,205.5 569.5,205.5 569.6,205.5 569.7,205.5 569.8,205.5 569.8,205.5 569.9,205.5 570,205.5 570.1,205.5 570.1,205.5 570.2,205.5 570.3,205.5 570.4,205.5 570.4,205.5 570.5,205.5 570.6,205.5 570.7,205.5 570.7,205.5 570.8,205.5 570.9,205.5 571,205.5 571,205.5 571.1,205.5 571.2,205.5 571.3,205.5 571.3,205.5 571.4,205.5 571.5,205.5 571.6,205.5 571.6,205.5 571.7,205.5 571.8,205.4 571.9,205.4 571.9,205.3 572,205.2 572.1,205.1 572.2,205 572.2,204.8 572.3,204.6 572.4,204.3 572.5,203.9 572.5,203.5 572.6,203 572.7,202.4 572.8,201.8 572.8,201.2 572.9,200.6 573,199.9 573.1,199.3 573.1,198.8 573.2,198.4 573.3,198.1 573.4,197.9 573.4,197.9 573.5,198.1 573.6,198.4 573.7,198.8 573.7,199.3 573.8,199.9 573.9,200.5 574,201.1 574,201.8 574.1,202.4 574.2,202.9 574.3,203.4 574.3,203.8 574.4,204.2 574.5,204.5 574.6,204.8 574.6,205 574.7,205.1 574.8,205.2 574.9,205.3 574.9,205.4 575,205.4 575.1,205.5 575.2,205.5 575.2,205.5 575.3,205.5 575.4,205.5 575.5,205.5 575.5,205.5 575.6,205.5 575.7,205.5 575.8,205.5 575.8,205.5 575.9,205.5 576,205.5 576,205.5 576.1,205.5 576.2,205.5 576.3,205.5 576.3,205.5 576.4,205.5 576.5,205.5 576.6,205.5 576.6,205.5 576.7,205.5 576.8,205.5 576.9,205.5 576.9,205.5 577,205.5 577.1,205.5 577.2,205.5 577.2,205.5 577.3,205.5 577.4,205.5 577.5,205.5 577.5,205.5 577.6,205.5 577.7,205.4 577.8,205.4 577.8,205.4 577.9,205.4 578,205.4 578.1,205.4 578.1,205.3 578.2,205.2 578.3,205.2 578.4,205 578.4,204.8 578.5,204.6 578.6,204.2 578.7,203.7 578.7,203.1 578.8,202.2 578.9,201.2 579,199.8 579,198.2 579.1,196.3 579.2,194.2 579.3,191.8 579.3,189.2 579.4,186.5 579.5,183.8 579.5,181.3 579.6,179 579.7,177.1 579.8,175.6 579.8,174.8 579.9,174.7 580,175.2 580.1,176.3 580.1,178 580.2,180.1 580.3,182.6 580.4,185.2 580.4,187.9 580.5,190.5 580.6,193 580.7,195.3 580.7,197.3 580.8,199.1 580.9,200.5 581,201.7 581,202.7 581.1,203.4 581.2,204 581.3,204.4 581.3,204.7 581.4,204.9 581.5,205.1 581.6,205.2 581.6,205.3 581.7,205.3 581.8,205.4 581.8,205.4 581.9,205.4 582,205.4 582.1,205.4 582.1,205.4 582.2,205.4 582.3,205.4 582.4,205.5 582.4,205.5 582.5,205.5 582.6,205.5 582.7,205.5 582.7,205.5 582.8,205.5 582.9,205.5 583,205.5 583,205.5 583.1,205.5 583.2,205.5 583.3,205.5 583.3,205.5 583.4,205.5 583.5,205.5 583.5,205.5 583.6,205.5 583.7,205.5 583.8,205.5 583.8,205.5 583.9,205.5 584,205.5 584.1,205.5 584.1,205.5 584.2,205.5 584.3,205.5 584.4,205.5 584.4,205.5 584.5,205.5 584.6,205.5 584.7,205.5 584.7,205.5 584.8,205.5 584.9,205.5 585,205.5 585,205.5 585.1,205.5 585.2,205.5 585.2,205.5 585.3,205.5 585.4,205.5 585.5,205.5 585.5,205.5 585.6,205.5 585.7,205.5 585.8,205.5 585.8,205.5 585.9,205.5 586,205.5 586.1,205.5 586.1,205.5 586.2,205.5 586.3,205.5 586.4,205.5 586.4,205.5 586.5,205.5 586.6,205.5 586.6,205.5 586.7,205.5 586.8,205.5 586.9,205.5 586.9,205.5 587,205.5 587.1,205.5 587.2,205.4 587.2,205.4 587.3,205.4 587.4,205.4 587.5,205.4 587.5,205.4 587.6,205.4 587.7,205.4 587.8,205.4 587.8,205.4 587.9,205.4 588,205.4 588,205.4 588.1,205.4 588.2,205.3 588.3,205.3 588.3,205.3 588.4,205.3 588.5,205.2 588.6,205.2 588.6,205.1 588.7,204.9 588.8,204.7 588.9,204.5 588.9,204 589,203.5 589.1,202.7 589.1,201.6 589.2,200.2 589.3,198.4 589.4,196.2 589.4,193.5 589.5,190.4 589.6,186.9 589.7,183.1 589.7,179.2 589.8,175.2 589.9,171.5 590,168.2 590,165.5 590.1,163.7 590.2,162.8 590.3,163 590.3,164.2 590.4,166.4 590.5,169.3 590.5,172.8 590.6,176.6 590.7,180.6 590.8,184.5 590.8,188.2 590.9,191.6 591,194.5 591.1,197 591.1,199 591.2,200.7 591.3,202 591.3,202.9 591.4,203.7 591.5,204.2 591.6,204.5 591.6,204.8 591.7,205 591.8,205.1 591.9,205.2 591.9,205.2 592,205.3 592.1,205.3 592.2,205.3 592.2,205.3 592.3,205.3 592.4,205.3 592.4,205.4 592.5,205.4 592.6,205.4 592.7,205.4 592.7,205.4 592.8,205.4 592.9,205.4 593,205.4 593,205.4 593.1,205.4 593.2,205.4 593.3,205.4 593.3,205.4 593.4,205.4 593.5,205.4 593.5,205.4 593.6,205.4 593.7,205.4 593.8,205.4 593.8,205.4 593.9,205.4 594,205.4 594.1,205.4 594.1,205.4 594.2,205.4 594.3,205.4 594.3,205.4 594.4,205.4 594.5,205.4 594.6,205.4 594.6,205.4 594.7,205.4 594.8,205.4 594.9,205.4 594.9,205.4 595,205.4 595.1,205.4 595.1,205.4 595.2,205.4 595.3,205.4 595.4,205.4 595.4,205.4 595.5,205.4 595.6,205.4 595.7,205.4 595.7,205.4 595.8,205.4 595.9,205.4 595.9,205.4 596,205.4 596.1,205.4 596.2,205.4 596.2,205.4 596.3,205.4 596.4,205.4 596.5,205.4 596.5,205.4 596.6,205.4 596.7,205.4 596.7,205.4 596.8,205.4 596.9,205.4 597,205.4 597,205.4 597.1,205.4 597.2,205.4 597.3,205.4 597.3,205.4 597.4,205.4 597.5,205.4 597.5,205.4 597.6,205.4 597.7,205.4 597.8,205.4 597.8,205.4 597.9,205.4 598,205.4 598.1,205.4 598.1,205.4 598.2,205.4 598.3,205.4 598.3,205.4 598.4,205.4 598.5,205.4 598.6,205.4 598.6,205.4 598.7,205.4 598.8,205.4 598.9,205.3 598.9,205.3 599,205.3 599.1,205.3 599.1,205.3 599.2,205.3 599.3,205.3 599.4,205.2 599.4,205.2 599.5,205.1 599.6,205 599.6,204.9 599.7,204.7 599.8,204.3 599.9,203.9 599.9,203.3 600,202.4 600.1,201.2 600.2,199.7 600.2,197.9 600.3,195.7 600.4,193 600.4,190.1 600.5,187 600.6,183.7 600.7,180.5 600.7,177.6 600.8,175.1 600.9,173.3 601,172.2 601,172 601.1,172.8 601.2,174.3 601.2,176.6 601.3,179.4 601.4,182.5 601.5,185.7 601.5,188.9 601.6,191.9 601.7,194.7 601.7,197 601.8,199 601.9,200.7 602,201.9 602,202.9 602.1,203.6 602.2,204.2 602.2,204.5 602.3,204.8 602.4,205 602.5,205.1 602.5,205.1 602.6,205.2 602.7,205.2 602.8,205.2 602.8,205.3 602.9,205.3 603,205.3 603,205.3 603.1,205.3 603.2,205.3 603.3,205.3 603.3,205.3 603.4,205.3 603.5,205.3 603.5,205.3 603.6,205.3 603.7,205.3 603.8,205.3 603.8,205.3 603.9,205.3 604,205.3 604,205.3 604.1,205.3 604.2,205.3 604.3,205.3 604.3,205.3 604.4,205.3 604.5,205.3 604.6,205.3 604.6,205.3 604.7,205.3 604.8,205.3 604.8,205.3 604.9,205.3 605,205.3 605.1,205.3 605.1,205.3 605.2,205.3 605.3,205.3 605.3,205.3 605.4,205.3 605.5,205.3 605.6,205.3 605.6,205.3 605.7,205.3 605.8,205.3 605.8,205.3 605.9,205.3 606,205.2 606.1,205.2 606.1,205.2 606.2,205.2 606.3,205.2 606.3,205.1 606.4,205 606.5,204.9 606.6,204.7 606.6,204.5 606.7,204.1 606.8,203.5 606.8,202.8 606.9,201.8 607,200.5 607.1,198.8 607.1,196.9 607.2,194.6 607.3,192 607.4,189.3 607.4,186.5 607.5,183.8 607.6,181.3 607.6,179.3 607.7,178 607.8,177.4 607.9,177.5 607.9,178.5 608,180.1 608.1,182.3 608.1,184.9 608.2,187.6 608.3,190.4 608.4,193.1 608.4,195.5 608.5,197.7 608.6,199.5 608.6,201 608.7,202.1 608.8,203 608.9,203.6 608.9,204.1 609,204.4 609.1,204.6 609.1,204.8 609.2,204.9 609.3,204.9 609.4,205 609.4,205 609.5,205 609.6,205 609.6,205 609.7,204.9 609.8,204.9 609.9,204.9 609.9,204.9 610,204.8 610.1,204.8 610.1,204.7 610.2,204.6 610.3,204.4 610.3,204.1 610.4,203.7 610.5,203 610.6,202.1 610.6,200.6 610.7,198.6 610.8,195.8 610.8,192.1 610.9,187.2 611,181.1 611.1,173.8 611.1,165.3 611.2,155.8 611.3,145.7 611.3,135.5 611.4,125.8 611.5,117.2 611.6,110.5 611.6,106.3 611.7,104.9 611.8,106.4 611.8,110.8 611.9,117.5 612,126.1 612.1,135.8 612.1,146 612.2,156.1 612.3,165.5 612.3,174 612.4,181.3 612.5,187.4 612.6,192.2 612.6,195.9 612.7,198.7 612.8,200.7 612.8,202.1 612.9,203.1 613,203.7 613.1,204.1 613.1,204.4 613.2,204.6 613.3,204.7 613.3,204.8 613.4,204.9 613.5,204.9 613.5,204.9 613.6,205 613.7,205 613.8,205 613.8,205 613.9,205.1 614,205.1 614,205.1 614.1,205.1 614.2,205.1 614.3,205.1 614.3,205.1 614.4,205.1 614.5,205.1 614.5,205.1 614.6,205.2 614.7,205.2 614.8,205.2 614.8,205.2 614.9,205.2 615,205.2 615,205.2 615.1,205.2 615.2,205.2 615.2,205.2 615.3,205.2 615.4,205.2 615.5,205.2 615.5,205.2 615.6,205.2 615.7,205.2 615.7,205.1 615.8,205.1 615.9,205.1 616,205.1 616,205.1 616.1,205.1 616.2,205.1 616.2,205 616.3,205 616.4,204.9 616.4,204.7 616.5,204.5 616.6,204.1 616.7,203.6 616.7,202.9 616.8,201.9 616.9,200.5 616.9,198.8 617,196.6 617.1,193.9 617.2,190.9 617.2,187.5 617.3,183.9 617.4,180.3 617.4,176.9 617.5,173.9 617.6,171.7 617.6,170.3 617.7,170 617.8,170.8 617.9,172.5 617.9,175.1 618,178.2 618.1,181.7 618.1,185.3 618.2,188.9 618.3,192.1 618.3,195 618.4,197.5 618.5,199.5 618.6,201 618.6,202.2 618.7,203 618.8,203.6 618.8,203.9 618.9,204.1 619,204.1 619.1,204.1 619.1,204 619.2,203.8 619.3,203.6 619.3,203.5 619.4,203.3 619.5,203.2 619.5,203.1 619.6,203.1 619.7,203.1 619.8,203.2 619.8,203.3 619.9,203.5 620,203.6 620,203.8 620.1,203.9 620.2,204 620.2,203.9 620.3,203.8 620.4,203.4 620.5,202.8 620.5,201.9 620.6,200.5 620.7,198.7 620.7,196.2 620.8,193.1 620.9,189.3 620.9,184.9 621,179.9 621.1,174.6 621.2,169.2 621.2,164 621.3,159.5 621.4,155.9 621.4,153.6 621.5,152.9 621.6,153.8 621.6,156.1 621.7,159.7 621.8,164.2 621.9,169.3 621.9,174.5 622,179.5 622.1,184.2 622.1,188.2 622.2,191.5 622.3,194.1 622.3,196.1 622.4,197.5 622.5,198.5 622.6,199.1 622.6,199.6 622.7,200 622.8,200.3 622.8,200.7 622.9,201.1 623,201.5 623,202 623.1,202.5 623.2,203 623.2,203.4 623.3,203.8 623.4,204.1 623.5,204.4 623.5,204.6 623.6,204.8 623.7,204.9 623.7,205 623.8,205.1 623.9,205.1 623.9,205.1 624,205.2 624.1,205.2 624.2,205.2 624.2,205.2 624.3,205.2 624.4,205.2 624.4,205.2 624.5,205.2 624.6,205.1 624.6,205.1 624.7,205 624.8,204.9 624.9,204.7 624.9,204.5 625,204.3 625.1,204 625.1,203.6 625.2,203.2 625.3,202.8 625.3,202.4 625.4,202 625.5,201.7 625.5,201.4 625.6,201.3 625.7,201.3 625.8,201.3 625.8,201.5 625.9,201.8 626,202.2 626,202.5 626.1,202.9 626.2,203.3 626.2,203.6 626.3,203.8 626.4,204 626.4,204.1 626.5,204.2 626.6,204.2 626.7,204.2 626.7,204.2 626.8,204.2 626.9,204.2 626.9,204.2 627,204.3 627.1,204.3 627.1,204.4 627.2,204.5 627.3,204.6 627.3,204.7 627.4,204.8 627.5,204.9 627.6,205 627.6,205 627.7,205.1 627.8,205.1 627.8,205.1 627.9,205.1 628,205.1 628,205.1 628.1,205.1 628.2,205.1 628.2,205.1 628.3,205.1 628.4,205.1 628.5,205.1 628.5,205.1 628.6,205.1 628.7,205.1 628.7,205 628.8,205 628.9,205 628.9,205 629,205 629.1,204.9 629.1,204.9 629.2,204.8 629.3,204.7 629.4,204.5 629.4,204.3 629.5,203.9 629.6,203.4 629.6,202.5 629.7,201.3 629.8,199.6 629.8,197.2 629.9,194 630,189.9 630,184.8 630.1,178.6 630.2,171.5 630.2,163.7 630.3,155.5 630.4,147.3 630.5,139.8 630.5,133.5 630.6,128.9 630.7,126.4 630.7,126.4 630.8,128.9 630.9,133.5 630.9,139.9 631,147.5 631.1,155.7 631.1,163.9 631.2,171.8 631.3,178.9 631.3,185.1 631.4,190.2 631.5,194.3 631.6,197.5 631.6,199.8 631.7,201.5 631.8,202.7 631.8,203.5 631.9,204 632,204.3 632,204.6 632.1,204.7 632.2,204.8 632.2,204.9 632.3,204.9 632.4,204.9 632.4,205 632.5,205 632.6,205 632.7,205 632.7,205 632.8,205 632.9,205.1 632.9,205.1 633,205.1 633.1,205 633.1,205 633.2,205 633.3,205 633.3,205 633.4,205 633.5,205 633.5,205 633.6,205 633.7,205 633.7,205 633.8,205 633.9,205 634,205 634,205 634.1,205.1 634.2,205.1 634.2,205.1 634.3,205.1 634.4,205.1 634.4,205.2 634.5,205.2 634.6,205.2 634.6,205.2 634.7,205.2 634.8,205.2 634.8,205.2 634.9,205.2 635,205.2 635,205.2 635.1,205.2 635.2,205.2 635.2,205.1 635.3,205.1 635.4,205.1 635.5,205 635.5,205 635.6,204.9 635.7,204.9 635.7,204.8 635.8,204.8 635.9,204.7 635.9,204.7 636,204.7 636.1,204.7 636.1,204.7 636.2,204.8 636.3,204.8 636.3,204.9 636.4,204.9 636.5,205 636.5,205 636.6,205.1 636.7,205.1 636.7,205.1 636.8,205.1 636.9,205.2 637,205.2 637,205.2 637.1,205.2 637.2,205.2 637.2,205.2 637.3,205.2 637.4,205.1 637.4,205.1 637.5,205.1 637.6,205.1 637.6,205 637.7,205 637.8,204.9 637.8,204.8 637.9,204.6 638,204.5 638,204.3 638.1,204 638.2,203.8 638.2,203.4 638.3,203.1 638.4,202.6 638.4,202.1 638.5,201.4 638.6,200.6 638.6,199.6 638.7,198.3 638.8,196.9 638.9,195.2 638.9,193.4 639,191.6 639.1,189.9 639.1,188.5 639.2,187.3 639.3,186.7 639.3,186.6 639.4,187.1 639.5,188.2 639.5,189.6 639.6,191.4 639.7,193.3 639.7,195.2 639.8,197.1 639.9,198.8 639.9,200.3 640,201.5 640.1,202.5 640.1,203.3 640.2,203.8 640.3,204.2 640.3,204.5 640.4,204.7 640.5,204.8 640.5,204.8 640.6,204.7 640.7,204.6 640.7,204.4 640.8,204.2 640.9,203.9 640.9,203.5 641,203.1 641.1,202.6 641.1,202.1 641.2,201.6 641.3,201.1 641.3,200.8 641.4,200.6 641.5,200.5 641.6,200.5 641.6,200.7 641.7,201 641.8,201.5 641.8,201.9 641.9,202.4 642,202.9 642,203.4 642.1,203.8 642.2,204.1 642.2,204.4 642.3,204.6 642.4,204.8 642.4,204.9 642.5,205 642.6,205 642.6,205.1 642.7,205.1 642.8,205.1 642.8,205.1 642.9,205.1 643,205.1 643,205.1 643.1,205.1 643.2,205.1 643.2,205.1 643.3,205 643.4,205 643.4,205 643.5,205 643.6,205 643.6,205 643.7,204.9 643.8,204.9 643.8,204.8 643.9,204.7 644,204.6 644,204.4 644.1,204.2 644.2,203.8 644.2,203.2 644.3,202.4 644.4,201.3 644.4,199.8 644.5,197.8 644.6,195.4 644.6,192.4 644.7,188.9 644.8,185.1 644.8,181 644.9,177 645,173.2 645,170.1 645.1,167.9 645.2,166.8 645.2,166.9 645.3,168.3 645.4,170.7 645.4,174 645.5,177.8 645.6,181.9 645.6,186 645.7,189.8 645.8,193.2 645.8,196.1 645.9,198.4 646,200.3 646,201.7 646.1,202.7 646.2,203.4 646.2,203.9 646.3,204.2 646.4,204.4 646.4,204.5 646.5,204.5 646.6,204.6 646.6,204.6 646.7,204.5 646.8,204.5 646.8,204.4 646.9,204.2 647,204 647,203.6 647.1,203.1 647.2,202.2 647.2,200.9 647.3,199.1 647.4,196.5 647.4,192.9 647.5,188.2 647.6,182.2 647.6,174.9 647.7,166.4 647.8,157 647.8,147 647.9,137 648,127.8 648,120 648.1,114.4 648.2,111.5 648.2,111.6 648.3,114.8 648.4,120.7 648.4,128.7 648.5,138 648.6,148 648.6,158 648.7,167.4 648.8,175.8 648.8,183 648.9,188.8 649,193.4 649,196.9 649.1,199.4 649.2,201.2 649.2,202.5 649.3,203.3 649.4,203.8 649.4,204.1 649.5,204.3 649.6,204.5 649.6,204.5 649.7,204.6 649.8,204.6 649.8,204.6 649.9,204.6 650,204.6 650,204.6 650.1,204.6 650.2,204.6 650.2,204.6 650.3,204.6 650.4,204.6 650.4,204.6 650.5,204.5 650.6,204.5 650.6,204.4 650.7,204.3 650.8,204.1 650.8,203.8 650.9,203.5 650.9,203.1 651,202.7 651.1,202.3 651.1,201.8 651.2,201.4 651.3,201.1 651.3,200.8 651.4,200.7 651.5,200.7 651.5,200.9 651.6,201.1 651.7,201.5 651.7,201.9 651.8,202.3 651.9,202.8 651.9,203.2 652,203.5 652.1,203.7 652.1,203.8 652.2,203.8 652.3,203.6 652.3,203.2 652.4,202.6 652.5,201.7 652.5,200.4 652.6,198.9 652.7,196.9 652.7,194.7 652.8,192.3 652.9,189.7 652.9,187.2 653,185 653.1,183.1 653.1,181.8 653.2,181.3 653.3,181.6 653.3,182.5 653.4,184.2 653.4,186.3 653.5,188.8 653.6,191.3 653.6,193.8 653.7,196.1 653.8,198.1 653.8,199.9 653.9,201.3 654,202.3 654,203.1 654.1,203.7 654.2,204.1 654.2,204.4 654.3,204.5 654.4,204.6 654.4,204.7 654.5,204.7 654.6,204.8 654.6,204.8 654.7,204.8 654.8,204.7 654.8,204.7 654.9,204.7 655,204.6 655,204.5 655.1,204.4 655.1,204.2 655.2,203.8 655.3,203.3 655.3,202.4 655.4,201.2 655.5,199.4 655.5,196.9 655.6,193.6 655.7,189.4 655.7,184.2 655.8,178 655.9,171.1 655.9,163.6 656,155.9 656.1,148.6 656.1,142.3 656.2,137.4 656.3,134.4 656.3,133.6 656.4,135.1 656.5,138.6 656.5,143.9 656.6,150.5 656.6,157.7 656.7,165.1 656.8,172.3 656.8,178.9 656.9,184.7 657,189.6 657,193.6 657.1,196.7 657.2,199.1 657.2,200.9 657.3,202.1 657.4,203 657.4,203.6 657.5,203.9 657.6,204.1 657.6,204.2 657.7,204.1 657.8,203.9 657.8,203.7 657.9,203.3 657.9,202.7 658,202.1 658.1,201.4 658.1,200.6 658.2,199.9 658.3,199.1 658.3,198.5 658.4,198 658.5,197.8 658.5,197.7 658.6,197.9 658.7,198.3 658.7,198.9 658.8,199.6 658.9,200.4 658.9,201.2 659,202 659.1,202.7 659.1,203.3 659.2,203.7 659.2,204.1 659.3,204.4 659.4,204.6 659.4,204.8 659.5,204.9 659.6,204.9 659.6,205 659.7,205 659.8,205 659.8,205 659.9,205 660,205 660,205 660.1,204.9 660.1,204.9 660.2,204.8 660.3,204.7 660.3,204.5 660.4,204.4 660.5,204.1 660.5,203.9 660.6,203.6 660.7,203.3 660.7,203.1 660.8,202.8 660.9,202.6 660.9,202.5 661,202.5 661.1,202.5 661.1,202.7 661.2,202.8 661.2,203.1 661.3,203.4 661.4,203.6 661.4,203.9 661.5,204.1 661.6,204.3 661.6,204.4 661.7,204.5 661.8,204.5 661.8,204.4 661.9,204.2 662,203.9 662,203.6 662.1,203.1 662.1,202.5 662.2,201.8 662.3,201.1 662.3,200.4 662.4,199.7 662.5,199.1 662.5,198.7 662.6,198.4 662.7,198.4 662.7,198.5 662.8,198.8 662.9,199.2 662.9,199.6 663,199.9 663,200.1 663.1,200.1 663.2,199.8 663.2,199.3 663.3,198.4 663.4,197.3 663.4,195.9 663.5,194.5 663.6,193 663.6,191.7 663.7,190.7 663.7,190.1 663.8,190 663.9,190.3 663.9,191.1 664,192.3 664.1,193.8 664.1,195.4 664.2,197 664.3,198.6 664.3,199.9 664.4,201.1 664.5,202.1 664.5,202.8 664.6,203.3 664.6,203.6 664.7,203.7 664.8,203.5 664.8,203.2 664.9,202.8 665,202.1 665,201.4 665.1,200.6 665.2,199.7 665.2,198.9 665.3,198.1 665.3,197.5 665.4,197.1 665.5,197 665.5,197.1 665.6,197.5 665.7,198 665.7,198.8 665.8,199.6 665.9,200.5 665.9,201.4 666,202.2 666,202.9 666.1,203.4 666.2,203.9 666.2,204.3 666.3,204.5 666.4,204.7 666.4,204.8 666.5,204.9 666.6,205 666.6,205 666.7,205 666.7,205 666.8,205 666.9,205 666.9,205 667,205 667.1,205 667.1,205 667.2,205 667.2,205 667.3,205 667.4,205 667.4,205 667.5,205 667.6,205 667.6,205 667.7,205 667.8,205 667.8,205 667.9,205 667.9,204.9 668,204.9 668.1,204.8 668.1,204.6 668.2,204.4 668.3,204.2 668.3,203.8 668.4,203.3 668.5,202.6 668.5,201.9 668.6,200.9 668.6,199.9 668.7,198.8 668.8,197.6 668.8,196.4 668.9,195.4 669,194.6 669,194.1 669.1,193.9 669.1,194.1 669.2,194.6 669.3,195.4 669.3,196.4 669.4,197.6 669.5,198.8 669.5,199.9 669.6,201 669.6,202 669.7,202.7 669.8,203.4 669.8,203.9 669.9,204.2 670,204.5 670,204.6 670.1,204.7 670.2,204.8 670.2,204.8 670.3,204.8 670.3,204.8 670.4,204.8 670.5,204.7 670.5,204.7 670.6,204.6 670.7,204.6 670.7,204.6 670.8,204.6 670.8,204.5 670.9,204.6 671,204.6 671,204.6 671.1,204.6 671.2,204.7 671.2,204.7 671.3,204.8 671.3,204.8 671.4,204.9 671.5,204.9 671.5,204.9 671.6,204.9 671.7,204.9 671.7,204.8 671.8,204.8 671.8,204.7 671.9,204.5 672,204.3 672,204 672.1,203.5 672.2,203 672.2,202.3 672.3,201.4 672.3,200.4 672.4,199.4 672.5,198.2 672.5,197.1 672.6,196.1 672.7,195.3 672.7,194.7 672.8,194.4 672.8,194.6 672.9,195 673,195.7 673,196.7 673.1,197.8 673.2,198.9 673.2,200 673.3,201 673.3,201.9 673.4,202.6 673.5,203.2 673.5,203.6 673.6,203.8 673.7,203.9 673.7,203.9 673.8,203.8 673.8,203.6 673.9,203.4 674,203.2 674,203 674.1,202.8 674.2,202.7 674.2,202.6 674.3,202.6 674.3,202.7 674.4,202.8 674.5,203 674.5,203.2 674.6,203.4 674.7,203.6 674.7,203.7 674.8,203.7 674.8,203.7 674.9,203.6 675,203.4 675,203.2 675.1,202.9 675.1,202.6 675.2,202.4 675.3,202.2 675.3,202.1 675.4,202 675.5,202.1 675.5,202.2 675.6,202.5 675.6,202.7 675.7,203 675.8,203.4 675.8,203.7 675.9,203.9 676,204.2 676,204.4 676.1,204.5 676.1,204.7 676.2,204.7 676.3,204.8 676.3,204.8 676.4,204.8 676.4,204.8 676.5,204.8 676.6,204.8 676.6,204.8 676.7,204.7 676.8,204.7 676.8,204.6 676.9,204.5 676.9,204.4 677,204.3 677.1,204.1 677.1,204 677.2,203.9 677.3,203.8 677.3,203.7 677.4,203.7 677.4,203.7 677.5,203.7 677.6,203.7 677.6,203.7 677.7,203.7 677.7,203.6 677.8,203.3 677.9,202.9 677.9,202.1 678,201 678.1,199.2 678.1,196.7 678.2,193.2 678.2,188.7 678.3,183 678.4,176.2 678.4,168.3 678.5,159.6 678.5,150.6 678.6,141.9 678.7,134.1 678.7,127.8 678.8,123.8 678.8,122.4 678.9,123.8 679,127.8 679,133.9 679.1,141.7 679.2,150.4 679.2,159.4 679.3,168.1 679.3,176 679.4,182.8 679.5,188.6 679.5,193.1 679.6,196.6 679.6,199.1 679.7,200.9 679.8,202.2 679.8,202.9 679.9,203.4 680,203.6 680,203.7 680.1,203.7 680.1,203.6 680.2,203.5 680.3,203.3 680.3,203.2 680.4,203.1 680.4,203 680.5,202.9 680.6,203 680.6,203 680.7,203.2 680.7,203.3 680.8,203.5 680.9,203.7 680.9,203.9 681,204.1 681.1,204.3 681.1,204.4 681.2,204.5 681.2,204.6 681.3,204.7 681.4,204.7 681.4,204.7 681.5,204.7 681.5,204.7 681.6,204.7 681.7,204.7 681.7,204.6 681.8,204.5 681.8,204.4 681.9,204.3 682,204.1 682,203.8 682.1,203.5 682.1,203.2 682.2,202.8 682.3,202.2 682.3,201.5 682.4,200.7 682.4,199.6 682.5,198.1 682.6,196.3 682.6,194.2 682.7,191.6 682.8,188.7 682.8,185.6 682.9,182.4 682.9,179.5 683,177 683.1,175.1 683.1,174.1 683.2,174.1 683.2,175.2 683.3,177.1 683.4,179.7 683.4,182.8 683.5,186.1 683.5,189.4 683.6,192.5 683.7,195.3 683.7,197.7 683.8,199.6 683.8,201.2 683.9,202.3 684,203.1 684,203.7 684.1,204.1 684.1,204.4 684.2,204.5 684.3,204.6 684.3,204.7 684.4,204.7 684.4,204.8 684.5,204.8 684.6,204.8 684.6,204.8 684.7,204.8 684.7,204.8 684.8,204.8 684.9,204.8 684.9,204.8 685,204.8 685,204.7 685.1,204.7 685.2,204.7 685.2,204.7 685.3,204.7 685.3,204.7 685.4,204.7 685.5,204.7 685.5,204.7 685.6,204.7 685.6,204.8 685.7,204.8 685.8,204.8 685.8,204.8 685.9,204.8 685.9,204.8 686,204.8 686.1,204.8 686.1,204.8 686.2,204.8 686.2,204.8 686.3,204.8 686.4,204.8 686.4,204.8 686.5,204.8 686.5,204.7 686.6,204.7 686.7,204.6 686.7,204.4 686.8,204.2 686.8,203.8 686.9,203.3 687,202.6 687,201.6 687.1,200.2 687.1,198.5 687.2,196.4 687.3,194 687.3,191.3 687.4,188.5 687.4,185.7 687.5,183.2 687.6,181 687.6,179.6 687.7,178.9 687.7,179.1 687.8,180.2 687.9,182 687.9,184.3 688,187 688,189.8 688.1,192.6 688.2,195.2 688.2,197.4 688.3,199.3 688.3,200.8 688.4,202 688.5,202.9 688.5,203.5 688.6,203.9 688.6,204.2 688.7,204.4 688.8,204.5 688.8,204.6 688.9,204.7 688.9,204.7 689,204.7 689.1,204.7 689.1,204.8 689.2,204.8 689.2,204.8 689.3,204.8 689.4,204.8 689.4,204.8 689.5,204.8 689.5,204.8 689.6,204.8 689.6,204.8 689.7,204.9 689.8,204.9 689.8,204.9 689.9,204.9 689.9,204.9 690,204.9 690.1,204.9 690.1,204.9 690.2,204.9 690.2,204.9 690.3,204.8 690.4,204.8 690.4,204.8 690.5,204.8 690.5,204.8 690.6,204.8 690.7,204.8 690.7,204.8 690.8,204.8 690.8,204.8 690.9,204.7 690.9,204.7 691,204.6 691.1,204.5 691.1,204.3 691.2,204.1 691.2,203.8 691.3,203.4 691.4,202.8 691.4,202.2 691.5,201.4 691.5,200.5 691.6,199.4 691.7,198.1 691.7,196.7 691.8,195 691.8,193.1 691.9,191 692,188.6 692,186.1 692.1,183.5 692.1,180.8 692.2,178.4 692.2,176.3 692.3,174.8 692.4,174.1 692.4,174.1 692.5,175 692.5,176.6 692.6,178.8 692.7,181.3 692.7,184 692.8,186.7 692.8,189.3 692.9,191.5 692.9,193.5 693,195.2 693.1,196.7 693.1,197.9 693.2,199 693.2,199.9 693.3,200.8 693.4,201.5 693.4,202.2 693.5,202.7 693.5,203.2 693.6,203.6 693.7,204 693.7,204.2 693.8,204.4 693.8,204.5 693.9,204.6 693.9,204.7 694,204.7 694.1,204.7 694.1,204.7 694.2,204.7 694.2,204.7 694.3,204.7 694.4,204.6 694.4,204.5 694.5,204.4 694.5,204.2 694.6,204 694.6,203.8 694.7,203.5 694.8,203.2 694.8,203 694.9,202.7 694.9,202.5 695,202.3 695.1,202.2 695.1,202.2 695.2,202.2 695.2,202.4 695.3,202.6 695.3,202.8 695.4,203.1 695.5,203.4 695.5,203.6 695.6,203.8 695.6,204 695.7,204.1 695.7,204.1 695.8,204.1 695.9,204 695.9,203.8 696,203.5 696,202.9 696.1,202 696.2,200.7 696.2,198.9 696.3,196.5 696.3,193.3 696.4,189.4 696.4,184.7 696.5,179.3 696.6,173.5 696.6,167.4 696.7,161.7 696.7,156.5 696.8,152.6 696.9,150.1 696.9,149.4 697,150.5 697,153.3 697.1,157.4 697.1,162.5 697.2,168 697.3,173.5 697.3,178.7 697.4,183.1 697.4,186.7 697.5,189.4 697.5,191.3 697.6,192.6 697.7,193.3 697.7,193.7 697.8,194 697.8,194.3 697.9,194.7 697.9,195.3 698,196.1 698.1,197 698.1,198 698.2,199.1 698.2,200.1 698.3,201.1 698.3,201.9 698.4,202.6 698.5,203.2 698.5,203.6 698.6,203.9 698.6,204.1 698.7,204.2 698.8,204.2 698.8,204.1 698.9,203.9 698.9,203.7 699,203.4 699,203 699.1,202.5 699.2,202 699.2,201.5 699.3,201 699.3,200.5 699.4,200 699.4,199.5 699.5,199 699.6,198.4 699.6,197.7 699.7,196.7 699.7,195.3 699.8,193.5 699.8,191.3 699.9,188.6 700,185.6 700,182.4 700.1,179.2 700.1,176.3 700.2,174 700.2,172.5 700.3,172 700.4,172.6 700.4,174.2 700.5,176.6 700.5,179.7 700.6,183.1 700.6,186.7 700.7,190.1 700.8,193.3 700.8,196 700.9,198.3 700.9,200.1 701,201.5 701,202.5 701.1,203.2 701.2,203.8 701.2,204.1 701.3,204.3 701.3,204.4 701.4,204.5 701.4,204.6 701.5,204.6 701.6,204.6 701.6,204.7 701.7,204.7 701.7,204.7 701.8,204.7 701.8,204.7 701.9,204.7 701.9,204.6 702,204.6 702.1,204.5 702.1,204.3 702.2,204.1 702.2,203.8 702.3,203.4 702.3,202.9 702.4,202.2 702.5,201.5 702.5,200.6 702.6,199.6 702.6,198.5 702.7,197.5 702.7,196.6 702.8,195.7 702.9,195 702.9,194.4 703,194 703,193.5 703.1,192.9 703.1,192 703.2,190.9 703.3,189.3 703.3,187.3 703.4,184.9 703.4,182.4 703.5,179.8 703.5,177.4 703.6,175.5 703.6,174.3 703.7,174 703.8,174.7 703.8,176.3 703.9,178.6 703.9,181.6 704,184.8 704,188.1 704.1,191.3 704.2,194.2 704.2,196.6 704.3,198.7 704.3,200.3 704.4,201.5 704.4,202.3 704.5,202.8 704.5,203.1 704.6,203.3 704.7,203.3 704.7,203.3 704.8,203.3 704.8,203.3 704.9,203.3 704.9,203.3 705,203.4 705.1,203.5 705.1,203.6 705.2,203.8 705.2,203.9 705.3,204.1 705.3,204.2 705.4,204.4 705.4,204.5 705.5,204.6 705.6,204.6 705.6,204.7 705.7,204.7 705.7,204.7 705.8,204.8 705.8,204.8 705.9,204.8 705.9,204.8 706,204.8 706.1,204.8 706.1,204.8 706.2,204.8 706.2,204.8 706.3,204.8 706.3,204.8 706.4,204.8 706.4,204.7 706.5,204.7 706.6,204.6 706.6,204.5 706.7,204.3 706.7,204.1 706.8,203.8 706.8,203.5 706.9,203.1 706.9,202.6 707,202.1 707.1,201.6 707.1,201 707.2,200.6 707.2,200.3 707.3,200.1 707.3,200 707.4,200.1 707.4,200.3 707.5,200.7 707.6,201.2 707.6,201.7 707.7,202.2 707.7,202.7 707.8,203.2 707.8,203.5 707.9,203.8 707.9,204 708,204.2 708.1,204.2 708.1,204.1 708.2,203.9 708.2,203.7 708.3,203.4 708.3,202.9 708.4,202.5 708.4,202 708.5,201.5 708.6,201.1 708.6,200.7 708.7,200.4 708.7,200.3 708.8,200.3 708.8,200.5 708.9,200.8 708.9,201.2 709,201.7 709.1,202.1 709.1,202.6 709.2,203.1 709.2,203.5 709.3,203.8 709.3,204.1 709.4,204.3 709.4,204.5 709.5,204.6 709.6,204.7 709.6,204.7 709.7,204.7 709.7,204.7 709.8,204.8 709.8,204.8 709.9,204.8 709.9,204.8 710,204.8 710,204.8 710.1,204.8 710.2,204.7 710.2,204.7 710.3,204.7 710.3,204.7 710.4,204.7 710.4,204.7 710.5,204.7 710.5,204.7 710.6,204.7 710.6,204.7 710.7,204.7 710.8,204.7 710.8,204.7 710.9,204.6 710.9,204.6 711,204.5 711,204.4 711.1,204.3 711.1,204.1 711.2,203.8 711.3,203.4 711.3,202.8 711.4,202 711.4,201 711.5,199.7 711.5,198 711.6,195.9 711.6,193.4 711.7,190.4 711.7,187.1 711.8,183.5 711.9,179.7 711.9,175.8 712,172.2 712,169 712.1,166.5 712.1,165 712.2,164.6 712.2,165.3 712.3,167.2 712.3,169.9 712.4,173.3 712.5,177.1 712.5,180.9 712.6,184.4 712.6,187.5 712.7,189.9 712.7,191.7 712.8,192.9 712.8,193.6 712.9,193.9 712.9,194 713,194 713,194.1 713.1,194.4 713.2,194.8 713.2,195.5 713.3,196.4 713.3,197.4 713.4,198.5 713.4,199.5 713.5,200.6 713.5,201.5 713.6,202.3 713.6,202.9 713.7,203.4 713.8,203.7 713.8,203.9 713.9,204.1 713.9,204.1 714,204.1 714,204 714.1,203.9 714.1,203.8 714.2,203.6 714.2,203.5 714.3,203.3 714.3,203.2 714.4,203.1 714.5,203 714.5,203 714.6,202.9 714.6,202.9 714.7,202.7 714.7,202.5 714.8,202 714.8,201.3 714.9,200.2 714.9,198.7 715,196.7 715,194.2 715.1,191.3 715.2,188 715.2,184.4 715.3,180.8 715.3,177.5 715.4,174.7 715.4,172.6 715.5,171.5 715.5,171.6 715.6,172.7 715.6,174.8 715.7,177.7 715.7,181 715.8,184.6 715.8,188.2 715.9,191.5 716,194.4 716,197 716.1,199 716.1,200.6 716.2,201.7 716.2,202.5 716.3,203.1 716.3,203.4 716.4,203.5 716.4,203.4 716.5,203.1 716.5,202.8 716.6,202.2 716.7,201.6 716.7,200.8 716.8,199.9 716.8,198.9 716.9,197.9 716.9,197.1 717,196.3 717,195.8 717.1,195.5 717.1,195.4 717.2,195.7 717.2,196.1 717.3,196.7 717.3,197.3 717.4,197.8 717.5,198 717.5,197.8 717.6,196.9 717.6,195.1 717.7,192 717.7,187.3 717.8,180.6 717.8,171.8 717.9,160.5 717.9,146.9 718,131.3 718,114.2 718.1,96.5 718.1,79.3 718.2,64 718.2,51.9 718.3,44.1 718.4,41.5 718.4,44.3 718.5,52.1 718.5,64.1 718.6,79.1 718.6,95.6 718.7,112.5 718.7,128.6 718.8,143.1 718.8,155.6 718.9,165.8 718.9,173.9 719,180.1 719,184.7 719.1,188.2 719.1,190.8 719.2,193 719.3,194.7 719.3,196.3 719.4,197.7 719.4,198.9 719.5,200 719.5,201 719.6,201.8 719.6,202.5 719.7,203 719.7,203.4 719.8,203.7 719.8,203.9 719.9,204.1 719.9,204.2 720,204.3 720,204.3 720.1,204.4 720.1,204.4 720.2,204.4 720.3,204.5 720.3,204.5 720.4,204.5 720.4,204.5 720.5,204.5 720.5,204.5 720.6,204.5 720.6,204.5 720.7,204.5 720.7,204.5 720.8,204.5 720.8,204.5 720.9,204.5 720.9,204.5 721,204.4 721,204.3 721.1,204.3 721.1,204.2 721.2,204 721.2,203.9 721.3,203.8 721.3,203.6 721.4,203.5 721.5,203.4 721.5,203.3 721.6,203.3 721.6,203.3 721.7,203.4 721.7,203.5 721.8,203.6 721.8,203.7 721.9,203.9 721.9,204 722,204.2 722,204.3 722.1,204.4 722.1,204.5 722.2,204.5 722.2,204.6 722.3,204.6 722.3,204.6 722.4,204.6 722.4,204.6 722.5,204.6 722.5,204.6 722.6,204.6 722.6,204.6 722.7,204.6 722.8,204.6 722.8,204.6 722.9,204.6 722.9,204.5 723,204.5 723,204.5 723.1,204.4 723.1,204.3 723.2,204.2 723.2,204.2 723.3,204.1 723.3,204 723.4,203.9 723.4,203.9 723.5,203.8 723.5,203.8 723.6,203.7 723.6,203.6 723.7,203.5 723.7,203.2 723.8,202.8 723.8,202.2 723.9,201.4 723.9,200.3 724,198.8 724,196.9 724.1,194.7 724.1,192.3 724.2,189.6 724.3,186.9 724.3,184.2 724.4,181.9 724.4,180.2 724.5,179 724.5,178.7 724.6,179.2 724.6,180.4 724.7,182.3 724.7,184.6 724.8,187.2 724.8,189.9 724.9,192.6 724.9,195 725,197.1 725,199 725.1,200.4 725.1,201.6 725.2,202.5 725.2,203.2 725.3,203.6 725.3,204 725.4,204.2 725.4,204.3 725.5,204.4 725.5,204.5 725.6,204.5 725.6,204.6 725.7,204.6 725.7,204.6 725.8,204.6 725.8,204.6 725.9,204.6 725.9,204.6 726,204.6 726,204.6 726.1,204.7 726.1,204.7 726.2,204.7 726.2,204.7 726.3,204.7 726.3,204.7 726.4,204.7 726.5,204.7 726.5,204.7 726.6,204.7 726.6,204.7 726.7,204.7 726.7,204.6 726.8,204.6 726.8,204.6 726.9,204.5 726.9,204.3 727,204.2 727,203.9 727.1,203.5 727.1,203 727.2,202.4 727.2,201.7 727.3,200.8 727.3,199.8 727.4,198.7 727.4,197.6 727.5,196.6 727.5,195.7 727.6,195 727.6,194.6 727.7,194.4 727.7,194.6 727.8,195.1 727.8,195.8 727.9,196.7 727.9,197.7 728,198.8 728,199.9 728.1,200.8 728.1,201.7 728.2,202.5 728.2,203.1 728.3,203.5 728.3,203.9 728.4,204.1 728.4,204.3 728.5,204.4 728.5,204.5 728.6,204.6 728.6,204.6 728.7,204.6 728.7,204.6 728.8,204.6 728.8,204.5 728.9,204.5 728.9,204.5 729,204.5 729,204.5 729.1,204.4 729.1,204.4 729.2,204.4 729.2,204.4 729.3,204.4 729.3,204.4 729.4,204.4 729.4,204.4 729.5,204.4 729.5,204.4 729.6,204.3 729.6,204.3 729.7,204.2 729.7,204 729.8,203.7 729.8,203.3 729.9,202.7 729.9,201.8 730,200.6 730,198.9 730.1,196.9 730.1,194.3 730.2,191.2 730.2,187.7 730.3,183.9 730.3,179.9 730.4,176 730.4,172.4 730.5,169.4 730.5,167.3 730.6,166.1 730.6,166.2 730.7,167.4 730.7,169.6 730.8,172.6 730.8,176.3 730.9,180.2 730.9,184.1 731,187.9 731,191.4 731.1,194.4 731.1,196.9 731.2,199 731.2,200.6 731.3,201.8 731.3,202.7 731.4,203.3 731.4,203.7 731.5,204 731.5,204.2 731.6,204.3 731.6,204.4 731.7,204.4 731.7,204.5 731.8,204.5 731.8,204.5 731.9,204.5 731.9,204.5 732,204.5 732,204.5 732.1,204.4 732.1,204.3 732.2,204.3 732.2,204.1 732.3,204 732.3,203.8 732.4,203.6 732.4,203.3 732.5,203 732.5,202.7 732.6,202.4 732.6,202.2 732.7,201.9 732.7,201.8 732.8,201.7 732.8,201.7 732.9,201.8 732.9,201.9 732.9,202.1 733,202.4 733,202.6 733.1,202.9 733.1,203.2 733.2,203.4 733.2,203.5 733.3,203.6 733.3,203.6 733.4,203.5 733.4,203.2 733.5,202.7 733.5,201.9 733.6,200.9 733.6,199.4 733.7,197.6 733.7,195.4 733.8,192.7 733.8,189.7 733.9,186.4 733.9,183 734,179.6 734,176.5 734.1,173.8 734.1,171.9 734.2,170.9 734.2,170.8 734.3,171.7 734.3,173.5 734.4,176 734.4,179 734.5,182.3 734.5,185.6 734.6,188.8 734.6,191.8 734.7,194.4 734.7,196.6 734.8,198.4 734.8,199.8 734.9,200.8 734.9,201.7 735,202.3 735,202.7 735,203.1 735.1,203.3 735.1,203.5 735.2,203.7 735.2,203.9 735.3,204 735.3,204.1 735.4,204.2 735.4,204.3 735.5,204.4 735.5,204.4 735.6,204.5 735.6,204.5 735.7,204.5 735.7,204.6 735.8,204.6 735.8,204.6 735.9,204.6 735.9,204.6 736,204.6 736,204.6 736.1,204.6 736.1,204.6 736.2,204.6 736.2,204.6 736.3,204.6 736.3,204.6 736.4,204.6 736.4,204.6 736.4,204.6 736.5,204.6 736.5,204.6 736.6,204.6 736.6,204.6 736.7,204.5 736.7,204.5 736.8,204.4 736.8,204.3 736.9,204.1 736.9,203.9 737,203.6 737,203.2 737.1,202.7 737.1,202.2 737.2,201.5 737.2,200.9 737.3,200.2 737.3,199.5 737.4,198.9 737.4,198.5 737.5,198.1 737.5,197.9 737.6,197.9 737.6,198.1 737.6,198.5 737.7,199 737.7,199.6 737.8,200.3 737.8,200.9 737.9,201.6 737.9,202.2 738,202.7 738,203.2 738.1,203.6 738.1,203.9 738.2,204.1 738.2,204.3 738.3,204.4 738.3,204.5 738.4,204.5 738.4,204.6 738.5,204.6 738.5,204.6 738.6,204.6 738.6,204.6 738.6,204.6 738.7,204.6 738.7,204.6 738.8,204.6 738.8,204.6 738.9,204.6 738.9,204.6 739,204.6 739,204.6 739.1,204.5 739.1,204.5 739.2,204.4 739.2,204.3 739.3,204.2 739.3,204.1 739.4,203.9 739.4,203.8 739.5,203.6 739.5,203.3 739.5,203.1 739.6,202.9 739.6,202.7 739.7,202.6 739.7,202.5 739.8,202.5 739.8,202.5 739.9,202.5 739.9,202.7 740,202.8 740,203 740.1,203.2 740.1,203.4 740.2,203.6 740.2,203.7 740.3,203.8 740.3,203.8 740.3,203.8 740.4,203.7 740.4,203.5 740.5,203.1 740.5,202.7 740.6,202 740.6,201.2 740.7,200.3 740.7,199.1 740.8,197.7 740.8,196.1 740.9,194.3 740.9,192.3 741,190.1 741,187.7 741,185.2 741.1,182.5 741.1,179.8 741.2,177 741.2,174.4 741.3,171.9 741.3,169.8 741.4,168.2 741.4,167.2 741.5,167 741.5,167.6 741.6,169 741.6,171.2 741.7,173.9 741.7,177.1 741.7,180.5 741.8,183.9 741.8,187.1 741.9,190.1 741.9,192.7 742,194.8 742,196.6 742.1,198 742.1,199 742.2,199.8 742.2,200.3 742.3,200.7 742.3,201.1 742.4,201.4 742.4,201.6 742.4,201.9 742.5,202.2 742.5,202.5 742.6,202.8 742.6,203.1 742.7,203.3 742.7,203.6 742.8,203.8 742.8,204 742.9,204.1 742.9,204.2 743,204.3 743,204.4 743,204.4 743.1,204.4 743.1,204.5 743.2,204.5 743.2,204.5 743.3,204.5 743.3,204.5 743.4,204.5 743.4,204.5 743.5,204.5 743.5,204.5 743.6,204.5 743.6,204.5 743.6,204.5 743.7,204.5 743.7,204.5 743.8,204.5 743.8,204.4 743.9,204.4 743.9,204.4 744,204.4 744,204.3 744.1,204.3 744.1,204.2 744.1,204 744.2,203.8 744.2,203.5 744.3,203 744.3,202.4 744.4,201.5 744.4,200.3 744.5,198.8 744.5,197 744.6,194.7 744.6,192.1 744.7,189.2 744.7,186.1 744.7,182.9 744.8,179.7 744.8,176.8 744.9,174.4 744.9,172.6 745,171.5 745,171.4 745.1,172.1 745.1,173.6 745.2,175.8 745.2,178.5 745.2,181.5 745.3,184.6 745.3,187.8 745.4,190.7 745.4,193.4 745.5,195.7 745.5,197.7 745.6,199.3 745.6,200.6 745.7,201.6 745.7,202.4 745.7,202.9 745.8,203.4 745.8,203.7 745.9,203.9 745.9,204.1 746,204.2 746,204.3 746.1,204.3 746.1,204.4 746.1,204.4 746.2,204.4 746.2,204.4 746.3,204.5 746.3,204.5 746.4,204.5 746.4,204.5 746.5,204.5 746.5,204.5 746.6,204.5 746.6,204.5 746.6,204.5 746.7,204.5 746.7,204.5 746.8,204.5 746.8,204.5 746.9,204.5 746.9,204.5 747,204.5 747,204.5 747,204.5 747.1,204.5 747.1,204.5 747.2,204.5 747.2,204.5 747.3,204.5 747.3,204.5 747.4,204.5 747.4,204.5 747.5,204.5 747.5,204.5 747.5,204.5 747.6,204.4 747.6,204.4 747.7,204.3 747.7,204.2 747.8,204 747.8,203.8 747.9,203.4 747.9,203 747.9,202.5 748,201.8 748,201 748.1,200.2 748.1,199.1 748.2,198.1 748.2,196.9 748.3,195.8 748.3,194.6 748.3,193.5 748.4,192.5 748.4,191.5 748.5,190.6 748.5,189.7 748.6,188.8 748.6,187.9 748.7,186.9 748.7,185.8 748.7,184.8 748.8,183.7 748.8,182.8 748.9,182 748.9,181.5 749,181.4 749,181.7 749.1,182.5 749.1,183.7 749.1,185.3 749.2,187.1 749.2,189.2 749.3,191.3 749.3,193.4 749.4,195.3 749.4,197.1 749.5,198.7 749.5,200 749.5,201.1 749.6,202 749.6,202.7 749.7,203.2 749.7,203.6 749.8,203.9 749.8,204.1 749.8,204.2 749.9,204.3 749.9,204.4 750,204.4 750,204.4 750.1,204.4 750.1,204.4 750.2,204.4 750.2,204.4 750.2,204.4 750.3,204.4 750.3,204.4 750.4,204.4 750.4,204.3 750.5,204.2 750.5,204.1 750.5,203.9 750.6,203.6 750.6,203.3 750.7,202.9 750.7,202.5 750.8,202 750.8,201.4 750.9,200.8 750.9,200.2 750.9,199.6 751,199.1 751,198.6 751.1,198.3 751.1,198.1 751.2,198.1 751.2,198.2 751.2,198.5 751.3,198.9 751.3,199.4 751.4,200 751.4,200.6 751.5,201.2 751.5,201.8 751.5,202.3 751.6,202.8 751.6,203.1 751.7,203.5 751.7,203.7 751.8,203.9 751.8,204 751.9,204.1 751.9,204.1 751.9,204.1 752,204 752,203.9 752.1,203.8 752.1,203.6 752.2,203.5 752.2,203.2 752.2,203 752.3,202.7 752.3,202.5 752.4,202.2 752.4,202 752.5,201.8 752.5,201.6 752.5,201.4 752.6,201.1 752.6,200.8 752.7,200.4 752.7,199.8 752.8,198.8 752.8,197.5 752.8,195.6 752.9,193.1 752.9,189.8 753,185.7 753,180.6 753.1,174.7 753.1,168 753.1,160.8 753.2,153.2 753.2,145.6 753.3,138.5 753.3,132.3 753.4,127.3 753.4,123.9 753.4,122.4 753.5,122.9 753.5,125.3 753.6,129.4 753.6,134.8 753.7,141.1 753.7,147.9 753.7,154.8 753.8,161.5 753.8,167.7 753.9,173.3 753.9,178.1 754,182.1 754,185.5 754,188.3 754.1,190.6 754.1,192.5 754.2,194.1 754.2,195.5 754.3,196.8 754.3,197.9 754.3,198.9 754.4,199.9 754.4,200.7 754.5,201.4 754.5,202.1 754.5,202.6 754.6,203 754.6,203.4 754.7,203.6 754.7,203.8 754.8,204 754.8,204.1 754.8,204.2 754.9,204.3 754.9,204.3 755,204.3 755,204.3 755.1,204.4 755.1,204.4 755.1,204.4 755.2,204.3 755.2,204.3 755.3,204.3 755.3,204.2 755.4,204.2 755.4,204.1 755.4,204 755.5,203.8 755.5,203.6 755.6,203.4 755.6,203.2 755.6,203 755.7,202.8 755.7,202.5 755.8,202.3 755.8,202.2 755.9,202 755.9,202 755.9,201.9 756,202 756,202.1 756.1,202.2 756.1,202.4 756.1,202.6 756.2,202.9 756.2,203.1 756.3,203.3 756.3,203.5 756.4,203.7 756.4,203.9 756.4,204 756.5,204.2 756.5,204.2 756.6,204.3 756.6,204.4 756.6,204.4 756.7,204.4 756.7,204.5 756.8,204.5 756.8,204.5 756.9,204.5 756.9,204.5 756.9,204.5 757,204.5 757,204.5 757.1,204.5 757.1,204.5 757.1,204.5 757.2,204.5 757.2,204.5 757.3,204.5 757.3,204.5 757.4,204.5 757.4,204.5 757.4,204.5 757.5,204.5 757.5,204.5 757.6,204.4 757.6,204.4 757.6,204.4 757.7,204.4 757.7,204.4 757.8,204.4 757.8,204.4 757.8,204.4 757.9,204.4 757.9,204.3 758,204.3 758,204.2 758.1,204.1 758.1,204 758.1,203.8 758.2,203.5 758.2,203.1 758.3,202.6 758.3,201.9 758.3,201 758.4,199.9 758.4,198.5 758.5,196.8 758.5,194.9 758.5,192.7 758.6,190.4 758.6,187.9 758.7,185.4 758.7,183.1 758.8,180.9 758.8,179.1 758.8,177.7 758.9,176.9 758.9,176.6 759,176.9 759,177.7 759,178.9 759.1,180.5 759.1,182.2 759.2,184 759.2,185.8 759.2,187.4 759.3,188.9 759.3,190.1 759.4,191.2 759.4,192.1 759.4,192.8 759.5,193.5 759.5,194.1 759.6,194.8 759.6,195.4 759.6,196.1 759.7,196.9 759.7,197.7 759.8,198.5 759.8,199.3 759.8,200.1 759.9,200.8 759.9,201.5 760,202.1 760,202.6 760.1,203.1 760.1,203.4 760.1,203.7 760.2,203.9 760.2,204.1 760.3,204.2 760.3,204.3 760.3,204.3 760.4,204.4 760.4,204.4 760.5,204.4 760.5,204.4 760.5,204.4 760.6,204.5 760.6,204.5 760.7,204.5 760.7,204.5 760.7,204.5 760.8,204.5 760.8,204.5 760.9,204.5 760.9,204.5 760.9,204.5 761,204.5 761,204.5 761.1,204.5 761.1,204.5 761.1,204.5 761.2,204.5 761.2,204.5 761.3,204.5 761.3,204.5 761.3,204.5 761.4,204.5 761.4,204.5 761.5,204.5 761.5,204.5 761.5,204.5 761.6,204.5 761.6,204.5 761.7,204.5 761.7,204.5 761.7,204.5 761.8,204.4 761.8,204.4 761.9,204.4 761.9,204.4 761.9,204.4 762,204.4 762,204.4 762,204.4 762.1,204.4 762.1,204.4 762.2,204.4 762.2,204.4 762.2,204.4 762.3,204.4 762.3,204.3 762.4,204.3 762.4,204.3 762.4,204.2 762.5,204.1 762.5,204 762.6,203.9 762.6,203.8 762.6,203.6 762.7,203.4 762.7,203.2 762.8,202.9 762.8,202.7 762.8,202.4 762.9,202.1 762.9,201.9 763,201.6 763,201.3 763,201 763.1,200.6 763.1,200.2 763.2,199.7 763.2,199 763.2,198.1 763.3,196.9 763.3,195.3 763.3,193.3 763.4,190.8 763.4,187.9 763.5,184.5 763.5,180.7 763.5,176.5 763.6,172.1 763.6,167.7 763.7,163.5 763.7,159.7 763.7,156.4 763.8,154 763.8,152.5 763.9,152.1 763.9,152.8 763.9,154.6 764,157.3 764,160.7 764,164.8 764.1,169.1 764.1,173.6 764.2,178.1 764.2,182.3 764.2,186.2 764.3,189.7 764.3,192.7 764.4,195.3 764.4,197.4 764.4,199.1 764.5,200.5 764.5,201.5 764.6,202.3 764.6,202.8 764.6,203.2 764.7,203.5 764.7,203.6 764.7,203.7 764.8,203.7 764.8,203.6 764.9,203.5 764.9,203.3 764.9,203.1 765,202.8 765,202.4 765.1,202 765.1,201.6 765.1,201.1 765.2,200.6 765.2,200.1 765.2,199.7 765.3,199.3 765.3,199 765.4,198.7 765.4,198.6 765.4,198.6 765.5,198.7 765.5,198.9 765.6,199.3 765.6,199.7 765.6,200.1 765.7,200.6 765.7,201.1 765.7,201.6 765.8,202 765.8,202.5 765.9,202.9 765.9,203.2 765.9,203.5 766,203.7 766,203.9 766,204 766.1,204.1 766.1,204.2 766.2,204.3 766.2,204.3 766.2,204.4 766.3,204.4 766.3,204.4 766.4,204.4 766.4,204.4 766.4,204.4 766.5,204.4 766.5,204.4 766.5,204.4 766.6,204.4 766.6,204.4 766.7,204.4 766.7,204.4 766.7,204.4 766.8,204.4 766.8,204.4 766.8,204.4 766.9,204.4 766.9,204.4 767,204.4 767,204.4 767,204.3 767.1,204.3 767.1,204.3 767.1,204.2 767.2,204.2 767.2,204.1 767.3,204.1 767.3,204 767.3,203.9 767.4,203.8 767.4,203.6 767.4,203.5 767.5,203.4 767.5,203.2 767.6,203.1 767.6,203 767.6,202.9 767.7,202.8 767.7,202.7 767.7,202.6 767.8,202.6 767.8,202.6 767.9,202.6 767.9,202.5 767.9,202.5 768,202.3 768,202.1 768,201.7 768.1,201.2 768.1,200.4 768.2,199.3 768.2,197.9 768.2,196.2 768.3,194 768.3,191.3 768.3,188.3 768.4,184.7 768.4,180.9 768.4,176.7 768.5,172.4 768.5,168.1 768.6,163.9 768.6,160.1 768.6,156.9 768.7,154.4 768.7,152.8 768.7,152.1 768.8,152.5 768.8,153.9 768.9,156.2 768.9,159.3 768.9,163 769,167 769,171.3 769,175.6 769.1,179.8 769.1,183.8 769.2,187.4 769.2,190.6 769.2,193.4 769.3,195.8 769.3,197.7 769.3,199.3 769.4,200.5 769.4,201.4 769.4,202.1 769.5,202.6 769.5,203 769.6,203.2 769.6,203.4 769.6,203.5 769.7,203.5 769.7,203.5 769.7,203.5 769.8,203.5 769.8,203.5 769.8,203.5 769.9,203.5 769.9,203.6 770,203.6 770,203.6 770,203.7 770.1,203.8 770.1,203.8 770.1,203.9 770.2,204 770.2,204 770.2,204.1 770.3,204.1 770.3,204.2 770.4,204.2 770.4,204.3 770.4,204.3 770.5,204.3 770.5,204.3 770.5,204.4 770.6,204.4 770.6,204.4 770.6,204.4 770.7,204.4 770.7,204.4 770.8,204.4 770.8,204.4 770.8,204.4 770.9,204.4 770.9,204.4 770.9,204.4 771,204.4 771,204.4 771,204.4 771.1,204.4 771.1,204.4 771.1,204.3 771.2,204.3 771.2,204.2 771.3,204.1 771.3,204 771.3,203.8 771.4,203.6 771.4,203.3 771.4,203 771.5,202.5 771.5,202 771.5,201.4 771.6,200.7 771.6,200 771.6,199.2 771.7,198.4 771.7,197.5 771.8,196.7 771.8,196 771.8,195.3 771.9,194.8 771.9,194.4 771.9,194.2 772,194.2 772,194.4 772,194.8 772.1,195.3 772.1,195.9 772.1,196.6 772.2,197.4 772.2,198.3 772.3,199.1 772.3,199.9 772.3,200.7 772.4,201.3 772.4,201.9 772.4,202.5 772.5,202.9 772.5,203.3 772.5,203.6 772.6,203.8 772.6,204 772.6,204.1 772.7,204.2 772.7,204.3 772.7,204.3 772.8,204.4 772.8,204.4 772.9,204.4 772.9,204.4 772.9,204.4 773,204.4 773,204.4 773,204.4 773.1,204.4 773.1,204.4 773.1,204.4 773.2,204.4 773.2,204.4 773.2,204.4 773.3,204.4 773.3,204.4 773.3,204.4 773.4,204.4 773.4,204.4 773.4,204.4 773.5,204.4 773.5,204.4 773.6,204.4 773.6,204.4 773.6,204.4 773.7,204.4 773.7,204.4 773.7,204.4 773.8,204.4 773.8,204.4 773.8,204.4 773.9,204.4 773.9,204.4 773.9,204.4 774,204.4 774,204.4 774,204.4 774.1,204.4 774.1,204.4 774.1,204.4 774.2,204.4 774.2,204.4 774.2,204.4 774.3,204.4 774.3,204.3 774.4,204.3 774.4,204.3 774.4,204.3 774.5,204.3 774.5,204.2 774.5,204.2 774.6,204.1 774.6,204.1 774.6,203.9 774.7,203.8 774.7,203.5 774.7,203.2 774.8,202.8 774.8,202.2 774.8,201.6 774.9,200.7 774.9,199.6 774.9,198.3 775,196.8 775,195 775,193 775.1,190.8 775.1,188.4 775.1,185.9 775.2,183.4 775.2,180.9 775.2,178.6 775.3,176.6 775.3,174.9 775.3,173.6 775.4,172.8 775.4,172.6 775.4,172.9 775.5,173.8 775.5,175.2 775.5,176.9 775.6,179 775.6,181.3 775.6,183.8 775.7,186.3 775.7,188.7 775.8,191 775.8,193.2 775.8,195.2 775.9,196.9 775.9,198.4 775.9,199.7 776,200.7 776,201.6 776,202.3 776.1,202.8 776.1,203.2 776.1,203.5 776.2,203.7 776.2,203.9 776.2,204 776.3,204.1 776.3,204.2 776.3,204.2 776.4,204.3 776.4,204.3 776.4,204.3 776.5,204.3 776.5,204.3 776.5,204.3 776.6,204.3 776.6,204.4 776.6,204.4 776.7,204.4 776.7,204.4 776.7,204.4 776.8,204.4 776.8,204.4 776.8,204.4 776.9,204.4 776.9,204.4 776.9,204.4 777,204.4 777,204.4 777,204.4 777.1,204.4 777.1,204.4 777.1,204.4 777.2,204.3 777.2,204.3 777.2,204.3 777.3,204.3 777.3,204.2 777.3,204.1 777.4,204.1 777.4,204 777.4,203.9 777.5,203.8 777.5,203.6 777.5,203.5 777.6,203.3 777.6,203.2 777.6,203 777.7,202.9 777.7,202.8 777.7,202.7 777.8,202.6 777.8,202.5 777.8,202.5 777.8,202.5 777.9,202.5 777.9,202.6 777.9,202.7 778,202.8 778,202.9 778,203.1 778.1,203.2 778.1,203.4 778.1,203.5 778.2,203.7 778.2,203.8 778.2,203.9 778.3,204 778.3,204.1 778.3,204.2 778.4,204.2 778.4,204.3 778.4,204.3 778.5,204.3 778.5,204.3 778.5,204.3 778.6,204.3 778.6,204.3 778.6,204.3 778.7,204.3 778.7,204.2 778.7,204.1 778.8,204.1 778.8,204 778.8,203.9 778.9,203.8 778.9,203.7 778.9,203.6 779,203.5 779,203.4 779,203.2 779.1,203.1 779.1,203.1 779.1,203 779.1,203 779.2,202.9 779.2,202.9 779.2,203 779.3,203 779.3,203.1 779.3,203.2 779.4,203.3 779.4,203.4 779.4,203.5 779.5,203.6 779.5,203.7 779.5,203.8 779.6,203.9 779.6,204 779.6,204.1 779.7,204.1 779.7,204.2 779.7,204.3 779.8,204.3 779.8,204.3 779.8,204.3 779.9,204.4 779.9,204.4 779.9,204.4 779.9,204.4 780,204.4 780,204.4 780,204.4 780.1,204.4 780.1,204.4 780.1,204.4 780.2,204.4 780.2,204.4 780.2,204.4 780.3,204.4 780.3,204.4 780.3,204.4 780.4,204.4 780.4,204.4 780.4,204.4 780.5,204.4 780.5,204.4 780.5,204.4 780.5,204.4 780.6,204.4 780.6,204.4 780.6,204.4 780.7,204.4 780.7,204.4 780.7,204.4 780.8,204.4 780.8,204.3 780.8,204.3 780.9,204.3 780.9,204.3 780.9,204.3 781,204.3 781,204.3 781,204.3 781.1,204.2 781.1,204.2 781.1,204.1 781.1,204.1 781.2,204 781.2,203.8 781.2,203.7 781.3,203.4 781.3,203.1 781.3,202.7 781.4,202.2 781.4,201.6 781.4,200.9 781.5,200 781.5,199 781.5,197.8 781.5,196.4 781.6,194.9 781.6,193.3 781.6,191.6 781.7,189.9 781.7,188.1 781.7,186.4 781.8,184.7 781.8,183.2 781.8,181.9 781.9,180.8 781.9,179.9 781.9,179.4 782,179.1 782,179.1 782,179.3 782,179.8 782.1,180.5 782.1,181.4 782.1,182.4 782.2,183.5 782.2,184.7 782.2,185.9 782.3,187.2 782.3,188.5 782.3,189.8 782.3,191.1 782.4,192.4 782.4,193.7 782.4,194.9 782.5,196.1 782.5,197.2 782.5,198.2 782.6,199.1 782.6,199.9 782.6,200.7 782.7,201.4 782.7,201.9 782.7,202.4 782.7,202.8 782.8,203.2 782.8,203.4 782.8,203.6 782.9,203.8 782.9,204 782.9,204.1 783,204.1 783,204.2 783,204.2 783,204.3 783.1,204.3 783.1,204.3 783.1,204.3 783.2,204.3 783.2,204.3 783.2,204.3 783.3,204.3 783.3,204.3 783.3,204.3 783.3,204.3 783.4,204.3 783.4,204.3 783.4,204.3 783.5,204.3 783.5,204.3 783.5,204.3 783.6,204.3 783.6,204.2 783.6,204.2 783.6,204.1 783.7,204.1 783.7,204 783.7,203.8 783.8,203.7 783.8,203.5 783.8,203.2 783.9,202.9 783.9,202.6 783.9,202.2 783.9,201.7 784,201.3 784,200.7 784,200.2 784.1,199.6 784.1,199.1 784.1,198.6 784.2,198.1 784.2,197.7 784.2,197.3 784.2,197.1 784.3,196.9 784.3,196.9 784.3,196.9 784.4,197.1 784.4,197.3 784.4,197.6 784.4,198 784.5,198.4 784.5,198.9 784.5,199.2 784.6,199.6 784.6,199.9 784.6,200 784.7,200.1 784.7,200 784.7,199.7 784.7,199.2 784.8,198.6 784.8,197.7 784.8,196.7 784.9,195.5 784.9,194.1 784.9,192.6 784.9,191 785,189.3 785,187.6 785,186 785.1,184.5 785.1,183.2 785.1,182.2 785.1,181.4 785.2,181 785.2,180.9 785.2,181.1 785.3,181.7 785.3,182.6 785.3,183.8 785.4,185.2 785.4,186.8 785.4,188.4 785.4,190.1 785.5,191.8 785.5,193.5 785.5,195 785.6,196.5 785.6,197.8 785.6,198.9 785.6,199.9 785.7,200.8 785.7,201.5 785.7,202.1 785.8,202.6 785.8,203 785.8,203.3 785.8,203.6 785.9,203.8 785.9,203.9 785.9,204 786,204.1 786,204.1 786,204.2 786,204.2 786.1,204.2 786.1,204.3 786.1,204.3 786.2,204.3 786.2,204.3 786.2,204.3 786.2,204.3 786.3,204.3 786.3,204.3 786.3,204.3 786.4,204.3 786.4,204.3 786.4,204.3 786.4,204.3 786.5,204.3 786.5,204.3 786.5,204.3 786.6,204.3 786.6,204.3 786.6,204.3 786.6,204.3 786.7,204.3 786.7,204.2 786.7,204.2 786.7,204.1 786.8,204.1 786.8,204 786.8,203.9 786.9,203.7 786.9,203.5 786.9,203.3 786.9,203.1 787,202.8 787,202.4 787,202.1 787.1,201.7 787.1,201.3 787.1,200.9 787.1,200.4 787.2,200 787.2,199.7 787.2,199.3 787.3,199 787.3,198.8 787.3,198.7 787.3,198.6 787.4,198.6 787.4,198.7 787.4,198.9 787.4,199.1 787.5,199.4 787.5,199.8 787.5,200.2 787.6,200.6 787.6,201 787.6,201.4 787.6,201.8 787.7,202.2 787.7,202.5 787.7,202.8 787.7,203.1 787.8,203.4 787.8,203.6 787.8,203.7 787.9,203.9 787.9,204 787.9,204.1 787.9,204.2 788,204.2 788,204.3 788,204.3 788.1,204.3 788.1,204.3 788.1,204.4 788.1,204.4 788.2,204.4 788.2,204.4 788.2,204.4 788.2,204.4 788.3,204.4 788.3,204.4 788.3,204.4 788.4,204.4 788.4,204.4 788.4,204.4 788.4,204.4 788.5,204.4 788.5,204.4 788.5,204.4 788.5,204.4 788.6,204.4 788.6,204.4 788.6,204.4 788.6,204.4 788.7,204.4 788.7,204.4 788.7,204.4 788.8,204.4 788.8,204.4 788.8,204.4 788.8,204.4 788.9,204.4 788.9,204.4 788.9,204.4 788.9,204.4 789,204.4 789,204.4 789,204.4 789.1,204.4 789.1,204.4 789.1,204.4 789.1,204.4 789.2,204.3 789.2,204.3 789.2,204.3 789.2,204.3 789.3,204.3 789.3,204.3 789.3,204.3 789.3,204.2 789.4,204.2 789.4,204.1 789.4,204.1 789.5,204 789.5,203.8 789.5,203.7 789.5,203.5 789.6,203.2 789.6,202.9 789.6,202.6 789.6,202.1 789.7,201.6 789.7,201 789.7,200.4 789.7,199.7 789.8,198.9 789.8,198.1 789.8,197.2 789.8,196.4 789.9,195.5 789.9,194.7 789.9,193.9 790,193.2 790,192.7 790,192.2 790,191.9 790.1,191.8 790.1,191.8 790.1,192 790.1,192.3 790.2,192.8 790.2,193.4 790.2,194.1 790.2,194.9 790.3,195.7 790.3,196.5 790.3,197.4 790.3,198.2 790.4,199 790.4,199.8 790.4,200.5 790.4,201.1 790.5,201.7 790.5,202.1 790.5,202.6 790.5,202.9 790.6,203.2 790.6,203.5 790.6,203.7 790.7,203.8 790.7,204 790.7,204.1 790.7,204.1 790.8,204.2 790.8,204.2 790.8,204.3 790.8,204.3 790.9,204.3 790.9,204.3 790.9,204.3 790.9,204.3 791,204.3 791,204.3 791,204.3 791,204.3 791.1,204.3 791.1,204.3 791.1,204.3 791.1,204.4 791.2,204.4 791.2,204.4 791.2,204.4 791.2,204.4 791.3,204.4 791.3,204.4 791.3,204.3 791.3,204.3 791.4,204.3 791.4,204.3 791.4,204.3 791.4,204.3 791.5,204.3 791.5,204.3 791.5,204.3 791.5,204.3 791.6,204.2 791.6,204.2 791.6,204.1 791.6,204 791.7,203.9 791.7,203.8 791.7,203.6 791.7,203.4 791.8,203.2 791.8,203 791.8,202.7 791.8,202.3 791.9,202 791.9,201.6 791.9,201.2 791.9,200.7 792,200.3 792,199.9 792,199.5 792,199.1 792.1,198.8 792.1,198.6 792.1,198.4 792.1,198.3 792.2,198.3 792.2,198.4 792.2,198.5 792.2,198.7 792.3,199 792.3,199.3 792.3,199.7 792.3,200.1 792.4,200.5 792.4,200.9 792.4,201.3 792.4,201.7 792.5,202.1 792.5,202.4 792.5,202.7 792.5,203 792.6,203.3 792.6,203.5 792.6,203.6 792.6,203.8 792.7,203.9 792.7,204 792.7,204.1 792.7,204.1 792.8,204.2 792.8,204.2 792.8,204.2 792.8,204.2 792.9,204.2 792.9,204.3 792.9,204.3 792.9,204.3 792.9,204.3 793,204.3 793,204.2 793,204.2 793,204.2 793.1,204.2 793.1,204.2 793.1,204.2 793.1,204.2 793.2,204.1 793.2,204.1 793.2,204.1 793.2,204 793.3,203.9 793.3,203.8 793.3,203.6 793.3,203.4 793.4,203.2 793.4,202.8 793.4,202.4 793.4,201.9 793.5,201.2 793.5,200.4 793.5,199.4 793.5,198.3 793.5,197 793.6,195.5 793.6,193.8 793.6,191.9 793.6,189.9 793.7,187.8 793.7,185.6 793.7,183.3 793.7,181.1 793.8,179 793.8,177 793.8,175.3 793.8,173.8 793.9,172.7 793.9,171.9 793.9,171.6 793.9,171.7 793.9,172.2 794,173.1 794,174.4 794,176 794,177.8 794.1,179.8 794.1,182 794.1,184.2 794.1,186.3 794.2,188.5 794.2,190.5 794.2,192.5 794.2,194.2 794.3,195.8 794.3,197.3 794.3,198.5 794.3,199.6 794.3,200.5 794.4,201.3 794.4,201.9 794.4,202.4 794.4,202.8 794.5,203.1 794.5,203.4 794.5,203.6 794.5,203.8 794.6,203.9 794.6,204 794.6,204 794.6,204.1 794.6,204.1 794.7,204.2 794.7,204.2 794.7,204.2 794.7,204.2 794.8,204.2 794.8,204.2 794.8,204.2 794.8,204.2 794.9,204.3 794.9,204.3 794.9,204.3 794.9,204.3 794.9,204.3 795,204.3 795,204.3 795,204.3 795,204.3 795.1,204.3 795.1,204.3 795.1,204.3 795.1,204.3 795.1,204.3 795.2,204.3 795.2,204.3 795.2,204.3 795.2,204.3 795.3,204.3 795.3,204.3 795.3,204.3 795.3,204.3 795.4,204.3 795.4,204.3 795.4,204.3 795.4,204.3 795.4,204.3" fill="none" stroke="#000" stroke-width="1.4" stroke-linejoin="round"/>
<polyline points="461.6,221.2 461.9,221.4 462.2,221.5 462.6,220.9 462.9,222 463.2,221.7 463.6,222 463.9,221.5 464.2,222.4 464.6,221.5 464.9,221 465.2,221.4 465.5,221.6 465.9,221.8 466.2,221.5 466.5,221.9 466.9,222.2 467.2,220.3 467.5,221.9 467.9,221 468.2,221.7 468.5,221.6 468.8,222 469.2,221.6 469.5,221.2 469.8,221.5 470.2,221.1 470.5,221.1 470.8,220.8 471.2,221.4 471.5,221.9 471.8,221.5 472.1,221.4 472.5,221.4 472.8,221.3 473.1,221.2 473.5,221.8 473.8,221.7 474.1,220.9 474.5,220.9 474.8,221.7 475.1,221.9 475.4,221.1 475.8,221.1 476.1,221.8 476.4,220.6 476.8,220.2 477.1,217.6 477.4,216.3 477.8,218.3 478.1,220.1 478.4,222.4 478.7,225.7 479.1,229.6 479.4,228.4 479.7,225.5 480.1,222.3 480.4,221.4 480.7,220.7 481.1,220.8 481.4,222.2 481.7,221.9 482,222 482.4,220.6 482.7,221.4 483,221.4 483.4,222.3 483.7,221.5 484,221.4 484.4,221.8 484.7,221.3 485,222.1 485.3,221.4 485.7,221.5 486,221.5 486.3,221.9 486.7,221.7 487,222.1 487.3,221.3 487.7,221.3 488,221.3 488.3,222.2 488.6,221.1 489,222.3 489.3,220.9 489.6,221.3 490,221 490.3,222.1 490.6,222 491,221.5 491.3,222.1 491.6,221.5 491.9,222 492.3,220.5 492.6,221.3 492.9,221.7 493.3,221.6 493.6,221.6 493.9,222.2 494.3,222.1 494.6,221.7 494.9,221.3 495.2,221.8 495.6,221.3 495.9,222.2 496.2,221.3 496.6,221.7 496.9,222.3 497.2,221.5 497.6,221.3 497.9,220.6 498.2,221.5 498.5,222.9 498.9,222.9 499.2,221.9 499.5,221.8 499.9,221.2 500.2,221.8 500.5,222 500.9,223 501.2,221.7 501.5,221.9 501.8,221.2 502.2,221.1 502.5,221.4 502.8,221.4 503.2,221.5 503.5,221.9 503.8,221.8 504.2,221.3 504.5,221.9 504.8,222.3 505.1,221.5 505.5,221.7 505.8,221.2 506.1,221.8 506.5,221.3 506.8,221.3 507.1,221.4 507.5,221.2 507.8,221.4 508.1,221.8 508.4,222.6 508.8,221.7 509.1,221.1 509.4,221.5 509.8,221.6 510.1,222.2 510.4,222.2 510.8,221.6 511.1,221.4 511.4,221.3 511.7,221.4 512.1,222.5 512.4,220.8 512.7,221.1 513.1,221.7 513.4,221.8 513.7,221.6 514.1,221.1 514.4,221.4 514.7,222.3 515,221.7 515.4,221.7 515.7,221.9 516,221.7 516.4,222.2 516.7,221.4 517,222.2 517.4,220.8 517.7,220.7 518,221.1 518.3,222 518.7,221 519,221.2 519.3,221.1 519.7,222 520,221.9 520.3,221.4 520.7,222.1 521,222.2 521.3,221.6 521.6,221 522,221.2 522.3,221.3 522.6,221.9 523,221.9 523.3,221.5 523.6,220.6 524,222.1 524.3,221.9 524.6,221.5 524.9,221.9 525.3,222 525.6,222.1 525.9,222.1 526.3,220.9 526.6,222.2 526.9,221.7 527.3,221.2 527.6,220.7 527.9,222.3 528.2,221.1 528.6,221.8 528.9,221.5 529.2,220.8 529.6,222.2 529.9,221.6 530.2,221.1 530.6,221.5 530.9,222.1 531.2,221.6 531.5,221.3 531.9,222.4 532.2,223.5 532.5,227.1 532.9,228.3 533.2,226.5 533.5,223.6 533.9,222.8 534.2,221.2 534.5,221.9 534.8,221.6 535.2,220.9 535.5,222.1 535.8,221.6 536.2,221.8 536.5,220.9 536.8,221.2 537.2,221.3 537.5,222.1 537.8,221.5 538.1,220.9 538.5,222.2 538.8,222 539.1,221.9 539.5,221.7 539.8,221 540.1,221.2 540.5,221.6 540.8,221.9 541.1,220.9 541.4,221.8 541.8,222.2 542.1,221.6 542.4,221.4 542.8,223.1 543.1,221.8 543.4,220.9 543.8,221.7 544.1,222.3 544.4,221 544.7,221.5 545.1,221.4 545.4,222.8 545.7,220.9 546.1,221.6 546.4,221.4 546.7,220.9 547.1,221.6 547.4,222.4 547.7,222.3 548,221.7 548.4,221.4 548.7,221.4 549,223.4 549.4,223.7 549.7,225.2 550,225.4 550.4,223.1 550.7,222.4 551,221.7 551.3,220.6 551.7,220.8 552,221.9 552.3,220.6 552.7,221.8 553,222.1 553.3,221.6 553.7,221.6 554,222.1 554.3,221.3 554.6,222.4 555,220.9 555.3,221.9 555.6,221.9 556,222.2 556.3,220.8 556.6,222.2 557,221.5 557.3,221.8 557.6,220.9 557.9,221.2 558.3,222.1 558.6,221 558.9,219.7 559.3,218.8 559.6,215.2 559.9,215.8 560.3,218.1 560.6,219.3 560.9,218.7 561.2,219.7 561.6,220.3 561.9,221.7 562.2,222.2 562.6,221 562.9,221.7 563.2,221.6 563.6,222.2 563.9,221.8 564.2,221.8 564.5,221.8 564.9,221 565.2,222.5 565.5,222 565.9,221 566.2,221.4 566.5,222.8 566.9,221.5 567.2,221.5 567.5,222.2 567.8,221.1 568.2,221.8 568.5,220.1 568.8,222.4 569.2,222.4 569.5,222 569.8,221.2 570.2,220.9 570.5,220.9 570.8,222 571.1,220.8 571.5,221.1 571.8,220.9 572.1,221.1 572.5,221.8 572.8,222.3 573.1,221.3 573.5,221.9 573.8,221.4 574.1,221.7 574.4,220 574.8,221.2 575.1,221.5 575.4,221.3 575.8,221.8 576.1,221.1 576.4,222.1 576.8,222.1 577.1,221.1 577.4,222 577.7,221.5 578.1,221.5 578.4,222.4 578.7,221 579.1,222.2 579.4,221.1 579.7,222.1 580.1,221.3 580.4,222.1 580.7,220.8 581,221.3 581.4,221.3 581.7,222.1 582,221.5 582.4,221.7 582.7,222.4 583,222 583.4,221.8 583.7,220.9 584,221.7 584.3,222.3 584.7,220.8 585,222.4 585.3,221.3 585.7,221.1 586,221.5 586.3,220.7 586.7,221.6 587,222.7 587.3,221.6 587.6,221.3 588,221.7 588.3,221.3 588.6,220.6 589,220.9 589.3,221.3 589.6,222.1 590,222 590.3,221.5 590.6,221.7 590.9,222.5 591.3,221.9 591.6,222.3 591.9,223 592.3,222.6 592.6,221.8 592.9,221.6 593.3,221.9 593.6,221.2 593.9,220.9 594.2,221.4 594.6,222.4 594.9,220.7 595.2,221.3 595.6,221 595.9,221.1 596.2,220.7 596.6,222.9 596.9,222.1 597.2,221.1 597.5,221.3 597.9,220.6 598.2,221.4 598.5,221.5 598.9,221.6 599.2,220.6 599.5,221 599.9,221.9 600.2,220.7 600.5,222.2 600.8,220.2 601.2,220.5 601.5,221.3 601.8,221.1 602.2,221.3 602.5,223 602.8,221.9 603.2,221.4 603.5,222.1 603.8,221.9 604.1,222.7 604.5,222.3 604.8,221.5 605.1,222.8 605.5,221.6 605.8,221.7 606.1,222.1 606.5,221.2 606.8,222 607.1,221.6 607.4,222.7 607.8,220.5 608.1,222.4 608.4,221.4 608.8,221.8 609.1,219.7 609.4,222.5 609.8,222.5 610.1,221.5 610.4,221.8 610.7,219.4 611.1,217.5 611.4,217.9 611.7,219.1 612.1,221.3 612.4,224.7 612.7,222.8 613.1,222.8 613.4,221.3 613.7,222 614,222.4 614.4,221.8 614.7,220.4 615,220.6 615.4,220.4 615.7,222.3 616,221.6 616.4,220.6 616.7,220.8 617,222.1 617.3,221.1 617.7,221.5 618,220.8 618.3,220.3 618.7,220.7 619,221.2 619.3,221.3 619.7,222.2 620,221.5 620.3,221.3 620.6,221.1 621,220.9 621.3,221.8 621.6,221.2 622,222.1 622.3,221.6 622.6,220.4 623,222.2 623.3,221.5 623.6,222.5 623.9,221 624.3,221.7 624.6,221.6 624.9,223 625.3,220.7 625.6,222.3 625.9,221.6 626.3,221.3 626.6,221.5 626.9,222.3 627.2,220.8 627.6,220.9 627.9,221.6 628.2,221.3 628.6,221.5 628.9,220.8 629.2,220.7 629.6,221.5 629.9,221.8 630.2,220.9 630.5,222.2 630.9,222.8 631.2,221.7 631.5,222.1 631.9,221.9 632.2,221.6 632.5,221.8 632.9,222 633.2,220.7 633.5,222.1 633.8,221.5 634.2,221.3 634.5,220.6 634.8,221.6 635.2,222 635.5,220.9 635.8,221.1 636.2,222.2 636.5,221.9 636.8,221.6 637.1,221.3 637.5,221.1 637.8,221.8 638.1,221.2 638.5,221.3 638.8,221 639.1,221.2 639.5,222 639.8,221.5 640.1,221.6 640.4,221.9 640.8,221.4 641.1,221.7 641.4,223.3 641.8,222.3 642.1,222 642.4,221 642.8,221.4 643.1,222.1 643.4,222.6 643.7,220.5 644.1,221.9 644.4,222.4 644.7,222.8 645.1,221.8 645.4,221.4 645.7,221.6 646.1,221.4 646.4,221.7 646.7,221.2 647,220.3 647.4,219.2 647.7,217 648,218.1 648.4,219.2 648.7,224.5 649,225.2 649.4,223 649.7,221.8 650,221.3 650.3,221.1 650.7,221.6 651,220.3 651.3,221.7 651.7,221.7 652,220.7 652.3,222.8 652.7,221.7 653,221.9 653.3,223.1 653.6,220.8 654,221.9 654.3,221.5 654.6,221.9 655,221.1 655.3,221 655.6,221.1 656,222.3 656.3,222 656.6,221.4 656.9,222.1 657.3,221.2 657.6,221.6 657.9,220.7 658.3,220.5 658.6,221.9 658.9,222.6 659.3,220.9 659.6,222.3 659.9,221.9 660.2,221.8 660.6,221.3 660.9,222.3 661.2,221.5 661.6,223 661.9,221 662.2,221.1 662.6,221.4 662.9,222.8 663.2,221.2 663.5,222.7 663.9,220.1 664.2,221.4 664.5,221.6 664.9,221.7 665.2,221.1 665.5,221.4 665.9,221.5 666.2,221.8 666.5,222.1 666.8,221.7 667.2,222.2 667.5,221 667.8,221.4 668.2,221.6 668.5,222.5 668.8,222.8 669.2,221.3 669.5,221.5 669.8,221.2 670.1,221.7 670.5,221.8 670.8,221.3 671.1,222 671.5,221.6 671.8,222.1 672.1,222.3 672.5,222.5 672.8,222.6 673.1,222.4 673.4,222.4 673.8,220.9 674.1,221.4 674.4,220.9 674.8,221.3 675.1,220.8 675.4,222.3 675.8,220.4 676.1,221.5 676.4,222.4 676.7,222.5 677.1,221.2 677.4,222.7 677.7,220.7 678.1,222.4 678.4,222.8 678.7,224.3 679.1,222.9 679.4,221.8 679.7,222 680,222.1 680.4,221.2 680.7,221.1 681,221.3 681.4,221.7 681.7,221.6 682,222.1 682.4,220.7 682.7,223.2 683,221.8 683.3,221.4 683.7,220.5 684,220.6 684.3,221.4 684.7,221.9 685,222 685.3,221.2 685.7,222.2 686,221.8 686.3,221.4 686.6,222.7 687,221.7 687.3,222.1 687.6,221.5 688,222 688.3,221.3 688.6,221.9 689,221.1 689.3,222 689.6,222.2 689.9,222.3 690.3,221.6 690.6,221.8 690.9,222 691.3,222.4 691.6,220.7 691.9,222.1 692.3,220.8 692.6,221.8 692.9,221 693.2,221.7 693.6,222.8 693.9,220.9 694.2,221.5 694.6,221.9 694.9,222.2 695.2,221.7 695.6,220.4 695.9,221.7 696.2,220.2 696.5,222 696.9,221.8 697.2,221.8 697.5,222 697.9,222.4 698.2,222.2 698.5,221.1 698.9,222.2 699.2,221.6 699.5,221.1 699.8,220.3 700.2,222.9 700.5,221.8 700.8,222.5 701.2,221.4 701.5,221.8 701.8,222.5 702.2,222 702.5,221.5 702.8,221.6 703.1,221.7 703.5,221.1 703.8,221.3 704.1,221.8 704.5,221.9 704.8,221.2 705.1,222.1 705.5,222.2 705.8,222.9 706.1,221.5 706.4,223.1 706.8,221.1 707.1,221.8 707.4,222.1 707.8,222.9 708.1,220.9 708.4,221.5 708.8,221 709.1,222.1 709.4,222.5 709.7,220.2 710.1,221.5 710.4,221 710.7,220.4 711.1,222.4 711.4,221.9 711.7,221.2 712.1,222.5 712.4,221.7 712.7,221.8 713,221 713.4,221.7 713.7,222.8 714,221.7 714.4,221.2 714.7,221.9 715,220.8 715.4,220.9 715.7,222.6 716,221.1 716.3,221 716.7,221.6 717,220.6 717.3,221.3 717.7,220.8 718,218.4 718.3,218.5 718.7,219.9 719,220.1 719.3,222.2 719.6,222 720,221.8 720.3,220.9 720.6,221.9 721,221.3 721.3,221.1 721.6,220.6 722,221.1 722.3,223 722.6,222.4 722.9,220.9 723.3,223 723.6,221.6 723.9,222.1 724.3,221.4 724.6,221.3 724.9,222.2 725.3,220.7 725.6,220.2 725.9,221.6 726.2,222.8 726.6,221.1 726.9,221.8 727.2,221.4 727.6,222.3 727.9,220.7 728.2,221.2 728.6,221.3 728.9,221 729.2,221.2 729.5,222.7 729.9,221.7 730.2,221.6 730.5,221.2 730.9,222.3 731.2,220.3 731.5,222.8 731.9,220.9 732.2,221.2 732.5,220.7 732.8,222.1 733.2,222.4 733.5,221.9 733.8,220.5 734.2,222.2 734.5,220.8 734.8,220.8 735.2,222.3 735.5,220.6 735.8,220.8 736.1,221.4 736.5,221.7 736.8,221.8 737.1,223.1 737.5,221 737.8,221.8 738.1,220.8 738.5,220.4 738.8,222.7 739.1,220.6 739.4,222.5 739.8,221.7 740.1,221.3 740.4,221.2 740.8,220.8 741.1,222.3 741.4,219.9 741.8,221 742.1,221 742.4,221.7 742.7,221.8 743.1,220.9 743.4,222.3 743.7,221.1 744.1,223.8 744.4,221.3 744.7,221.9 745.1,220.6 745.4,222.2 745.7,222.4 746,221.8 746.4,222.2 746.7,220.9 747,222.4 747.4,222.2 747.7,221 748,220.9 748.4,222.8 748.7,221.4 749,222.8 749.3,222.1 749.7,222.5 750,222.1 750.3,221.6 750.7,221.7 751,222.2 751.3,220.2 751.7,220.3 752,219.7 752.3,220.8 752.6,222.2 753,221.8 753.3,225.5 753.6,224.3 754,222.2 754.3,222.1 754.6,221.6 755,222 755.3,222 755.6,220.2 755.9,222.4 756.3,221.1 756.6,222.1 756.9,220.4 757.3,221 757.6,221.3 757.9,221.3 758.3,222.5 758.6,221 758.9,220.1 759.2,220.7 759.6,219.9 759.9,222.7 760.2,220.9 760.6,221.7 760.9,223.4 761.2,220 761.6,220 761.9,222.4 762.2,220.4 762.5,219.9 762.9,221.6 763.2,222.3 763.5,219.9 763.9,220.7 764.2,220.1 764.5,220.5 764.9,220.9 765.2,221.4 765.5,222.5 765.8,222.1 766.2,220.6 766.5,221.2 766.8,221.8 767.2,221.5 767.5,220.9 767.8,220.6 768.2,218.4 768.5,217.9 768.8,218.6 769.1,222.3 769.5,222.5 769.8,222.1 770.1,224.8 770.5,220.7 770.8,223.6 771.1,220.4 771.5,220.8 771.8,220.9 772.1,222.3 772.4,220.9 772.8,222.4 773.1,222.4 773.4,222.1 773.8,219.7 774.1,221.4 774.4,221.9 774.8,221.3 775.1,222.1 775.4,222 775.7,222.6 776.1,220.2 776.4,220.6 776.7,221.2 777.1,221 777.4,224.1 777.7,222 778.1,222.3 778.4,222.4 778.7,221.9 779,221.7 779.4,223.1 779.7,222.4 780,222 780.4,222.8 780.7,222.3 781,223.4 781.4,221.8 781.7,222.6 782,222.2 782.3,221.7 782.7,221.4 783,222.3 783.3,222.1 783.7,222.7 784,221.2 784.3,221.8 784.7,223 785,220.4 785.3,220.7 785.6,222.1 786,221.8 786.3,221.3 786.6,220.8 787,221.5 787.3,221.5 787.6,222.2 788,221 788.3,223.3 788.6,222.8 788.9,222.1 789.3,221.6 789.6,223.3 789.9,219.7 790.3,222.4 790.6,220.4 790.9,220.1 791.3,223.5 791.6,222.9 791.9,221.7 792.2,221.1 792.6,220.3 792.9,221.7 793.2,221.3 793.6,221.5 793.9,220.7 794.2,221.1 794.6,224 794.9,222.6 795.2,223.3" fill="none" stroke="#0000ff" stroke-width="1.4" stroke-linejoin="round"/>
<rect x="97.4" y="19.1" width="339.9" height="216.5" fill="none" stroke="#000" stroke-width="2.2"/>
<path d="M151.9 235.6v-7.2M151.9 19.1v7.2M216 235.6v-7.2M216 19.1v7.2M280.2 235.6v-7.2M280.2 19.1v7.2M344.3 235.6v-7.2M344.3 19.1v7.2M408.4 235.6v-7.2M408.4 19.1v7.2M97.4 215.9h7.2M97.4 176.5h7.2M97.4 137.2h7.2M97.4 97.8h7.2M97.4 58.4h7.2" stroke="#000" stroke-width="1.9" fill="none"/>
<text x="153.5" y="258.9" text-anchor="middle">2</text>
<text x="217.6" y="258.9" text-anchor="middle">4</text>
<text x="281.8" y="258.9" text-anchor="middle">6</text>
<text x="345.9" y="258.9" text-anchor="middle">8</text>
<text x="410" y="258.9" text-anchor="middle">10</text>
<text x="267.7" y="286.4" text-anchor="middle">IQI (Å<tspan dy="-8.2" font-size="13.3">−1</tspan><tspan dy="8.2">)</tspan></text>
<text x="352.6" y="42.6">(a) 150 K</text>
<rect x="453.2" y="19.1" width="347.1" height="216.5" fill="none" stroke="#000" stroke-width="2.2"/>
<path d="M508.9 235.6v-7.2M508.9 19.1v7.2M574.4 235.6v-7.2M574.4 19.1v7.2M639.8 235.6v-7.2M639.8 19.1v7.2M705.3 235.6v-7.2M705.3 19.1v7.2M770.8 235.6v-7.2M770.8 19.1v7.2M453.2 215.9h7.2M453.2 176.5h7.2M453.2 137.2h7.2M453.2 97.8h7.2M453.2 58.4h7.2" stroke="#000" stroke-width="1.9" fill="none"/>
<text x="510.5" y="258.9" text-anchor="middle">2</text>
<text x="576" y="258.9" text-anchor="middle">4</text>
<text x="641.4" y="258.9" text-anchor="middle">6</text>
<text x="706.9" y="258.9" text-anchor="middle">8</text>
<text x="772.4" y="258.9" text-anchor="middle">10</text>
<text x="626.5" y="286.4" text-anchor="middle">IQI (Å<tspan dy="-8.2" font-size="13.3">−1</tspan><tspan dy="8.2">)</tspan></text>
<text x="731.1" y="42.6">(b) 2 K</text>
<text x="86.8" y="222" text-anchor="end">0</text>
<text x="86.8" y="182.6" text-anchor="end">10000</text>
<text x="86.8" y="143.3" text-anchor="end">20000</text>
<text x="86.8" y="103.9" text-anchor="end">30000</text>
<text x="86.8" y="64.5" text-anchor="end">40000</text>
<text x="86.8" y="25.2" text-anchor="end">50000</text>
<text transform="translate(22.6,127.2) rotate(-90)" text-anchor="middle">Intensity (Counts)</text>
</g></svg>
</body></html>
